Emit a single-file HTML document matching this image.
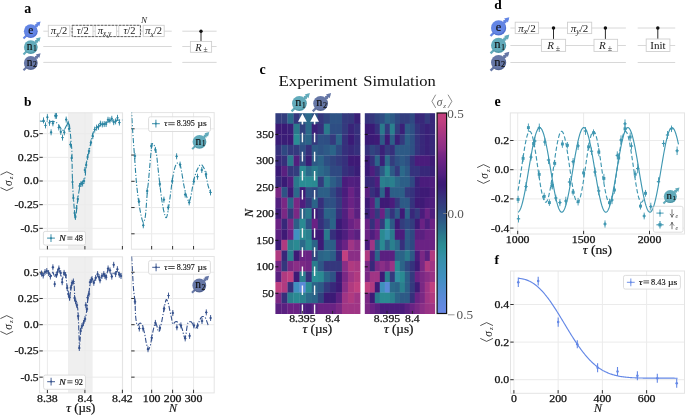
<!DOCTYPE html>
<html><head><meta charset="utf-8"><style>
html,body{margin:0;padding:0;background:#fff;}
svg{display:block;font-family:'Liberation Serif', serif;will-change:transform;}
</style></head><body>
<svg width="685" height="415" viewBox="0 0 685 415">
<defs><radialGradient id="ge" cx="0.45" cy="0.42" r="0.62"><stop offset="0" stop-color="#6385e4"/><stop offset="0.72" stop-color="#6385e4"/><stop offset="0.86" stop-color="#4c6ccc"/><stop offset="1" stop-color="#6385e4"/></radialGradient><radialGradient id="gn1" cx="0.45" cy="0.42" r="0.62"><stop offset="0" stop-color="#62abbb"/><stop offset="0.72" stop-color="#62abbb"/><stop offset="0.86" stop-color="#4a93a3"/><stop offset="1" stop-color="#62abbb"/></radialGradient><radialGradient id="gn2" cx="0.45" cy="0.42" r="0.62"><stop offset="0" stop-color="#6677a6"/><stop offset="0.72" stop-color="#6677a6"/><stop offset="0.86" stop-color="#52628e"/><stop offset="1" stop-color="#6677a6"/></radialGradient></defs>
<text x="24.30" y="12.80" font-size="14" text-anchor="start" font-weight="bold" font-style="normal" fill="#000" >a</text>
<text x="23.90" y="105.90" font-size="13.5" text-anchor="start" font-weight="bold" font-style="normal" fill="#000" >b</text>
<text x="259.40" y="73.50" font-size="14" text-anchor="start" font-weight="bold" font-style="normal" fill="#000" >c</text>
<text x="494.30" y="8.60" font-size="13.5" text-anchor="start" font-weight="bold" font-style="normal" fill="#000" >d</text>
<text x="494.50" y="105.90" font-size="14" text-anchor="start" font-weight="bold" font-style="normal" fill="#000" >e</text>
<text x="494.50" y="263.70" font-size="13.5" text-anchor="start" font-weight="bold" font-style="normal" fill="#000" >f</text>
<line x1="43.30" y1="31.20" x2="171.70" y2="31.20" stroke="#d4d4d4" stroke-width="0.9" />
<line x1="182.30" y1="31.20" x2="216.60" y2="31.20" stroke="#d4d4d4" stroke-width="0.9" />
<line x1="43.30" y1="46.50" x2="171.70" y2="46.50" stroke="#d4d4d4" stroke-width="0.9" />
<line x1="182.30" y1="46.50" x2="216.60" y2="46.50" stroke="#d4d4d4" stroke-width="0.9" />
<line x1="43.30" y1="62.40" x2="171.70" y2="62.40" stroke="#d4d4d4" stroke-width="0.9" />
<line x1="182.30" y1="62.40" x2="216.60" y2="62.40" stroke="#d4d4d4" stroke-width="0.9" />
<line x1="23.48" y1="38.52" x2="39.06" y2="22.94" stroke="#6385e4" stroke-width="2.07"/>
<polygon points="40.56,21.44 39.29,26.22 35.78,22.71" fill="#6385e4"/>
<polygon points="38.51,23.49 37.53,27.39 34.61,24.47" fill="#6385e4"/>
<circle cx="30.80" cy="31.20" r="6.90" fill="url(#ge)"/>
<text x="30.80" y="33.96" font-size="11.454" text-anchor="middle" font-weight="normal" font-style="normal" fill="#111" stroke="#111" stroke-width="0.2" >e</text>
<line x1="23.48" y1="54.42" x2="39.06" y2="38.84" stroke="#62abbb" stroke-width="2.07"/>
<polygon points="40.56,37.34 39.29,42.12 35.78,38.61" fill="#62abbb"/>
<polygon points="38.51,39.39 37.53,43.29 34.61,40.37" fill="#62abbb"/>
<circle cx="30.80" cy="47.10" r="6.90" fill="url(#gn1)"/>
<text x="29.70" y="49.86" font-size="11.454" text-anchor="middle" font-weight="normal" font-style="normal" fill="#111" stroke="#111" stroke-width="0.15" >n</text>
<text x="34.94" y="51.10" font-size="7.590000000000001" text-anchor="middle" font-weight="normal" font-style="normal" fill="#111" stroke="#111" stroke-width="0.12" >1</text>
<line x1="23.48" y1="70.32" x2="39.06" y2="54.74" stroke="#6677a6" stroke-width="2.07"/>
<polygon points="40.56,53.24 39.29,58.02 35.78,54.51" fill="#6677a6"/>
<polygon points="38.51,55.29 37.53,59.19 34.61,56.27" fill="#6677a6"/>
<circle cx="30.80" cy="63.00" r="6.90" fill="url(#gn2)"/>
<text x="29.70" y="65.76" font-size="11.454" text-anchor="middle" font-weight="normal" font-style="normal" fill="#111" stroke="#111" stroke-width="0.15" >n</text>
<text x="34.94" y="67.00" font-size="7.590000000000001" text-anchor="middle" font-weight="normal" font-style="normal" fill="#111" stroke="#111" stroke-width="0.12" >2</text>
<rect x="48.30" y="25.30" width="21.50" height="11.30" fill="#fff" stroke="#cfcfcf" stroke-width="0.9" />
<text x="59.00" y="34.40" font-size="10.5" text-anchor="middle" fill="#222" font-style="normal"><tspan font-style="italic">π</tspan><tspan font-size="7.3" dy="2.3" font-style="italic">x</tspan><tspan dy="-2.3">/2</tspan></text>
<rect x="72.60" y="25.30" width="20.40" height="11.30" fill="#fff" stroke="#cfcfcf" stroke-width="0.9" />
<text x="82.80" y="34.40" font-size="10.5" text-anchor="middle" fill="#222" font-style="normal"><tspan font-style="italic">τ</tspan>/2</text>
<rect x="95.20" y="25.30" width="21.40" height="11.30" fill="#fff" stroke="#cfcfcf" stroke-width="0.9" />
<text x="104.50" y="33.80" font-size="10.5" text-anchor="middle" fill="#222" font-style="normal"><tspan font-style="italic">π</tspan><tspan font-size="7.3" dy="2.3" font-style="italic">x,y</tspan><tspan dy="-2.3"></tspan></text>
<rect x="118.80" y="25.30" width="21.40" height="11.30" fill="#fff" stroke="#cfcfcf" stroke-width="0.9" />
<text x="129.50" y="34.40" font-size="10.5" text-anchor="middle" fill="#222" font-style="normal"><tspan font-style="italic">τ</tspan>/2</text>
<rect x="72.10" y="25.30" width="68.40" height="11.30" fill="none" stroke="#555" stroke-width="0.9" stroke-dasharray="2.4,1.2"/>
<text x="144.00" y="23.30" font-size="9" text-anchor="middle" font-weight="normal" font-style="italic" fill="#222" >N</text>
<rect x="143.20" y="25.30" width="21.00" height="11.30" fill="#fff" stroke="#cfcfcf" stroke-width="0.9" />
<text x="153.70" y="34.40" font-size="10.5" text-anchor="middle" fill="#222" font-style="normal"><tspan font-style="italic">π</tspan><tspan font-size="7.3" dy="2.3" font-style="italic">x</tspan><tspan dy="-2.3">/2</tspan></text>
<line x1="201.00" y1="31.20" x2="201.00" y2="41.40" stroke="#222" stroke-width="0.95" />
<circle cx="201" cy="31.2" r="1.7" fill="#111"/>
<rect x="190.40" y="41.40" width="21.20" height="10.90" fill="#fff" stroke="#cfcfcf" stroke-width="0.9" />
<text x="198.5" y="50.5" font-size="10.5" font-style="italic" text-anchor="middle" fill="#222">R</text><text x="205.5" y="52" font-size="7.5" text-anchor="middle" fill="#333">±</text>
<line x1="510.40" y1="28.00" x2="625.90" y2="28.00" stroke="#d4d4d4" stroke-width="0.9" />
<line x1="637.70" y1="28.00" x2="675.20" y2="28.00" stroke="#d4d4d4" stroke-width="0.9" />
<line x1="510.40" y1="45.50" x2="625.90" y2="45.50" stroke="#d4d4d4" stroke-width="0.9" />
<line x1="637.70" y1="45.50" x2="675.20" y2="45.50" stroke="#d4d4d4" stroke-width="0.9" />
<line x1="510.40" y1="62.50" x2="625.90" y2="62.50" stroke="#d4d4d4" stroke-width="0.9" />
<line x1="637.70" y1="62.50" x2="675.20" y2="62.50" stroke="#d4d4d4" stroke-width="0.9" />
<line x1="490.54" y1="35.96" x2="507.85" y2="18.65" stroke="#6385e4" stroke-width="2.28"/>
<polygon points="509.35,17.15 507.95,22.42 504.08,18.55" fill="#6385e4"/>
<polygon points="507.09,19.41 506.02,23.71 502.79,20.48" fill="#6385e4"/>
<circle cx="498.60" cy="27.90" r="7.60" fill="url(#ge)"/>
<text x="498.60" y="30.94" font-size="12.616" text-anchor="middle" font-weight="normal" font-style="normal" fill="#111" stroke="#111" stroke-width="0.2" >e</text>
<line x1="490.54" y1="53.36" x2="507.85" y2="36.05" stroke="#62abbb" stroke-width="2.28"/>
<polygon points="509.35,34.55 507.95,39.82 504.08,35.95" fill="#62abbb"/>
<polygon points="507.09,36.81 506.02,41.11 502.79,37.88" fill="#62abbb"/>
<circle cx="498.60" cy="45.30" r="7.60" fill="url(#gn1)"/>
<text x="497.38" y="48.34" font-size="12.616" text-anchor="middle" font-weight="normal" font-style="normal" fill="#111" stroke="#111" stroke-width="0.15" >n</text>
<text x="503.16" y="49.71" font-size="8.36" text-anchor="middle" font-weight="normal" font-style="normal" fill="#111" stroke="#111" stroke-width="0.12" >1</text>
<line x1="490.54" y1="70.66" x2="507.85" y2="53.35" stroke="#6677a6" stroke-width="2.28"/>
<polygon points="509.35,51.85 507.95,57.12 504.08,53.25" fill="#6677a6"/>
<polygon points="507.09,54.11 506.02,58.41 502.79,55.18" fill="#6677a6"/>
<circle cx="498.60" cy="62.60" r="7.60" fill="url(#gn2)"/>
<text x="497.38" y="65.64" font-size="12.616" text-anchor="middle" font-weight="normal" font-style="normal" fill="#111" stroke="#111" stroke-width="0.15" >n</text>
<text x="503.16" y="67.01" font-size="8.36" text-anchor="middle" font-weight="normal" font-style="normal" fill="#111" stroke="#111" stroke-width="0.12" >2</text>
<rect x="515.20" y="22.20" width="23.40" height="11.40" fill="#fff" stroke="#cfcfcf" stroke-width="0.9" />
<text x="526.90" y="31.60" font-size="11" text-anchor="middle" fill="#222" font-style="normal"><tspan font-style="italic">π</tspan><tspan font-size="7.7" dy="2.4" font-style="italic">x</tspan><tspan dy="-2.4">/2</tspan></text>
<rect x="567.50" y="22.20" width="24.20" height="11.40" fill="#fff" stroke="#cfcfcf" stroke-width="0.9" />
<text x="579.60" y="31.60" font-size="11" text-anchor="middle" fill="#222" font-style="normal"><tspan font-style="italic">π</tspan><tspan font-size="7.7" dy="2.4" font-style="italic">y</tspan><tspan dy="-2.4">/2</tspan></text>
<line x1="553.50" y1="28.00" x2="553.50" y2="39.30" stroke="#222" stroke-width="0.95" />
<circle cx="553.5" cy="28.0" r="1.75" fill="#111"/>
<rect x="541.40" y="39.30" width="24.20" height="12.10" fill="#fff" stroke="#cfcfcf" stroke-width="0.9" />
<text x="550.5" y="49.3" font-size="11" font-style="italic" text-anchor="middle" fill="#222">R</text><text x="558.0" y="51" font-size="8" text-anchor="middle" fill="#333">±</text>
<line x1="605.40" y1="28.00" x2="605.40" y2="39.30" stroke="#222" stroke-width="0.95" />
<circle cx="605.4" cy="28.0" r="1.75" fill="#111"/>
<rect x="594.00" y="39.30" width="23.60" height="12.10" fill="#fff" stroke="#cfcfcf" stroke-width="0.9" />
<text x="602.4" y="49.3" font-size="11" font-style="italic" text-anchor="middle" fill="#222">R</text><text x="609.9" y="51" font-size="8" text-anchor="middle" fill="#333">±</text>
<line x1="657.80" y1="28.00" x2="657.80" y2="39.00" stroke="#222" stroke-width="0.95" />
<circle cx="657.8" cy="28.0" r="1.75" fill="#111"/>
<rect x="646.20" y="39.00" width="23.70" height="12.50" fill="#fff" stroke="#cfcfcf" stroke-width="0.9" />
<text x="658" y="49.2" font-size="11" text-anchor="middle" fill="#111">Init</text>
<rect x="275.40" y="113.20" width="6.35" height="10.85" fill="#333d7e"/>
<rect x="281.45" y="113.20" width="6.35" height="10.85" fill="#333d7e"/>
<rect x="287.50" y="113.20" width="6.35" height="10.85" fill="#2b6a8a"/>
<rect x="293.55" y="113.20" width="6.35" height="10.85" fill="#35377d"/>
<rect x="299.60" y="113.20" width="6.35" height="10.85" fill="#2d5a86"/>
<rect x="305.65" y="113.20" width="6.35" height="10.85" fill="#2b6a8a"/>
<rect x="311.70" y="113.20" width="6.35" height="10.85" fill="#2e5385"/>
<rect x="317.75" y="113.20" width="6.35" height="10.85" fill="#35377d"/>
<rect x="323.80" y="113.20" width="6.35" height="10.85" fill="#30447f"/>
<rect x="329.85" y="113.20" width="6.35" height="10.85" fill="#2e5385"/>
<rect x="335.90" y="113.20" width="6.35" height="10.85" fill="#2e5385"/>
<rect x="341.95" y="113.20" width="6.35" height="10.85" fill="#343a7e"/>
<rect x="348.00" y="113.20" width="6.35" height="10.85" fill="#35377d"/>
<rect x="354.05" y="113.20" width="6.35" height="10.85" fill="#3a2078"/>
<rect x="275.40" y="123.75" width="6.35" height="10.85" fill="#3c1a76"/>
<rect x="281.45" y="123.75" width="6.35" height="10.85" fill="#3a1a76"/>
<rect x="287.50" y="123.75" width="6.35" height="10.85" fill="#3a2078"/>
<rect x="293.55" y="123.75" width="6.35" height="10.85" fill="#2a7a8c"/>
<rect x="299.60" y="123.75" width="6.35" height="10.85" fill="#31417f"/>
<rect x="305.65" y="123.75" width="6.35" height="10.85" fill="#2b6a8a"/>
<rect x="311.70" y="123.75" width="6.35" height="10.85" fill="#3a2078"/>
<rect x="317.75" y="123.75" width="6.35" height="10.85" fill="#36307c"/>
<rect x="323.80" y="123.75" width="6.35" height="10.85" fill="#2a7a8c"/>
<rect x="329.85" y="123.75" width="6.35" height="10.85" fill="#2e4e84"/>
<rect x="335.90" y="123.75" width="6.35" height="10.85" fill="#2e4e84"/>
<rect x="341.95" y="123.75" width="6.35" height="10.85" fill="#343a7e"/>
<rect x="348.00" y="123.75" width="6.35" height="10.85" fill="#392479"/>
<rect x="354.05" y="123.75" width="6.35" height="10.85" fill="#36307c"/>
<rect x="275.40" y="134.31" width="6.35" height="10.85" fill="#3a1d77"/>
<rect x="281.45" y="134.31" width="6.35" height="10.85" fill="#3a1d77"/>
<rect x="287.50" y="134.31" width="6.35" height="10.85" fill="#3c1a76"/>
<rect x="293.55" y="134.31" width="6.35" height="10.85" fill="#2a8c94"/>
<rect x="299.60" y="134.31" width="6.35" height="10.85" fill="#2d5a86"/>
<rect x="305.65" y="134.31" width="6.35" height="10.85" fill="#2b6488"/>
<rect x="311.70" y="134.31" width="6.35" height="10.85" fill="#343a7e"/>
<rect x="317.75" y="134.31" width="6.35" height="10.85" fill="#2e5084"/>
<rect x="323.80" y="134.31" width="6.35" height="10.85" fill="#2e4e84"/>
<rect x="329.85" y="134.31" width="6.35" height="10.85" fill="#343a7e"/>
<rect x="335.90" y="134.31" width="6.35" height="10.85" fill="#2b6488"/>
<rect x="341.95" y="134.31" width="6.35" height="10.85" fill="#36307c"/>
<rect x="348.00" y="134.31" width="6.35" height="10.85" fill="#3a1a76"/>
<rect x="354.05" y="134.31" width="6.35" height="10.85" fill="#372c7b"/>
<rect x="275.40" y="144.86" width="6.35" height="10.85" fill="#36307c"/>
<rect x="281.45" y="144.86" width="6.35" height="10.85" fill="#2f4982"/>
<rect x="287.50" y="144.86" width="6.35" height="10.85" fill="#343a7e"/>
<rect x="293.55" y="144.86" width="6.35" height="10.85" fill="#343a7e"/>
<rect x="299.60" y="144.86" width="6.35" height="10.85" fill="#2e4e84"/>
<rect x="305.65" y="144.86" width="6.35" height="10.85" fill="#36307c"/>
<rect x="311.70" y="144.86" width="6.35" height="10.85" fill="#2d5a86"/>
<rect x="317.75" y="144.86" width="6.35" height="10.85" fill="#2e5385"/>
<rect x="323.80" y="144.86" width="6.35" height="10.85" fill="#2d5a86"/>
<rect x="329.85" y="144.86" width="6.35" height="10.85" fill="#2b6488"/>
<rect x="335.90" y="144.86" width="6.35" height="10.85" fill="#2f4982"/>
<rect x="341.95" y="144.86" width="6.35" height="10.85" fill="#36307c"/>
<rect x="348.00" y="144.86" width="6.35" height="10.85" fill="#38287a"/>
<rect x="354.05" y="144.86" width="6.35" height="10.85" fill="#36307c"/>
<rect x="275.40" y="155.41" width="6.35" height="10.85" fill="#38287a"/>
<rect x="281.45" y="155.41" width="6.35" height="10.85" fill="#36307c"/>
<rect x="287.50" y="155.41" width="6.35" height="10.85" fill="#2a7a8c"/>
<rect x="293.55" y="155.41" width="6.35" height="10.85" fill="#521f7f"/>
<rect x="299.60" y="155.41" width="6.35" height="10.85" fill="#2f4982"/>
<rect x="305.65" y="155.41" width="6.35" height="10.85" fill="#3a2078"/>
<rect x="311.70" y="155.41" width="6.35" height="10.85" fill="#2d5a86"/>
<rect x="317.75" y="155.41" width="6.35" height="10.85" fill="#2b6488"/>
<rect x="323.80" y="155.41" width="6.35" height="10.85" fill="#2e4e84"/>
<rect x="329.85" y="155.41" width="6.35" height="10.85" fill="#30447f"/>
<rect x="335.90" y="155.41" width="6.35" height="10.85" fill="#343a7e"/>
<rect x="341.95" y="155.41" width="6.35" height="10.85" fill="#36307c"/>
<rect x="348.00" y="155.41" width="6.35" height="10.85" fill="#3e1a76"/>
<rect x="354.05" y="155.41" width="6.35" height="10.85" fill="#3e1a76"/>
<rect x="275.40" y="165.96" width="6.35" height="10.85" fill="#3a1a76"/>
<rect x="281.45" y="165.96" width="6.35" height="10.85" fill="#5a2080"/>
<rect x="287.50" y="165.96" width="6.35" height="10.85" fill="#35377d"/>
<rect x="293.55" y="165.96" width="6.35" height="10.85" fill="#333d7e"/>
<rect x="299.60" y="165.96" width="6.35" height="10.85" fill="#2a8a92"/>
<rect x="305.65" y="165.96" width="6.35" height="10.85" fill="#2b6a8a"/>
<rect x="311.70" y="165.96" width="6.35" height="10.85" fill="#2a7a8c"/>
<rect x="317.75" y="165.96" width="6.35" height="10.85" fill="#2b6a8a"/>
<rect x="323.80" y="165.96" width="6.35" height="10.85" fill="#2c5f87"/>
<rect x="329.85" y="165.96" width="6.35" height="10.85" fill="#2f4982"/>
<rect x="335.90" y="165.96" width="6.35" height="10.85" fill="#2f4982"/>
<rect x="341.95" y="165.96" width="6.35" height="10.85" fill="#36307c"/>
<rect x="348.00" y="165.96" width="6.35" height="10.85" fill="#38287a"/>
<rect x="354.05" y="165.96" width="6.35" height="10.85" fill="#3a1d77"/>
<rect x="275.40" y="176.52" width="6.35" height="10.85" fill="#38287a"/>
<rect x="281.45" y="176.52" width="6.35" height="10.85" fill="#3a1a76"/>
<rect x="287.50" y="176.52" width="6.35" height="10.85" fill="#521f7f"/>
<rect x="293.55" y="176.52" width="6.35" height="10.85" fill="#2a7a8c"/>
<rect x="299.60" y="176.52" width="6.35" height="10.85" fill="#2a8c94"/>
<rect x="305.65" y="176.52" width="6.35" height="10.85" fill="#2a8c94"/>
<rect x="311.70" y="176.52" width="6.35" height="10.85" fill="#2a8a92"/>
<rect x="317.75" y="176.52" width="6.35" height="10.85" fill="#333d7e"/>
<rect x="323.80" y="176.52" width="6.35" height="10.85" fill="#2a7a8c"/>
<rect x="329.85" y="176.52" width="6.35" height="10.85" fill="#2c5f87"/>
<rect x="335.90" y="176.52" width="6.35" height="10.85" fill="#2e4e84"/>
<rect x="341.95" y="176.52" width="6.35" height="10.85" fill="#4a1c7c"/>
<rect x="348.00" y="176.52" width="6.35" height="10.85" fill="#521f7f"/>
<rect x="354.05" y="176.52" width="6.35" height="10.85" fill="#4e1e7e"/>
<rect x="275.40" y="187.07" width="6.35" height="10.85" fill="#7a2884"/>
<rect x="281.45" y="187.07" width="6.35" height="10.85" fill="#2e5385"/>
<rect x="287.50" y="187.07" width="6.35" height="10.85" fill="#3e1a76"/>
<rect x="293.55" y="187.07" width="6.35" height="10.85" fill="#2b6a8a"/>
<rect x="299.60" y="187.07" width="6.35" height="10.85" fill="#3c1a76"/>
<rect x="305.65" y="187.07" width="6.35" height="10.85" fill="#2e5084"/>
<rect x="311.70" y="187.07" width="6.35" height="10.85" fill="#2f4982"/>
<rect x="317.75" y="187.07" width="6.35" height="10.85" fill="#2c5f87"/>
<rect x="323.80" y="187.07" width="6.35" height="10.85" fill="#2c5f87"/>
<rect x="329.85" y="187.07" width="6.35" height="10.85" fill="#2f4982"/>
<rect x="335.90" y="187.07" width="6.35" height="10.85" fill="#36307c"/>
<rect x="341.95" y="187.07" width="6.35" height="10.85" fill="#4a1c7c"/>
<rect x="348.00" y="187.07" width="6.35" height="10.85" fill="#6a2284"/>
<rect x="354.05" y="187.07" width="6.35" height="10.85" fill="#521f7f"/>
<rect x="275.40" y="197.62" width="6.35" height="10.85" fill="#521f7f"/>
<rect x="281.45" y="197.62" width="6.35" height="10.85" fill="#7a2884"/>
<rect x="287.50" y="197.62" width="6.35" height="10.85" fill="#2b6488"/>
<rect x="293.55" y="197.62" width="6.35" height="10.85" fill="#7a2884"/>
<rect x="299.60" y="197.62" width="6.35" height="10.85" fill="#4e1e7e"/>
<rect x="305.65" y="197.62" width="6.35" height="10.85" fill="#343a7e"/>
<rect x="311.70" y="197.62" width="6.35" height="10.85" fill="#2b6488"/>
<rect x="317.75" y="197.62" width="6.35" height="10.85" fill="#36307c"/>
<rect x="323.80" y="197.62" width="6.35" height="10.85" fill="#2e5084"/>
<rect x="329.85" y="197.62" width="6.35" height="10.85" fill="#2e5084"/>
<rect x="335.90" y="197.62" width="6.35" height="10.85" fill="#343a7e"/>
<rect x="341.95" y="197.62" width="6.35" height="10.85" fill="#521f7f"/>
<rect x="348.00" y="197.62" width="6.35" height="10.85" fill="#6a2284"/>
<rect x="354.05" y="197.62" width="6.35" height="10.85" fill="#5a2080"/>
<rect x="275.40" y="208.17" width="6.35" height="10.85" fill="#3e1a76"/>
<rect x="281.45" y="208.17" width="6.35" height="10.85" fill="#7a2884"/>
<rect x="287.50" y="208.17" width="6.35" height="10.85" fill="#343a7e"/>
<rect x="293.55" y="208.17" width="6.35" height="10.85" fill="#7a2884"/>
<rect x="299.60" y="208.17" width="6.35" height="10.85" fill="#2b6488"/>
<rect x="305.65" y="208.17" width="6.35" height="10.85" fill="#2a7a8c"/>
<rect x="311.70" y="208.17" width="6.35" height="10.85" fill="#3a1a76"/>
<rect x="317.75" y="208.17" width="6.35" height="10.85" fill="#36307c"/>
<rect x="323.80" y="208.17" width="6.35" height="10.85" fill="#2b6488"/>
<rect x="329.85" y="208.17" width="6.35" height="10.85" fill="#2c5f87"/>
<rect x="335.90" y="208.17" width="6.35" height="10.85" fill="#36307c"/>
<rect x="341.95" y="208.17" width="6.35" height="10.85" fill="#521f7f"/>
<rect x="348.00" y="208.17" width="6.35" height="10.85" fill="#7a2884"/>
<rect x="354.05" y="208.17" width="6.35" height="10.85" fill="#5a2080"/>
<rect x="275.40" y="218.73" width="6.35" height="10.85" fill="#6a2284"/>
<rect x="281.45" y="218.73" width="6.35" height="10.85" fill="#38287a"/>
<rect x="287.50" y="218.73" width="6.35" height="10.85" fill="#7a2884"/>
<rect x="293.55" y="218.73" width="6.35" height="10.85" fill="#2c5f87"/>
<rect x="299.60" y="218.73" width="6.35" height="10.85" fill="#2a8a92"/>
<rect x="305.65" y="218.73" width="6.35" height="10.85" fill="#2e5385"/>
<rect x="311.70" y="218.73" width="6.35" height="10.85" fill="#6a2284"/>
<rect x="317.75" y="218.73" width="6.35" height="10.85" fill="#36307c"/>
<rect x="323.80" y="218.73" width="6.35" height="10.85" fill="#2f4982"/>
<rect x="329.85" y="218.73" width="6.35" height="10.85" fill="#2b6488"/>
<rect x="335.90" y="218.73" width="6.35" height="10.85" fill="#3a1a76"/>
<rect x="341.95" y="218.73" width="6.35" height="10.85" fill="#4e1e7e"/>
<rect x="348.00" y="218.73" width="6.35" height="10.85" fill="#6a2284"/>
<rect x="354.05" y="218.73" width="6.35" height="10.85" fill="#7a2884"/>
<rect x="275.40" y="229.28" width="6.35" height="10.85" fill="#5a2080"/>
<rect x="281.45" y="229.28" width="6.35" height="10.85" fill="#3e1a76"/>
<rect x="287.50" y="229.28" width="6.35" height="10.85" fill="#6a2284"/>
<rect x="293.55" y="229.28" width="6.35" height="10.85" fill="#4090c0"/>
<rect x="299.60" y="229.28" width="6.35" height="10.85" fill="#2a8a92"/>
<rect x="305.65" y="229.28" width="6.35" height="10.85" fill="#2a808e"/>
<rect x="311.70" y="229.28" width="6.35" height="10.85" fill="#3c1a76"/>
<rect x="317.75" y="229.28" width="6.35" height="10.85" fill="#3e1a76"/>
<rect x="323.80" y="229.28" width="6.35" height="10.85" fill="#2a7a8c"/>
<rect x="329.85" y="229.28" width="6.35" height="10.85" fill="#36307c"/>
<rect x="335.90" y="229.28" width="6.35" height="10.85" fill="#3a1a76"/>
<rect x="341.95" y="229.28" width="6.35" height="10.85" fill="#4e1e7e"/>
<rect x="348.00" y="229.28" width="6.35" height="10.85" fill="#6a2284"/>
<rect x="354.05" y="229.28" width="6.35" height="10.85" fill="#5a2080"/>
<rect x="275.40" y="239.83" width="6.35" height="10.85" fill="#3c1a76"/>
<rect x="281.45" y="239.83" width="6.35" height="10.85" fill="#b03a80"/>
<rect x="287.50" y="239.83" width="6.35" height="10.85" fill="#2a808e"/>
<rect x="293.55" y="239.83" width="6.35" height="10.85" fill="#2a8a92"/>
<rect x="299.60" y="239.83" width="6.35" height="10.85" fill="#2b6a8a"/>
<rect x="305.65" y="239.83" width="6.35" height="10.85" fill="#2a8a92"/>
<rect x="311.70" y="239.83" width="6.35" height="10.85" fill="#2b6488"/>
<rect x="317.75" y="239.83" width="6.35" height="10.85" fill="#3c1a76"/>
<rect x="323.80" y="239.83" width="6.35" height="10.85" fill="#2c5f87"/>
<rect x="329.85" y="239.83" width="6.35" height="10.85" fill="#2c5f87"/>
<rect x="335.90" y="239.83" width="6.35" height="10.85" fill="#4e1e7e"/>
<rect x="341.95" y="239.83" width="6.35" height="10.85" fill="#6a2284"/>
<rect x="348.00" y="239.83" width="6.35" height="10.85" fill="#a03585"/>
<rect x="354.05" y="239.83" width="6.35" height="10.85" fill="#8a2e86"/>
<rect x="275.40" y="250.38" width="6.35" height="10.85" fill="#b03a80"/>
<rect x="281.45" y="250.38" width="6.35" height="10.85" fill="#38287a"/>
<rect x="287.50" y="250.38" width="6.35" height="10.85" fill="#2a808e"/>
<rect x="293.55" y="250.38" width="6.35" height="10.85" fill="#3e1a76"/>
<rect x="299.60" y="250.38" width="6.35" height="10.85" fill="#6a2284"/>
<rect x="305.65" y="250.38" width="6.35" height="10.85" fill="#6a2284"/>
<rect x="311.70" y="250.38" width="6.35" height="10.85" fill="#30447f"/>
<rect x="317.75" y="250.38" width="6.35" height="10.85" fill="#2b6488"/>
<rect x="323.80" y="250.38" width="6.35" height="10.85" fill="#2b6a8a"/>
<rect x="329.85" y="250.38" width="6.35" height="10.85" fill="#2c5f87"/>
<rect x="335.90" y="250.38" width="6.35" height="10.85" fill="#38287a"/>
<rect x="341.95" y="250.38" width="6.35" height="10.85" fill="#c14080"/>
<rect x="348.00" y="250.38" width="6.35" height="10.85" fill="#8a2e86"/>
<rect x="354.05" y="250.38" width="6.35" height="10.85" fill="#8a2e86"/>
<rect x="275.40" y="260.94" width="6.35" height="10.85" fill="#722584"/>
<rect x="281.45" y="260.94" width="6.35" height="10.85" fill="#35377d"/>
<rect x="287.50" y="260.94" width="6.35" height="10.85" fill="#7a2884"/>
<rect x="293.55" y="260.94" width="6.35" height="10.85" fill="#8a2e86"/>
<rect x="299.60" y="260.94" width="6.35" height="10.85" fill="#7a2884"/>
<rect x="305.65" y="260.94" width="6.35" height="10.85" fill="#722584"/>
<rect x="311.70" y="260.94" width="6.35" height="10.85" fill="#2a7d8d"/>
<rect x="317.75" y="260.94" width="6.35" height="10.85" fill="#2e5686"/>
<rect x="323.80" y="260.94" width="6.35" height="10.85" fill="#35377d"/>
<rect x="329.85" y="260.94" width="6.35" height="10.85" fill="#35377d"/>
<rect x="335.90" y="260.94" width="6.35" height="10.85" fill="#35377d"/>
<rect x="341.95" y="260.94" width="6.35" height="10.85" fill="#8a2e86"/>
<rect x="348.00" y="260.94" width="6.35" height="10.85" fill="#b03a80"/>
<rect x="354.05" y="260.94" width="6.35" height="10.85" fill="#a83882"/>
<rect x="275.40" y="271.49" width="6.35" height="10.85" fill="#5a2080"/>
<rect x="281.45" y="271.49" width="6.35" height="10.85" fill="#b03a80"/>
<rect x="287.50" y="271.49" width="6.35" height="10.85" fill="#c04080"/>
<rect x="293.55" y="271.49" width="6.35" height="10.85" fill="#3e1a76"/>
<rect x="299.60" y="271.49" width="6.35" height="10.85" fill="#2a808e"/>
<rect x="305.65" y="271.49" width="6.35" height="10.85" fill="#36307c"/>
<rect x="311.70" y="271.49" width="6.35" height="10.85" fill="#2a8e96"/>
<rect x="317.75" y="271.49" width="6.35" height="10.85" fill="#2a8a92"/>
<rect x="323.80" y="271.49" width="6.35" height="10.85" fill="#2b6488"/>
<rect x="329.85" y="271.49" width="6.35" height="10.85" fill="#2e5385"/>
<rect x="335.90" y="271.49" width="6.35" height="10.85" fill="#3c1a76"/>
<rect x="341.95" y="271.49" width="6.35" height="10.85" fill="#7a2884"/>
<rect x="348.00" y="271.49" width="6.35" height="10.85" fill="#a03585"/>
<rect x="354.05" y="271.49" width="6.35" height="10.85" fill="#b03a80"/>
<rect x="275.40" y="282.04" width="6.35" height="10.85" fill="#c04080"/>
<rect x="281.45" y="282.04" width="6.35" height="10.85" fill="#b03a80"/>
<rect x="287.50" y="282.04" width="6.35" height="10.85" fill="#36307c"/>
<rect x="293.55" y="282.04" width="6.35" height="10.85" fill="#4090c0"/>
<rect x="299.60" y="282.04" width="6.35" height="10.85" fill="#5a8ad8"/>
<rect x="305.65" y="282.04" width="6.35" height="10.85" fill="#2a8c94"/>
<rect x="311.70" y="282.04" width="6.35" height="10.85" fill="#2b6488"/>
<rect x="317.75" y="282.04" width="6.35" height="10.85" fill="#2d5a86"/>
<rect x="323.80" y="282.04" width="6.35" height="10.85" fill="#343a7e"/>
<rect x="329.85" y="282.04" width="6.35" height="10.85" fill="#38287a"/>
<rect x="335.90" y="282.04" width="6.35" height="10.85" fill="#3c1a76"/>
<rect x="341.95" y="282.04" width="6.35" height="10.85" fill="#8a2e86"/>
<rect x="348.00" y="282.04" width="6.35" height="10.85" fill="#b03a80"/>
<rect x="354.05" y="282.04" width="6.35" height="10.85" fill="#c04080"/>
<rect x="275.40" y="292.59" width="6.35" height="10.85" fill="#7a2884"/>
<rect x="281.45" y="292.59" width="6.35" height="10.85" fill="#36307c"/>
<rect x="287.50" y="292.59" width="6.35" height="10.85" fill="#2a808e"/>
<rect x="293.55" y="292.59" width="6.35" height="10.85" fill="#2a8a92"/>
<rect x="299.60" y="292.59" width="6.35" height="10.85" fill="#2a808e"/>
<rect x="305.65" y="292.59" width="6.35" height="10.85" fill="#2b6a8a"/>
<rect x="311.70" y="292.59" width="6.35" height="10.85" fill="#2b6488"/>
<rect x="317.75" y="292.59" width="6.35" height="10.85" fill="#30447f"/>
<rect x="323.80" y="292.59" width="6.35" height="10.85" fill="#3c1a76"/>
<rect x="329.85" y="292.59" width="6.35" height="10.85" fill="#3c1a76"/>
<rect x="335.90" y="292.59" width="6.35" height="10.85" fill="#5a2080"/>
<rect x="341.95" y="292.59" width="6.35" height="10.85" fill="#a03585"/>
<rect x="348.00" y="292.59" width="6.35" height="10.85" fill="#b03a80"/>
<rect x="354.05" y="292.59" width="6.35" height="10.85" fill="#a03585"/>
<rect x="275.40" y="303.15" width="6.35" height="10.85" fill="#5a2080"/>
<rect x="281.45" y="303.15" width="6.35" height="10.85" fill="#5a2080"/>
<rect x="287.50" y="303.15" width="6.35" height="10.85" fill="#6a2284"/>
<rect x="293.55" y="303.15" width="6.35" height="10.85" fill="#6a2284"/>
<rect x="299.60" y="303.15" width="6.35" height="10.85" fill="#4a1c7c"/>
<rect x="305.65" y="303.15" width="6.35" height="10.85" fill="#4a1c7c"/>
<rect x="311.70" y="303.15" width="6.35" height="10.85" fill="#5a2080"/>
<rect x="317.75" y="303.15" width="6.35" height="10.85" fill="#6a2284"/>
<rect x="323.80" y="303.15" width="6.35" height="10.85" fill="#6a2284"/>
<rect x="329.85" y="303.15" width="6.35" height="10.85" fill="#6a2284"/>
<rect x="335.90" y="303.15" width="6.35" height="10.85" fill="#7a2884"/>
<rect x="341.95" y="303.15" width="6.35" height="10.85" fill="#a03585"/>
<rect x="348.00" y="303.15" width="6.35" height="10.85" fill="#a03585"/>
<rect x="354.05" y="303.15" width="6.35" height="10.85" fill="#a03585"/>
<line x1="281.45" y1="113.20" x2="281.45" y2="313.70" stroke="rgba(255,255,255,0.045)" stroke-width="0.6" />
<line x1="287.50" y1="113.20" x2="287.50" y2="313.70" stroke="rgba(255,255,255,0.045)" stroke-width="0.6" />
<line x1="293.55" y1="113.20" x2="293.55" y2="313.70" stroke="rgba(255,255,255,0.045)" stroke-width="0.6" />
<line x1="299.60" y1="113.20" x2="299.60" y2="313.70" stroke="rgba(255,255,255,0.045)" stroke-width="0.6" />
<line x1="305.65" y1="113.20" x2="305.65" y2="313.70" stroke="rgba(255,255,255,0.045)" stroke-width="0.6" />
<line x1="311.70" y1="113.20" x2="311.70" y2="313.70" stroke="rgba(255,255,255,0.045)" stroke-width="0.6" />
<line x1="317.75" y1="113.20" x2="317.75" y2="313.70" stroke="rgba(255,255,255,0.045)" stroke-width="0.6" />
<line x1="323.80" y1="113.20" x2="323.80" y2="313.70" stroke="rgba(255,255,255,0.045)" stroke-width="0.6" />
<line x1="329.85" y1="113.20" x2="329.85" y2="313.70" stroke="rgba(255,255,255,0.045)" stroke-width="0.6" />
<line x1="335.90" y1="113.20" x2="335.90" y2="313.70" stroke="rgba(255,255,255,0.045)" stroke-width="0.6" />
<line x1="341.95" y1="113.20" x2="341.95" y2="313.70" stroke="rgba(255,255,255,0.045)" stroke-width="0.6" />
<line x1="348.00" y1="113.20" x2="348.00" y2="313.70" stroke="rgba(255,255,255,0.045)" stroke-width="0.6" />
<line x1="354.05" y1="113.20" x2="354.05" y2="313.70" stroke="rgba(255,255,255,0.045)" stroke-width="0.6" />
<line x1="275.40" y1="123.75" x2="360.10" y2="123.75" stroke="rgba(255,255,255,0.045)" stroke-width="0.6" />
<line x1="275.40" y1="134.31" x2="360.10" y2="134.31" stroke="rgba(255,255,255,0.045)" stroke-width="0.6" />
<line x1="275.40" y1="144.86" x2="360.10" y2="144.86" stroke="rgba(255,255,255,0.045)" stroke-width="0.6" />
<line x1="275.40" y1="155.41" x2="360.10" y2="155.41" stroke="rgba(255,255,255,0.045)" stroke-width="0.6" />
<line x1="275.40" y1="165.96" x2="360.10" y2="165.96" stroke="rgba(255,255,255,0.045)" stroke-width="0.6" />
<line x1="275.40" y1="176.52" x2="360.10" y2="176.52" stroke="rgba(255,255,255,0.045)" stroke-width="0.6" />
<line x1="275.40" y1="187.07" x2="360.10" y2="187.07" stroke="rgba(255,255,255,0.045)" stroke-width="0.6" />
<line x1="275.40" y1="197.62" x2="360.10" y2="197.62" stroke="rgba(255,255,255,0.045)" stroke-width="0.6" />
<line x1="275.40" y1="208.17" x2="360.10" y2="208.17" stroke="rgba(255,255,255,0.045)" stroke-width="0.6" />
<line x1="275.40" y1="218.73" x2="360.10" y2="218.73" stroke="rgba(255,255,255,0.045)" stroke-width="0.6" />
<line x1="275.40" y1="229.28" x2="360.10" y2="229.28" stroke="rgba(255,255,255,0.045)" stroke-width="0.6" />
<line x1="275.40" y1="239.83" x2="360.10" y2="239.83" stroke="rgba(255,255,255,0.045)" stroke-width="0.6" />
<line x1="275.40" y1="250.38" x2="360.10" y2="250.38" stroke="rgba(255,255,255,0.045)" stroke-width="0.6" />
<line x1="275.40" y1="260.94" x2="360.10" y2="260.94" stroke="rgba(255,255,255,0.045)" stroke-width="0.6" />
<line x1="275.40" y1="271.49" x2="360.10" y2="271.49" stroke="rgba(255,255,255,0.045)" stroke-width="0.6" />
<line x1="275.40" y1="282.04" x2="360.10" y2="282.04" stroke="rgba(255,255,255,0.045)" stroke-width="0.6" />
<line x1="275.40" y1="292.59" x2="360.10" y2="292.59" stroke="rgba(255,255,255,0.045)" stroke-width="0.6" />
<line x1="275.40" y1="303.15" x2="360.10" y2="303.15" stroke="rgba(255,255,255,0.045)" stroke-width="0.6" />
<rect x="364.80" y="113.20" width="5.30" height="10.85" fill="#35337d"/>
<rect x="369.80" y="113.20" width="5.30" height="10.85" fill="#35377d"/>
<rect x="374.80" y="113.20" width="5.30" height="10.85" fill="#30447f"/>
<rect x="379.80" y="113.20" width="5.30" height="10.85" fill="#2e4e84"/>
<rect x="384.80" y="113.20" width="5.30" height="10.85" fill="#2b6488"/>
<rect x="389.80" y="113.20" width="5.30" height="10.85" fill="#2d5a86"/>
<rect x="394.80" y="113.20" width="5.30" height="10.85" fill="#2f4982"/>
<rect x="399.80" y="113.20" width="5.30" height="10.85" fill="#333d7e"/>
<rect x="404.80" y="113.20" width="5.30" height="10.85" fill="#333d7e"/>
<rect x="409.80" y="113.20" width="5.30" height="10.85" fill="#2f4982"/>
<rect x="414.80" y="113.20" width="5.30" height="10.85" fill="#38287a"/>
<rect x="419.80" y="113.20" width="5.30" height="10.85" fill="#38287a"/>
<rect x="424.80" y="113.20" width="5.30" height="10.85" fill="#343a7e"/>
<rect x="429.80" y="113.20" width="5.30" height="10.85" fill="#38287a"/>
<rect x="364.80" y="123.75" width="5.30" height="10.85" fill="#3a1a76"/>
<rect x="369.80" y="123.75" width="5.30" height="10.85" fill="#3a1a76"/>
<rect x="374.80" y="123.75" width="5.30" height="10.85" fill="#36307c"/>
<rect x="379.80" y="123.75" width="5.30" height="10.85" fill="#2a7a8c"/>
<rect x="384.80" y="123.75" width="5.30" height="10.85" fill="#343a7e"/>
<rect x="389.80" y="123.75" width="5.30" height="10.85" fill="#2a808e"/>
<rect x="394.80" y="123.75" width="5.30" height="10.85" fill="#333d7e"/>
<rect x="399.80" y="123.75" width="5.30" height="10.85" fill="#3a2078"/>
<rect x="404.80" y="123.75" width="5.30" height="10.85" fill="#2d5a86"/>
<rect x="409.80" y="123.75" width="5.30" height="10.85" fill="#2e5084"/>
<rect x="414.80" y="123.75" width="5.30" height="10.85" fill="#35337d"/>
<rect x="419.80" y="123.75" width="5.30" height="10.85" fill="#38287a"/>
<rect x="424.80" y="123.75" width="5.30" height="10.85" fill="#3a2078"/>
<rect x="429.80" y="123.75" width="5.30" height="10.85" fill="#38287a"/>
<rect x="364.80" y="134.31" width="5.30" height="10.85" fill="#3a1a76"/>
<rect x="369.80" y="134.31" width="5.30" height="10.85" fill="#3a1a76"/>
<rect x="374.80" y="134.31" width="5.30" height="10.85" fill="#3e1a76"/>
<rect x="379.80" y="134.31" width="5.30" height="10.85" fill="#2d5a86"/>
<rect x="384.80" y="134.31" width="5.30" height="10.85" fill="#3e1a76"/>
<rect x="389.80" y="134.31" width="5.30" height="10.85" fill="#2c5f87"/>
<rect x="394.80" y="134.31" width="5.30" height="10.85" fill="#3a2078"/>
<rect x="399.80" y="134.31" width="5.30" height="10.85" fill="#343a7e"/>
<rect x="404.80" y="134.31" width="5.30" height="10.85" fill="#2c5f87"/>
<rect x="409.80" y="134.31" width="5.30" height="10.85" fill="#2e5084"/>
<rect x="414.80" y="134.31" width="5.30" height="10.85" fill="#35337d"/>
<rect x="419.80" y="134.31" width="5.30" height="10.85" fill="#38287a"/>
<rect x="424.80" y="134.31" width="5.30" height="10.85" fill="#3a2078"/>
<rect x="429.80" y="134.31" width="5.30" height="10.85" fill="#38287a"/>
<rect x="364.80" y="144.86" width="5.30" height="10.85" fill="#36307c"/>
<rect x="369.80" y="144.86" width="5.30" height="10.85" fill="#30447f"/>
<rect x="374.80" y="144.86" width="5.30" height="10.85" fill="#343a7e"/>
<rect x="379.80" y="144.86" width="5.30" height="10.85" fill="#3a2078"/>
<rect x="384.80" y="144.86" width="5.30" height="10.85" fill="#343a7e"/>
<rect x="389.80" y="144.86" width="5.30" height="10.85" fill="#36307c"/>
<rect x="394.80" y="144.86" width="5.30" height="10.85" fill="#2d5a86"/>
<rect x="399.80" y="144.86" width="5.30" height="10.85" fill="#2d5a86"/>
<rect x="404.80" y="144.86" width="5.30" height="10.85" fill="#2d5a86"/>
<rect x="409.80" y="144.86" width="5.30" height="10.85" fill="#2e5084"/>
<rect x="414.80" y="144.86" width="5.30" height="10.85" fill="#35337d"/>
<rect x="419.80" y="144.86" width="5.30" height="10.85" fill="#38287a"/>
<rect x="424.80" y="144.86" width="5.30" height="10.85" fill="#3a2078"/>
<rect x="429.80" y="144.86" width="5.30" height="10.85" fill="#38287a"/>
<rect x="364.80" y="155.41" width="5.30" height="10.85" fill="#3a1a76"/>
<rect x="369.80" y="155.41" width="5.30" height="10.85" fill="#36307c"/>
<rect x="374.80" y="155.41" width="5.30" height="10.85" fill="#2b6488"/>
<rect x="379.80" y="155.41" width="5.30" height="10.85" fill="#3a2078"/>
<rect x="384.80" y="155.41" width="5.30" height="10.85" fill="#2b6a8a"/>
<rect x="389.80" y="155.41" width="5.30" height="10.85" fill="#333d7e"/>
<rect x="394.80" y="155.41" width="5.30" height="10.85" fill="#2e5084"/>
<rect x="399.80" y="155.41" width="5.30" height="10.85" fill="#2d5a86"/>
<rect x="404.80" y="155.41" width="5.30" height="10.85" fill="#2e5084"/>
<rect x="409.80" y="155.41" width="5.30" height="10.85" fill="#36307c"/>
<rect x="414.80" y="155.41" width="5.30" height="10.85" fill="#4a1c7c"/>
<rect x="419.80" y="155.41" width="5.30" height="10.85" fill="#4a1c7c"/>
<rect x="424.80" y="155.41" width="5.30" height="10.85" fill="#4a1c7c"/>
<rect x="429.80" y="155.41" width="5.30" height="10.85" fill="#3e1a76"/>
<rect x="364.80" y="165.96" width="5.30" height="10.85" fill="#3a1a76"/>
<rect x="369.80" y="165.96" width="5.30" height="10.85" fill="#4e1e7e"/>
<rect x="374.80" y="165.96" width="5.30" height="10.85" fill="#36307c"/>
<rect x="379.80" y="165.96" width="5.30" height="10.85" fill="#2d5a86"/>
<rect x="384.80" y="165.96" width="5.30" height="10.85" fill="#2a8a92"/>
<rect x="389.80" y="165.96" width="5.30" height="10.85" fill="#2d5a86"/>
<rect x="394.80" y="165.96" width="5.30" height="10.85" fill="#343a7e"/>
<rect x="399.80" y="165.96" width="5.30" height="10.85" fill="#2b6a8a"/>
<rect x="404.80" y="165.96" width="5.30" height="10.85" fill="#2d5a86"/>
<rect x="409.80" y="165.96" width="5.30" height="10.85" fill="#35337d"/>
<rect x="414.80" y="165.96" width="5.30" height="10.85" fill="#35337d"/>
<rect x="419.80" y="165.96" width="5.30" height="10.85" fill="#38287a"/>
<rect x="424.80" y="165.96" width="5.30" height="10.85" fill="#38287a"/>
<rect x="429.80" y="165.96" width="5.30" height="10.85" fill="#3a2078"/>
<rect x="364.80" y="176.52" width="5.30" height="10.85" fill="#38287a"/>
<rect x="369.80" y="176.52" width="5.30" height="10.85" fill="#38287a"/>
<rect x="374.80" y="176.52" width="5.30" height="10.85" fill="#4e1e7e"/>
<rect x="379.80" y="176.52" width="5.30" height="10.85" fill="#2a808e"/>
<rect x="384.80" y="176.52" width="5.30" height="10.85" fill="#2a7a8c"/>
<rect x="389.80" y="176.52" width="5.30" height="10.85" fill="#2a808e"/>
<rect x="394.80" y="176.52" width="5.30" height="10.85" fill="#2b6a8a"/>
<rect x="399.80" y="176.52" width="5.30" height="10.85" fill="#2c5f87"/>
<rect x="404.80" y="176.52" width="5.30" height="10.85" fill="#2c5f87"/>
<rect x="409.80" y="176.52" width="5.30" height="10.85" fill="#2f4982"/>
<rect x="414.80" y="176.52" width="5.30" height="10.85" fill="#3a2078"/>
<rect x="419.80" y="176.52" width="5.30" height="10.85" fill="#4a1c7c"/>
<rect x="424.80" y="176.52" width="5.30" height="10.85" fill="#4a1c7c"/>
<rect x="429.80" y="176.52" width="5.30" height="10.85" fill="#4e1e7e"/>
<rect x="364.80" y="187.07" width="5.30" height="10.85" fill="#5a2080"/>
<rect x="369.80" y="187.07" width="5.30" height="10.85" fill="#36307c"/>
<rect x="374.80" y="187.07" width="5.30" height="10.85" fill="#3a2078"/>
<rect x="379.80" y="187.07" width="5.30" height="10.85" fill="#2b6488"/>
<rect x="384.80" y="187.07" width="5.30" height="10.85" fill="#3e1a76"/>
<rect x="389.80" y="187.07" width="5.30" height="10.85" fill="#2c5f87"/>
<rect x="394.80" y="187.07" width="5.30" height="10.85" fill="#2c5f87"/>
<rect x="399.80" y="187.07" width="5.30" height="10.85" fill="#2c5f87"/>
<rect x="404.80" y="187.07" width="5.30" height="10.85" fill="#343a7e"/>
<rect x="409.80" y="187.07" width="5.30" height="10.85" fill="#35337d"/>
<rect x="414.80" y="187.07" width="5.30" height="10.85" fill="#3a2078"/>
<rect x="419.80" y="187.07" width="5.30" height="10.85" fill="#3e1a76"/>
<rect x="424.80" y="187.07" width="5.30" height="10.85" fill="#3e1a76"/>
<rect x="429.80" y="187.07" width="5.30" height="10.85" fill="#4a1c7c"/>
<rect x="364.80" y="197.62" width="5.30" height="10.85" fill="#3e1a76"/>
<rect x="369.80" y="197.62" width="5.30" height="10.85" fill="#5a2080"/>
<rect x="374.80" y="197.62" width="5.30" height="10.85" fill="#2b6488"/>
<rect x="379.80" y="197.62" width="5.30" height="10.85" fill="#3e1a76"/>
<rect x="384.80" y="197.62" width="5.30" height="10.85" fill="#3e1a76"/>
<rect x="389.80" y="197.62" width="5.30" height="10.85" fill="#4a1c7c"/>
<rect x="394.80" y="197.62" width="5.30" height="10.85" fill="#343a7e"/>
<rect x="399.80" y="197.62" width="5.30" height="10.85" fill="#2d5a86"/>
<rect x="404.80" y="197.62" width="5.30" height="10.85" fill="#2d5a86"/>
<rect x="409.80" y="197.62" width="5.30" height="10.85" fill="#35337d"/>
<rect x="414.80" y="197.62" width="5.30" height="10.85" fill="#3e1a76"/>
<rect x="419.80" y="197.62" width="5.30" height="10.85" fill="#3e1a76"/>
<rect x="424.80" y="197.62" width="5.30" height="10.85" fill="#4a1c7c"/>
<rect x="429.80" y="197.62" width="5.30" height="10.85" fill="#4e1e7e"/>
<rect x="364.80" y="208.17" width="5.30" height="10.85" fill="#3a2078"/>
<rect x="369.80" y="208.17" width="5.30" height="10.85" fill="#5a2080"/>
<rect x="374.80" y="208.17" width="5.30" height="10.85" fill="#343a7e"/>
<rect x="379.80" y="208.17" width="5.30" height="10.85" fill="#6a2284"/>
<rect x="384.80" y="208.17" width="5.30" height="10.85" fill="#2d5a86"/>
<rect x="389.80" y="208.17" width="5.30" height="10.85" fill="#35337d"/>
<rect x="394.80" y="208.17" width="5.30" height="10.85" fill="#2d5a86"/>
<rect x="399.80" y="208.17" width="5.30" height="10.85" fill="#3e1a76"/>
<rect x="404.80" y="208.17" width="5.30" height="10.85" fill="#2b6488"/>
<rect x="409.80" y="208.17" width="5.30" height="10.85" fill="#38287a"/>
<rect x="414.80" y="208.17" width="5.30" height="10.85" fill="#343a7e"/>
<rect x="419.80" y="208.17" width="5.30" height="10.85" fill="#4a1c7c"/>
<rect x="424.80" y="208.17" width="5.30" height="10.85" fill="#6a2284"/>
<rect x="429.80" y="208.17" width="5.30" height="10.85" fill="#4e1e7e"/>
<rect x="364.80" y="218.73" width="5.30" height="10.85" fill="#6a2284"/>
<rect x="369.80" y="218.73" width="5.30" height="10.85" fill="#36307c"/>
<rect x="374.80" y="218.73" width="5.30" height="10.85" fill="#6a2284"/>
<rect x="379.80" y="218.73" width="5.30" height="10.85" fill="#343a7e"/>
<rect x="384.80" y="218.73" width="5.30" height="10.85" fill="#2a8e96"/>
<rect x="389.80" y="218.73" width="5.30" height="10.85" fill="#2d5a86"/>
<rect x="394.80" y="218.73" width="5.30" height="10.85" fill="#3e1a76"/>
<rect x="399.80" y="218.73" width="5.30" height="10.85" fill="#333d7e"/>
<rect x="404.80" y="218.73" width="5.30" height="10.85" fill="#2f4982"/>
<rect x="409.80" y="218.73" width="5.30" height="10.85" fill="#333d7e"/>
<rect x="414.80" y="218.73" width="5.30" height="10.85" fill="#3e1a76"/>
<rect x="419.80" y="218.73" width="5.30" height="10.85" fill="#6a2284"/>
<rect x="424.80" y="218.73" width="5.30" height="10.85" fill="#4e1e7e"/>
<rect x="429.80" y="218.73" width="5.30" height="10.85" fill="#6a2284"/>
<rect x="364.80" y="229.28" width="5.30" height="10.85" fill="#6a2284"/>
<rect x="369.80" y="229.28" width="5.30" height="10.85" fill="#4e1e7e"/>
<rect x="374.80" y="229.28" width="5.30" height="10.85" fill="#6a2284"/>
<rect x="379.80" y="229.28" width="5.30" height="10.85" fill="#2a8a92"/>
<rect x="384.80" y="229.28" width="5.30" height="10.85" fill="#3590a8"/>
<rect x="389.80" y="229.28" width="5.30" height="10.85" fill="#2a7a8c"/>
<rect x="394.80" y="229.28" width="5.30" height="10.85" fill="#4a1c7c"/>
<rect x="399.80" y="229.28" width="5.30" height="10.85" fill="#4a1c7c"/>
<rect x="404.80" y="229.28" width="5.30" height="10.85" fill="#2d5a86"/>
<rect x="409.80" y="229.28" width="5.30" height="10.85" fill="#2f4982"/>
<rect x="414.80" y="229.28" width="5.30" height="10.85" fill="#5a2080"/>
<rect x="419.80" y="229.28" width="5.30" height="10.85" fill="#5a2080"/>
<rect x="424.80" y="229.28" width="5.30" height="10.85" fill="#6a2284"/>
<rect x="429.80" y="229.28" width="5.30" height="10.85" fill="#6a2284"/>
<rect x="364.80" y="239.83" width="5.30" height="10.85" fill="#4a1c7c"/>
<rect x="369.80" y="239.83" width="5.30" height="10.85" fill="#a03585"/>
<rect x="374.80" y="239.83" width="5.30" height="10.85" fill="#2d5a86"/>
<rect x="379.80" y="239.83" width="5.30" height="10.85" fill="#2a8a92"/>
<rect x="384.80" y="239.83" width="5.30" height="10.85" fill="#2c5f87"/>
<rect x="389.80" y="239.83" width="5.30" height="10.85" fill="#2a808e"/>
<rect x="394.80" y="239.83" width="5.30" height="10.85" fill="#2b6a8a"/>
<rect x="399.80" y="239.83" width="5.30" height="10.85" fill="#36307c"/>
<rect x="404.80" y="239.83" width="5.30" height="10.85" fill="#2d5a86"/>
<rect x="409.80" y="239.83" width="5.30" height="10.85" fill="#2f4982"/>
<rect x="414.80" y="239.83" width="5.30" height="10.85" fill="#6a2284"/>
<rect x="419.80" y="239.83" width="5.30" height="10.85" fill="#6a2284"/>
<rect x="424.80" y="239.83" width="5.30" height="10.85" fill="#6a2284"/>
<rect x="429.80" y="239.83" width="5.30" height="10.85" fill="#6a2284"/>
<rect x="364.80" y="250.38" width="5.30" height="10.85" fill="#b03a80"/>
<rect x="369.80" y="250.38" width="5.30" height="10.85" fill="#4e1e7e"/>
<rect x="374.80" y="250.38" width="5.30" height="10.85" fill="#2b6488"/>
<rect x="379.80" y="250.38" width="5.30" height="10.85" fill="#5a2080"/>
<rect x="384.80" y="250.38" width="5.30" height="10.85" fill="#5a2080"/>
<rect x="389.80" y="250.38" width="5.30" height="10.85" fill="#5a2080"/>
<rect x="394.80" y="250.38" width="5.30" height="10.85" fill="#2b6488"/>
<rect x="399.80" y="250.38" width="5.30" height="10.85" fill="#2b6488"/>
<rect x="404.80" y="250.38" width="5.30" height="10.85" fill="#2a7a8c"/>
<rect x="409.80" y="250.38" width="5.30" height="10.85" fill="#2d5a86"/>
<rect x="414.80" y="250.38" width="5.30" height="10.85" fill="#4a1c7c"/>
<rect x="419.80" y="250.38" width="5.30" height="10.85" fill="#7a2884"/>
<rect x="424.80" y="250.38" width="5.30" height="10.85" fill="#5a2080"/>
<rect x="429.80" y="250.38" width="5.30" height="10.85" fill="#b03a80"/>
<rect x="364.80" y="260.94" width="5.30" height="10.85" fill="#7a2884"/>
<rect x="369.80" y="260.94" width="5.30" height="10.85" fill="#38287a"/>
<rect x="374.80" y="260.94" width="5.30" height="10.85" fill="#7a2884"/>
<rect x="379.80" y="260.94" width="5.30" height="10.85" fill="#8a2e86"/>
<rect x="384.80" y="260.94" width="5.30" height="10.85" fill="#7a2884"/>
<rect x="389.80" y="260.94" width="5.30" height="10.85" fill="#993385"/>
<rect x="394.80" y="260.94" width="5.30" height="10.85" fill="#2a8a92"/>
<rect x="399.80" y="260.94" width="5.30" height="10.85" fill="#2b6488"/>
<rect x="404.80" y="260.94" width="5.30" height="10.85" fill="#2f4982"/>
<rect x="409.80" y="260.94" width="5.30" height="10.85" fill="#35337d"/>
<rect x="414.80" y="260.94" width="5.30" height="10.85" fill="#3e1a76"/>
<rect x="419.80" y="260.94" width="5.30" height="10.85" fill="#7a2884"/>
<rect x="424.80" y="260.94" width="5.30" height="10.85" fill="#b03a80"/>
<rect x="429.80" y="260.94" width="5.30" height="10.85" fill="#a03585"/>
<rect x="364.80" y="271.49" width="5.30" height="10.85" fill="#7a2884"/>
<rect x="369.80" y="271.49" width="5.30" height="10.85" fill="#a03585"/>
<rect x="374.80" y="271.49" width="5.30" height="10.85" fill="#a03585"/>
<rect x="379.80" y="271.49" width="5.30" height="10.85" fill="#3e1a76"/>
<rect x="384.80" y="271.49" width="5.30" height="10.85" fill="#2a808e"/>
<rect x="389.80" y="271.49" width="5.30" height="10.85" fill="#343a7e"/>
<rect x="394.80" y="271.49" width="5.30" height="10.85" fill="#318fa1"/>
<rect x="399.80" y="271.49" width="5.30" height="10.85" fill="#2a8a92"/>
<rect x="404.80" y="271.49" width="5.30" height="10.85" fill="#2c5f87"/>
<rect x="409.80" y="271.49" width="5.30" height="10.85" fill="#343a7e"/>
<rect x="414.80" y="271.49" width="5.30" height="10.85" fill="#6a2284"/>
<rect x="419.80" y="271.49" width="5.30" height="10.85" fill="#7a2884"/>
<rect x="424.80" y="271.49" width="5.30" height="10.85" fill="#8a2e86"/>
<rect x="429.80" y="271.49" width="5.30" height="10.85" fill="#993385"/>
<rect x="364.80" y="282.04" width="5.30" height="10.85" fill="#c04080"/>
<rect x="369.80" y="282.04" width="5.30" height="10.85" fill="#b03a80"/>
<rect x="374.80" y="282.04" width="5.30" height="10.85" fill="#3e1a76"/>
<rect x="379.80" y="282.04" width="5.30" height="10.85" fill="#3e90bb"/>
<rect x="384.80" y="282.04" width="5.30" height="10.85" fill="#5a8ad8"/>
<rect x="389.80" y="282.04" width="5.30" height="10.85" fill="#2b6a8a"/>
<rect x="394.80" y="282.04" width="5.30" height="10.85" fill="#2b6488"/>
<rect x="399.80" y="282.04" width="5.30" height="10.85" fill="#2a808e"/>
<rect x="404.80" y="282.04" width="5.30" height="10.85" fill="#2c5f87"/>
<rect x="409.80" y="282.04" width="5.30" height="10.85" fill="#343a7e"/>
<rect x="414.80" y="282.04" width="5.30" height="10.85" fill="#3e1a76"/>
<rect x="419.80" y="282.04" width="5.30" height="10.85" fill="#7a2884"/>
<rect x="424.80" y="282.04" width="5.30" height="10.85" fill="#a03585"/>
<rect x="429.80" y="282.04" width="5.30" height="10.85" fill="#c04080"/>
<rect x="364.80" y="292.59" width="5.30" height="10.85" fill="#7a2884"/>
<rect x="369.80" y="292.59" width="5.30" height="10.85" fill="#3e1a76"/>
<rect x="374.80" y="292.59" width="5.30" height="10.85" fill="#2a7a8c"/>
<rect x="379.80" y="292.59" width="5.30" height="10.85" fill="#2a8a92"/>
<rect x="384.80" y="292.59" width="5.30" height="10.85" fill="#2a8a92"/>
<rect x="389.80" y="292.59" width="5.30" height="10.85" fill="#2a808e"/>
<rect x="394.80" y="292.59" width="5.30" height="10.85" fill="#2b6488"/>
<rect x="399.80" y="292.59" width="5.30" height="10.85" fill="#2d5a86"/>
<rect x="404.80" y="292.59" width="5.30" height="10.85" fill="#2d5a86"/>
<rect x="409.80" y="292.59" width="5.30" height="10.85" fill="#36307c"/>
<rect x="414.80" y="292.59" width="5.30" height="10.85" fill="#6a2284"/>
<rect x="419.80" y="292.59" width="5.30" height="10.85" fill="#7a2884"/>
<rect x="424.80" y="292.59" width="5.30" height="10.85" fill="#a03585"/>
<rect x="429.80" y="292.59" width="5.30" height="10.85" fill="#b03a80"/>
<rect x="364.80" y="303.15" width="5.30" height="10.85" fill="#7a2884"/>
<rect x="369.80" y="303.15" width="5.30" height="10.85" fill="#6a2284"/>
<rect x="374.80" y="303.15" width="5.30" height="10.85" fill="#5a2080"/>
<rect x="379.80" y="303.15" width="5.30" height="10.85" fill="#4a1c7c"/>
<rect x="384.80" y="303.15" width="5.30" height="10.85" fill="#4a1c7c"/>
<rect x="389.80" y="303.15" width="5.30" height="10.85" fill="#4a1c7c"/>
<rect x="394.80" y="303.15" width="5.30" height="10.85" fill="#4a1c7c"/>
<rect x="399.80" y="303.15" width="5.30" height="10.85" fill="#4a1c7c"/>
<rect x="404.80" y="303.15" width="5.30" height="10.85" fill="#5a2080"/>
<rect x="409.80" y="303.15" width="5.30" height="10.85" fill="#6a2284"/>
<rect x="414.80" y="303.15" width="5.30" height="10.85" fill="#7a2884"/>
<rect x="419.80" y="303.15" width="5.30" height="10.85" fill="#8a2e86"/>
<rect x="424.80" y="303.15" width="5.30" height="10.85" fill="#993385"/>
<rect x="429.80" y="303.15" width="5.30" height="10.85" fill="#a03585"/>
<line x1="369.80" y1="113.20" x2="369.80" y2="313.70" stroke="rgba(255,255,255,0.045)" stroke-width="0.6" />
<line x1="374.80" y1="113.20" x2="374.80" y2="313.70" stroke="rgba(255,255,255,0.045)" stroke-width="0.6" />
<line x1="379.80" y1="113.20" x2="379.80" y2="313.70" stroke="rgba(255,255,255,0.045)" stroke-width="0.6" />
<line x1="384.80" y1="113.20" x2="384.80" y2="313.70" stroke="rgba(255,255,255,0.045)" stroke-width="0.6" />
<line x1="389.80" y1="113.20" x2="389.80" y2="313.70" stroke="rgba(255,255,255,0.045)" stroke-width="0.6" />
<line x1="394.80" y1="113.20" x2="394.80" y2="313.70" stroke="rgba(255,255,255,0.045)" stroke-width="0.6" />
<line x1="399.80" y1="113.20" x2="399.80" y2="313.70" stroke="rgba(255,255,255,0.045)" stroke-width="0.6" />
<line x1="404.80" y1="113.20" x2="404.80" y2="313.70" stroke="rgba(255,255,255,0.045)" stroke-width="0.6" />
<line x1="409.80" y1="113.20" x2="409.80" y2="313.70" stroke="rgba(255,255,255,0.045)" stroke-width="0.6" />
<line x1="414.80" y1="113.20" x2="414.80" y2="313.70" stroke="rgba(255,255,255,0.045)" stroke-width="0.6" />
<line x1="419.80" y1="113.20" x2="419.80" y2="313.70" stroke="rgba(255,255,255,0.045)" stroke-width="0.6" />
<line x1="424.80" y1="113.20" x2="424.80" y2="313.70" stroke="rgba(255,255,255,0.045)" stroke-width="0.6" />
<line x1="429.80" y1="113.20" x2="429.80" y2="313.70" stroke="rgba(255,255,255,0.045)" stroke-width="0.6" />
<line x1="364.80" y1="123.75" x2="434.80" y2="123.75" stroke="rgba(255,255,255,0.045)" stroke-width="0.6" />
<line x1="364.80" y1="134.31" x2="434.80" y2="134.31" stroke="rgba(255,255,255,0.045)" stroke-width="0.6" />
<line x1="364.80" y1="144.86" x2="434.80" y2="144.86" stroke="rgba(255,255,255,0.045)" stroke-width="0.6" />
<line x1="364.80" y1="155.41" x2="434.80" y2="155.41" stroke="rgba(255,255,255,0.045)" stroke-width="0.6" />
<line x1="364.80" y1="165.96" x2="434.80" y2="165.96" stroke="rgba(255,255,255,0.045)" stroke-width="0.6" />
<line x1="364.80" y1="176.52" x2="434.80" y2="176.52" stroke="rgba(255,255,255,0.045)" stroke-width="0.6" />
<line x1="364.80" y1="187.07" x2="434.80" y2="187.07" stroke="rgba(255,255,255,0.045)" stroke-width="0.6" />
<line x1="364.80" y1="197.62" x2="434.80" y2="197.62" stroke="rgba(255,255,255,0.045)" stroke-width="0.6" />
<line x1="364.80" y1="208.17" x2="434.80" y2="208.17" stroke="rgba(255,255,255,0.045)" stroke-width="0.6" />
<line x1="364.80" y1="218.73" x2="434.80" y2="218.73" stroke="rgba(255,255,255,0.045)" stroke-width="0.6" />
<line x1="364.80" y1="229.28" x2="434.80" y2="229.28" stroke="rgba(255,255,255,0.045)" stroke-width="0.6" />
<line x1="364.80" y1="239.83" x2="434.80" y2="239.83" stroke="rgba(255,255,255,0.045)" stroke-width="0.6" />
<line x1="364.80" y1="250.38" x2="434.80" y2="250.38" stroke="rgba(255,255,255,0.045)" stroke-width="0.6" />
<line x1="364.80" y1="260.94" x2="434.80" y2="260.94" stroke="rgba(255,255,255,0.045)" stroke-width="0.6" />
<line x1="364.80" y1="271.49" x2="434.80" y2="271.49" stroke="rgba(255,255,255,0.045)" stroke-width="0.6" />
<line x1="364.80" y1="282.04" x2="434.80" y2="282.04" stroke="rgba(255,255,255,0.045)" stroke-width="0.6" />
<line x1="364.80" y1="292.59" x2="434.80" y2="292.59" stroke="rgba(255,255,255,0.045)" stroke-width="0.6" />
<line x1="364.80" y1="303.15" x2="434.80" y2="303.15" stroke="rgba(255,255,255,0.045)" stroke-width="0.6" />
<line x1="302.40" y1="124.00" x2="302.40" y2="313.70" stroke="#f4f4f4" stroke-width="1.4" stroke-dasharray="9.6,9.5" stroke-dashoffset="-8.7"/>
<polygon points="302.4,113.6 298.0,121.8 306.79999999999995,121.8" fill="#fff"/>
<line x1="302.40" y1="121.00" x2="302.40" y2="124.50" stroke="#fff" stroke-width="1.6" />
<line x1="314.60" y1="124.00" x2="314.60" y2="313.70" stroke="#f4f4f4" stroke-width="1.4" stroke-dasharray="9.6,9.5" stroke-dashoffset="-8.7"/>
<polygon points="314.6,113.6 310.20000000000005,121.8 319.0,121.8" fill="#fff"/>
<line x1="314.60" y1="121.00" x2="314.60" y2="124.50" stroke="#fff" stroke-width="1.6" />
<line x1="291.55" y1="111.35" x2="308.37" y2="94.53" stroke="#62abbb" stroke-width="2.22"/>
<polygon points="309.87,93.03 308.50,98.16 304.74,94.40" fill="#62abbb"/>
<polygon points="307.67,95.23 306.62,99.42 303.48,96.28" fill="#62abbb"/>
<circle cx="299.40" cy="103.50" r="7.40" fill="url(#gn1)"/>
<text x="298.22" y="106.46" font-size="12.284" text-anchor="middle" font-weight="normal" font-style="normal" fill="#111" stroke="#111" stroke-width="0.15" >n</text>
<text x="303.84" y="107.79" font-size="8.14" text-anchor="middle" font-weight="normal" font-style="normal" fill="#111" stroke="#111" stroke-width="0.12" >1</text>
<line x1="312.75" y1="111.35" x2="329.57" y2="94.53" stroke="#6677a6" stroke-width="2.22"/>
<polygon points="331.07,93.03 329.70,98.16 325.94,94.40" fill="#6677a6"/>
<polygon points="328.87,95.23 327.82,99.42 324.68,96.28" fill="#6677a6"/>
<circle cx="320.60" cy="103.50" r="7.40" fill="url(#gn2)"/>
<text x="319.42" y="106.46" font-size="12.284" text-anchor="middle" font-weight="normal" font-style="normal" fill="#111" stroke="#111" stroke-width="0.15" >n</text>
<text x="325.04" y="107.79" font-size="8.14" text-anchor="middle" font-weight="normal" font-style="normal" fill="#111" stroke="#111" stroke-width="0.12" >2</text>
<text x="278.40" y="86.10" font-size="14.5" text-anchor="start" font-weight="normal" font-style="normal" fill="#111" textLength="79.0" lengthAdjust="spacingAndGlyphs" >Experiment</text>
<text x="363.30" y="86.10" font-size="14.5" text-anchor="start" font-weight="normal" font-style="normal" fill="#111" textLength="72.5" lengthAdjust="spacingAndGlyphs" >Simulation</text>
<line x1="275.40" y1="134.41" x2="278.40" y2="134.41" stroke="#111" stroke-width="1.0" />
<text x="273.90" y="138.01" font-size="10.2" text-anchor="end" font-weight="normal" font-style="normal" fill="#111" textLength="17.549999999999997" lengthAdjust="spacingAndGlyphs" stroke="#111" stroke-width="0.25" >350</text>
<line x1="364.80" y1="134.41" x2="367.80" y2="134.41" stroke="#111" stroke-width="1.0" />
<line x1="275.40" y1="160.89" x2="278.40" y2="160.89" stroke="#111" stroke-width="1.0" />
<text x="273.90" y="164.49" font-size="10.2" text-anchor="end" font-weight="normal" font-style="normal" fill="#111" textLength="17.549999999999997" lengthAdjust="spacingAndGlyphs" stroke="#111" stroke-width="0.25" >300</text>
<line x1="364.80" y1="160.89" x2="367.80" y2="160.89" stroke="#111" stroke-width="1.0" />
<line x1="275.40" y1="187.38" x2="278.40" y2="187.38" stroke="#111" stroke-width="1.0" />
<text x="273.90" y="190.98" font-size="10.2" text-anchor="end" font-weight="normal" font-style="normal" fill="#111" textLength="17.549999999999997" lengthAdjust="spacingAndGlyphs" stroke="#111" stroke-width="0.25" >250</text>
<line x1="364.80" y1="187.38" x2="367.80" y2="187.38" stroke="#111" stroke-width="1.0" />
<line x1="275.40" y1="213.86" x2="278.40" y2="213.86" stroke="#111" stroke-width="1.0" />
<text x="273.90" y="217.46" font-size="10.2" text-anchor="end" font-weight="normal" font-style="normal" fill="#111" textLength="17.549999999999997" lengthAdjust="spacingAndGlyphs" stroke="#111" stroke-width="0.25" >200</text>
<line x1="364.80" y1="213.86" x2="367.80" y2="213.86" stroke="#111" stroke-width="1.0" />
<line x1="275.40" y1="240.35" x2="278.40" y2="240.35" stroke="#111" stroke-width="1.0" />
<text x="273.90" y="243.95" font-size="10.2" text-anchor="end" font-weight="normal" font-style="normal" fill="#111" textLength="17.549999999999997" lengthAdjust="spacingAndGlyphs" stroke="#111" stroke-width="0.25" >150</text>
<line x1="364.80" y1="240.35" x2="367.80" y2="240.35" stroke="#111" stroke-width="1.0" />
<line x1="275.40" y1="266.83" x2="278.40" y2="266.83" stroke="#111" stroke-width="1.0" />
<text x="273.90" y="270.43" font-size="10.2" text-anchor="end" font-weight="normal" font-style="normal" fill="#111" textLength="17.549999999999997" lengthAdjust="spacingAndGlyphs" stroke="#111" stroke-width="0.25" >100</text>
<line x1="364.80" y1="266.83" x2="367.80" y2="266.83" stroke="#111" stroke-width="1.0" />
<line x1="275.40" y1="293.31" x2="278.40" y2="293.31" stroke="#111" stroke-width="1.0" />
<text x="273.90" y="296.92" font-size="10.2" text-anchor="end" font-weight="normal" font-style="normal" fill="#111" textLength="11.7" lengthAdjust="spacingAndGlyphs" stroke="#111" stroke-width="0.25" >50</text>
<line x1="364.80" y1="293.31" x2="367.80" y2="293.31" stroke="#111" stroke-width="1.0" />
<text x="253.10" y="213.00" font-size="12.5" text-anchor="middle" font-weight="normal" font-style="italic" fill="#111" stroke="#111" stroke-width="0.15" transform="rotate(-90 253.1 213.0)">N</text>
<line x1="302.40" y1="313.70" x2="302.40" y2="310.90" stroke="#222" stroke-width="0.9" />
<text x="302.40" y="322.40" font-size="10.2" text-anchor="middle" font-weight="normal" font-style="normal" fill="#111" textLength="26.35" lengthAdjust="spacingAndGlyphs" stroke="#111" stroke-width="0.25" >8.395</text>
<line x1="332.60" y1="313.70" x2="332.60" y2="310.90" stroke="#222" stroke-width="0.9" />
<text x="332.60" y="322.40" font-size="10.2" text-anchor="middle" font-weight="normal" font-style="normal" fill="#111" textLength="14.649999999999997" lengthAdjust="spacingAndGlyphs" stroke="#111" stroke-width="0.25" >8.4</text>
<text x="302.50" y="333.40" font-size="11.5" text-anchor="start" font-weight="normal" font-style="normal" fill="#111" textLength="29.6" lengthAdjust="spacingAndGlyphs" stroke="#111" stroke-width="0.2" ><tspan font-style="italic">τ</tspan> (µs)</text>
<line x1="387.00" y1="313.70" x2="387.00" y2="310.90" stroke="#222" stroke-width="0.9" />
<text x="387.00" y="322.40" font-size="10.2" text-anchor="middle" font-weight="normal" font-style="normal" fill="#111" textLength="26.35" lengthAdjust="spacingAndGlyphs" stroke="#111" stroke-width="0.25" >8.395</text>
<line x1="412.40" y1="313.70" x2="412.40" y2="310.90" stroke="#222" stroke-width="0.9" />
<text x="412.40" y="322.40" font-size="10.2" text-anchor="middle" font-weight="normal" font-style="normal" fill="#111" textLength="14.649999999999997" lengthAdjust="spacingAndGlyphs" stroke="#111" stroke-width="0.25" >8.4</text>
<text x="383.90" y="333.40" font-size="11.5" text-anchor="start" font-weight="normal" font-style="normal" fill="#111" textLength="29.6" lengthAdjust="spacingAndGlyphs" stroke="#111" stroke-width="0.2" ><tspan font-style="italic">τ</tspan> (µs)</text>
<defs><linearGradient id="cb" x1="0" y1="1" x2="0" y2="0"><stop offset="0.000" stop-color="#6a88e6"/><stop offset="0.080" stop-color="#5a8ad8"/><stop offset="0.180" stop-color="#4090c0"/><stop offset="0.280" stop-color="#3590a8"/><stop offset="0.330" stop-color="#2a8e96"/><stop offset="0.350" stop-color="#2a8a92"/><stop offset="0.370" stop-color="#2a808e"/><stop offset="0.390" stop-color="#2a7a8c"/><stop offset="0.420" stop-color="#2b6a8a"/><stop offset="0.440" stop-color="#2b6488"/><stop offset="0.460" stop-color="#2d5a86"/><stop offset="0.480" stop-color="#2e5385"/><stop offset="0.500" stop-color="#2e4e84"/><stop offset="0.520" stop-color="#30447f"/><stop offset="0.550" stop-color="#343a7e"/><stop offset="0.580" stop-color="#36307c"/><stop offset="0.600" stop-color="#38287a"/><stop offset="0.620" stop-color="#3a2078"/><stop offset="0.640" stop-color="#3a1a76"/><stop offset="0.660" stop-color="#3e1a76"/><stop offset="0.680" stop-color="#4a1c7c"/><stop offset="0.690" stop-color="#4e1e7e"/><stop offset="0.720" stop-color="#5a2080"/><stop offset="0.760" stop-color="#6a2284"/><stop offset="0.800" stop-color="#7a2884"/><stop offset="0.820" stop-color="#8a2e86"/><stop offset="0.880" stop-color="#a03585"/><stop offset="0.920" stop-color="#b03a80"/><stop offset="0.960" stop-color="#c04080"/><stop offset="1.000" stop-color="#c4407e"/></linearGradient></defs>
<rect x="437.10" y="113.00" width="9.50" height="200.50" fill="url(#cb)" stroke="#111" stroke-width="1.2" />
<text x="447.30" y="117.50" font-size="12" text-anchor="start" font-weight="normal" font-style="normal" fill="#555" textLength="16.4" lengthAdjust="spacingAndGlyphs" >0.5</text>
<line x1="443.20" y1="213.50" x2="447.00" y2="213.50" stroke="#888" stroke-width="0.8" />
<text x="447.50" y="217.90" font-size="12" text-anchor="start" font-weight="normal" font-style="normal" fill="#555" textLength="16.4" lengthAdjust="spacingAndGlyphs" >0.0</text>
<line x1="447.80" y1="314.80" x2="454.50" y2="314.80" stroke="#999" stroke-width="1.0" />
<text x="456.60" y="318.60" font-size="12" text-anchor="start" font-weight="normal" font-style="normal" fill="#555" textLength="16.5" lengthAdjust="spacingAndGlyphs" >0.5</text>
<path d="M435.7,94.7 L431.9,101.3 L435.7,107.9 M448.0,94.7 L451.9,101.3 L448.0,107.9" fill="none" stroke="#666" stroke-width="0.75"/>
<text x="439.60" y="106.00" font-size="11.5" text-anchor="middle" font-weight="normal" font-style="italic" fill="#555" >σ</text>
<text x="444.60" y="107.90" font-size="7" text-anchor="middle" font-weight="normal" font-style="italic" fill="#555" >z</text>
<rect x="39.60" y="112.80" width="83.00" height="136.40" fill="#fff" stroke="none" stroke-width="1" />
<rect x="39.60" y="112.80" width="83.00" height="136.40" fill="#fff" stroke="none" stroke-width="1" />
<rect x="68.00" y="112.80" width="24.60" height="136.40" fill="#efefef" stroke="none" stroke-width="1" />
<line x1="47.40" y1="112.80" x2="47.40" y2="249.20" stroke="#ebebeb" stroke-width="1" />
<line x1="84.90" y1="112.80" x2="84.90" y2="249.20" stroke="#ebebeb" stroke-width="1" />
<line x1="122.40" y1="112.80" x2="122.40" y2="249.20" stroke="#ebebeb" stroke-width="1" />
<line x1="39.60" y1="133.65" x2="122.60" y2="133.65" stroke="#ebebeb" stroke-width="1" />
<line x1="39.60" y1="157.32" x2="122.60" y2="157.32" stroke="#ebebeb" stroke-width="1" />
<line x1="39.60" y1="181.00" x2="122.60" y2="181.00" stroke="#ebebeb" stroke-width="1" />
<line x1="39.60" y1="204.68" x2="122.60" y2="204.68" stroke="#ebebeb" stroke-width="1" />
<line x1="39.60" y1="228.35" x2="122.60" y2="228.35" stroke="#ebebeb" stroke-width="1" />
<rect x="39.60" y="112.80" width="83.00" height="136.40" fill="none" stroke="#e4e4e4" stroke-width="1" />
<line x1="39.40" y1="133.65" x2="42.80" y2="133.65" stroke="#333" stroke-width="1" />
<line x1="39.40" y1="157.32" x2="42.80" y2="157.32" stroke="#333" stroke-width="1" />
<line x1="39.40" y1="181.00" x2="42.80" y2="181.00" stroke="#333" stroke-width="1" />
<line x1="39.40" y1="204.68" x2="42.80" y2="204.68" stroke="#333" stroke-width="1" />
<line x1="39.40" y1="228.35" x2="42.80" y2="228.35" stroke="#333" stroke-width="1" />
<line x1="47.40" y1="249.40" x2="47.40" y2="246.00" stroke="#333" stroke-width="1" />
<line x1="84.90" y1="249.40" x2="84.90" y2="246.00" stroke="#333" stroke-width="1" />
<line x1="122.40" y1="249.40" x2="122.40" y2="246.00" stroke="#333" stroke-width="1" />
<text x="38.60" y="137.05" font-size="10.2" text-anchor="end" font-weight="normal" font-style="normal" fill="#111" textLength="14.8" lengthAdjust="spacingAndGlyphs" stroke="#111" stroke-width="0.25" >0.5</text>
<text x="38.60" y="160.72" font-size="10.2" text-anchor="end" font-weight="normal" font-style="normal" fill="#111" textLength="20.72" lengthAdjust="spacingAndGlyphs" stroke="#111" stroke-width="0.25" >0.25</text>
<text x="38.60" y="184.40" font-size="10.2" text-anchor="end" font-weight="normal" font-style="normal" fill="#111" textLength="14.8" lengthAdjust="spacingAndGlyphs" stroke="#111" stroke-width="0.25" >0.0</text>
<text x="38.60" y="208.08" font-size="10.2" text-anchor="end" font-weight="normal" font-style="normal" fill="#111" textLength="24.12" lengthAdjust="spacingAndGlyphs" stroke="#111" stroke-width="0.25" >-0.25</text>
<text x="38.60" y="231.75" font-size="10.2" text-anchor="end" font-weight="normal" font-style="normal" fill="#111" textLength="18.2" lengthAdjust="spacingAndGlyphs" stroke="#111" stroke-width="0.25" >-0.5</text>
<rect x="39.60" y="256.80" width="83.00" height="136.10" fill="#fff" stroke="none" stroke-width="1" />
<rect x="68.00" y="256.80" width="24.60" height="136.10" fill="#efefef" stroke="none" stroke-width="1" />
<line x1="47.40" y1="256.80" x2="47.40" y2="392.90" stroke="#ebebeb" stroke-width="1" />
<line x1="84.90" y1="256.80" x2="84.90" y2="392.90" stroke="#ebebeb" stroke-width="1" />
<line x1="122.40" y1="256.80" x2="122.40" y2="392.90" stroke="#ebebeb" stroke-width="1" />
<line x1="39.60" y1="272.25" x2="122.60" y2="272.25" stroke="#ebebeb" stroke-width="1" />
<line x1="39.60" y1="298.47" x2="122.60" y2="298.47" stroke="#ebebeb" stroke-width="1" />
<line x1="39.60" y1="324.70" x2="122.60" y2="324.70" stroke="#ebebeb" stroke-width="1" />
<line x1="39.60" y1="350.93" x2="122.60" y2="350.93" stroke="#ebebeb" stroke-width="1" />
<line x1="39.60" y1="377.15" x2="122.60" y2="377.15" stroke="#ebebeb" stroke-width="1" />
<rect x="39.60" y="256.80" width="83.00" height="136.10" fill="none" stroke="#e4e4e4" stroke-width="1" />
<line x1="39.40" y1="272.25" x2="42.80" y2="272.25" stroke="#333" stroke-width="1" />
<line x1="39.40" y1="298.47" x2="42.80" y2="298.47" stroke="#333" stroke-width="1" />
<line x1="39.40" y1="324.70" x2="42.80" y2="324.70" stroke="#333" stroke-width="1" />
<line x1="39.40" y1="350.93" x2="42.80" y2="350.93" stroke="#333" stroke-width="1" />
<line x1="39.40" y1="377.15" x2="42.80" y2="377.15" stroke="#333" stroke-width="1" />
<line x1="47.40" y1="393.10" x2="47.40" y2="389.70" stroke="#333" stroke-width="1" />
<line x1="84.90" y1="393.10" x2="84.90" y2="389.70" stroke="#333" stroke-width="1" />
<line x1="122.40" y1="393.10" x2="122.40" y2="389.70" stroke="#333" stroke-width="1" />
<text x="38.60" y="275.65" font-size="10.2" text-anchor="end" font-weight="normal" font-style="normal" fill="#111" textLength="14.8" lengthAdjust="spacingAndGlyphs" stroke="#111" stroke-width="0.25" >0.5</text>
<text x="38.60" y="301.87" font-size="10.2" text-anchor="end" font-weight="normal" font-style="normal" fill="#111" textLength="20.72" lengthAdjust="spacingAndGlyphs" stroke="#111" stroke-width="0.25" >0.25</text>
<text x="38.60" y="328.10" font-size="10.2" text-anchor="end" font-weight="normal" font-style="normal" fill="#111" textLength="14.8" lengthAdjust="spacingAndGlyphs" stroke="#111" stroke-width="0.25" >0.0</text>
<text x="38.60" y="354.32" font-size="10.2" text-anchor="end" font-weight="normal" font-style="normal" fill="#111" textLength="24.12" lengthAdjust="spacingAndGlyphs" stroke="#111" stroke-width="0.25" >-0.25</text>
<text x="38.60" y="380.55" font-size="10.2" text-anchor="end" font-weight="normal" font-style="normal" fill="#111" textLength="18.2" lengthAdjust="spacingAndGlyphs" stroke="#111" stroke-width="0.25" >-0.5</text>
<rect x="131.40" y="112.60" width="82.80" height="136.60" fill="#fff" stroke="none" stroke-width="1" />
<line x1="151.65" y1="112.60" x2="151.65" y2="249.20" stroke="#ebebeb" stroke-width="1" />
<line x1="172.60" y1="112.60" x2="172.60" y2="249.20" stroke="#ebebeb" stroke-width="1" />
<line x1="193.55" y1="112.60" x2="193.55" y2="249.20" stroke="#ebebeb" stroke-width="1" />
<line x1="131.40" y1="128.80" x2="214.20" y2="128.80" stroke="#ebebeb" stroke-width="1" />
<line x1="131.40" y1="155.05" x2="214.20" y2="155.05" stroke="#ebebeb" stroke-width="1" />
<line x1="131.40" y1="181.30" x2="214.20" y2="181.30" stroke="#ebebeb" stroke-width="1" />
<line x1="131.40" y1="207.55" x2="214.20" y2="207.55" stroke="#ebebeb" stroke-width="1" />
<line x1="131.40" y1="233.80" x2="214.20" y2="233.80" stroke="#ebebeb" stroke-width="1" />
<rect x="131.40" y="112.60" width="82.80" height="136.60" fill="none" stroke="#e4e4e4" stroke-width="1" />
<line x1="131.20" y1="128.80" x2="134.60" y2="128.80" stroke="#333" stroke-width="1" />
<line x1="131.20" y1="155.05" x2="134.60" y2="155.05" stroke="#333" stroke-width="1" />
<line x1="131.20" y1="181.30" x2="134.60" y2="181.30" stroke="#333" stroke-width="1" />
<line x1="131.20" y1="207.55" x2="134.60" y2="207.55" stroke="#333" stroke-width="1" />
<line x1="131.20" y1="233.80" x2="134.60" y2="233.80" stroke="#333" stroke-width="1" />
<line x1="151.65" y1="249.40" x2="151.65" y2="246.00" stroke="#333" stroke-width="1" />
<line x1="172.60" y1="249.40" x2="172.60" y2="246.00" stroke="#333" stroke-width="1" />
<line x1="193.55" y1="249.40" x2="193.55" y2="246.00" stroke="#333" stroke-width="1" />
<rect x="131.40" y="256.50" width="82.80" height="136.40" fill="#fff" stroke="none" stroke-width="1" />
<line x1="151.65" y1="256.50" x2="151.65" y2="392.90" stroke="#ebebeb" stroke-width="1" />
<line x1="172.60" y1="256.50" x2="172.60" y2="392.90" stroke="#ebebeb" stroke-width="1" />
<line x1="193.55" y1="256.50" x2="193.55" y2="392.90" stroke="#ebebeb" stroke-width="1" />
<line x1="131.40" y1="272.25" x2="214.20" y2="272.25" stroke="#ebebeb" stroke-width="1" />
<line x1="131.40" y1="298.47" x2="214.20" y2="298.47" stroke="#ebebeb" stroke-width="1" />
<line x1="131.40" y1="324.70" x2="214.20" y2="324.70" stroke="#ebebeb" stroke-width="1" />
<line x1="131.40" y1="350.93" x2="214.20" y2="350.93" stroke="#ebebeb" stroke-width="1" />
<line x1="131.40" y1="377.15" x2="214.20" y2="377.15" stroke="#ebebeb" stroke-width="1" />
<rect x="131.40" y="256.50" width="82.80" height="136.40" fill="none" stroke="#e4e4e4" stroke-width="1" />
<line x1="131.20" y1="272.25" x2="134.60" y2="272.25" stroke="#333" stroke-width="1" />
<line x1="131.20" y1="298.47" x2="134.60" y2="298.47" stroke="#333" stroke-width="1" />
<line x1="131.20" y1="324.70" x2="134.60" y2="324.70" stroke="#333" stroke-width="1" />
<line x1="131.20" y1="350.93" x2="134.60" y2="350.93" stroke="#333" stroke-width="1" />
<line x1="131.20" y1="377.15" x2="134.60" y2="377.15" stroke="#333" stroke-width="1" />
<line x1="151.65" y1="393.10" x2="151.65" y2="389.70" stroke="#333" stroke-width="1" />
<line x1="172.60" y1="393.10" x2="172.60" y2="389.70" stroke="#333" stroke-width="1" />
<line x1="193.55" y1="393.10" x2="193.55" y2="389.70" stroke="#333" stroke-width="1" />
<text x="47.40" y="401.70" font-size="10.2" text-anchor="middle" font-weight="normal" font-style="normal" fill="#111" textLength="20.72" lengthAdjust="spacingAndGlyphs" stroke="#111" stroke-width="0.25" >8.38</text>
<text x="84.90" y="401.70" font-size="10.2" text-anchor="middle" font-weight="normal" font-style="normal" fill="#111" textLength="14.8" lengthAdjust="spacingAndGlyphs" stroke="#111" stroke-width="0.25" >8.4</text>
<text x="122.40" y="401.70" font-size="10.2" text-anchor="middle" font-weight="normal" font-style="normal" fill="#111" textLength="20.72" lengthAdjust="spacingAndGlyphs" stroke="#111" stroke-width="0.25" >8.42</text>
<text x="151.65" y="401.70" font-size="10.2" text-anchor="middle" font-weight="normal" font-style="normal" fill="#111" textLength="17.76" lengthAdjust="spacingAndGlyphs" stroke="#111" stroke-width="0.25" >100</text>
<text x="172.60" y="401.70" font-size="10.2" text-anchor="middle" font-weight="normal" font-style="normal" fill="#111" textLength="17.76" lengthAdjust="spacingAndGlyphs" stroke="#111" stroke-width="0.25" >200</text>
<text x="193.55" y="401.70" font-size="10.2" text-anchor="middle" font-weight="normal" font-style="normal" fill="#111" textLength="17.76" lengthAdjust="spacingAndGlyphs" stroke="#111" stroke-width="0.25" >300</text>
<text x="66.30" y="411.50" font-size="11.5" text-anchor="start" font-weight="normal" font-style="normal" fill="#111" textLength="29.0" lengthAdjust="spacingAndGlyphs" stroke="#111" stroke-width="0.2" ><tspan font-style="italic">τ</tspan> (µs)</text>
<text x="173.00" y="412.40" font-size="12" text-anchor="middle" font-weight="normal" font-style="italic" fill="#111" stroke="#111" stroke-width="0.15" >N</text>
<path d="M0.50,174.80 L6.80,171.80 L13.20,174.80 M0.50,187.60 L6.80,190.60 L13.20,187.60" fill="none" stroke="#222" stroke-width="0.75"/>
<text x="11.70" y="183.20" font-size="11.5" font-style="italic" text-anchor="middle" fill="#222" transform="rotate(-90 11.70 183.20)">σ</text>
<text x="13.20" y="177.90" font-size="7" font-style="italic" text-anchor="middle" fill="#222" transform="rotate(-90 13.20 177.90)">z</text>
<path d="M0.40,318.60 L6.70,315.60 L13.10,318.60 M0.40,331.40 L6.70,334.40 L13.10,331.40" fill="none" stroke="#222" stroke-width="0.75"/>
<text x="11.60" y="327.00" font-size="11.5" font-style="italic" text-anchor="middle" fill="#222" transform="rotate(-90 11.60 327.00)">σ</text>
<text x="13.10" y="321.70" font-size="7" font-style="italic" text-anchor="middle" fill="#222" transform="rotate(-90 13.10 321.70)">z</text>
<rect x="510.30" y="112.90" width="174.20" height="121.10" fill="#fff" stroke="none" stroke-width="1" />
<line x1="517.70" y1="112.90" x2="517.70" y2="234.00" stroke="#ebebeb" stroke-width="1" />
<line x1="583.60" y1="112.90" x2="583.60" y2="234.00" stroke="#ebebeb" stroke-width="1" />
<line x1="649.50" y1="112.90" x2="649.50" y2="234.00" stroke="#ebebeb" stroke-width="1" />
<line x1="510.30" y1="140.50" x2="684.50" y2="140.50" stroke="#ebebeb" stroke-width="1" />
<line x1="510.30" y1="169.70" x2="684.50" y2="169.70" stroke="#ebebeb" stroke-width="1" />
<line x1="510.30" y1="198.90" x2="684.50" y2="198.90" stroke="#ebebeb" stroke-width="1" />
<line x1="510.30" y1="228.10" x2="684.50" y2="228.10" stroke="#ebebeb" stroke-width="1" />
<rect x="510.30" y="112.90" width="174.20" height="121.10" fill="none" stroke="#e4e4e4" stroke-width="1" />
<line x1="510.10" y1="140.50" x2="513.50" y2="140.50" stroke="#333" stroke-width="1" />
<line x1="510.10" y1="169.70" x2="513.50" y2="169.70" stroke="#333" stroke-width="1" />
<line x1="510.10" y1="198.90" x2="513.50" y2="198.90" stroke="#333" stroke-width="1" />
<line x1="510.10" y1="228.10" x2="513.50" y2="228.10" stroke="#333" stroke-width="1" />
<line x1="517.70" y1="234.20" x2="517.70" y2="230.80" stroke="#333" stroke-width="1" />
<line x1="583.60" y1="234.20" x2="583.60" y2="230.80" stroke="#333" stroke-width="1" />
<line x1="649.50" y1="234.20" x2="649.50" y2="230.80" stroke="#333" stroke-width="1" />
<text x="509.20" y="143.90" font-size="10.2" text-anchor="end" font-weight="normal" font-style="normal" fill="#111" textLength="14.8" lengthAdjust="spacingAndGlyphs" stroke="#111" stroke-width="0.25" >0.2</text>
<text x="509.20" y="173.10" font-size="10.2" text-anchor="end" font-weight="normal" font-style="normal" fill="#111" textLength="14.8" lengthAdjust="spacingAndGlyphs" stroke="#111" stroke-width="0.25" >0.0</text>
<text x="509.20" y="202.30" font-size="10.2" text-anchor="end" font-weight="normal" font-style="normal" fill="#111" textLength="18.2" lengthAdjust="spacingAndGlyphs" stroke="#111" stroke-width="0.25" >-0.2</text>
<text x="509.20" y="231.50" font-size="10.2" text-anchor="end" font-weight="normal" font-style="normal" fill="#111" textLength="18.2" lengthAdjust="spacingAndGlyphs" stroke="#111" stroke-width="0.25" >-0.4</text>
<text x="517.70" y="242.80" font-size="10.2" text-anchor="middle" font-weight="normal" font-style="normal" fill="#111" textLength="23.68" lengthAdjust="spacingAndGlyphs" stroke="#111" stroke-width="0.25" >1000</text>
<text x="583.60" y="242.80" font-size="10.2" text-anchor="middle" font-weight="normal" font-style="normal" fill="#111" textLength="23.68" lengthAdjust="spacingAndGlyphs" stroke="#111" stroke-width="0.25" >1500</text>
<text x="649.50" y="242.80" font-size="10.2" text-anchor="middle" font-weight="normal" font-style="normal" fill="#111" textLength="23.68" lengthAdjust="spacingAndGlyphs" stroke="#111" stroke-width="0.25" >2000</text>
<text x="582.70" y="253.80" font-size="11.5" text-anchor="start" font-weight="normal" font-style="normal" fill="#111" textLength="29.3" lengthAdjust="spacingAndGlyphs" stroke="#111" stroke-width="0.2" ><tspan font-style="italic">τ</tspan> (ns)</text>
<path d="M477.20,167.60 L483.50,164.60 L489.90,167.60 M477.20,180.40 L483.50,183.40 L489.90,180.40" fill="none" stroke="#222" stroke-width="0.75"/>
<text x="488.40" y="176.00" font-size="11.5" font-style="italic" text-anchor="middle" fill="#222" transform="rotate(-90 488.40 176.00)">σ</text>
<text x="489.90" y="170.70" font-size="7" font-style="italic" text-anchor="middle" fill="#222" transform="rotate(-90 489.90 170.70)">z</text>
<rect x="510.50" y="271.00" width="174.00" height="122.30" fill="#fff" stroke="none" stroke-width="1" />
<line x1="513.90" y1="271.00" x2="513.90" y2="393.30" stroke="#ebebeb" stroke-width="1" />
<line x1="558.14" y1="271.00" x2="558.14" y2="393.30" stroke="#ebebeb" stroke-width="1" />
<line x1="602.38" y1="271.00" x2="602.38" y2="393.30" stroke="#ebebeb" stroke-width="1" />
<line x1="646.62" y1="271.00" x2="646.62" y2="393.30" stroke="#ebebeb" stroke-width="1" />
<line x1="510.50" y1="304.50" x2="684.50" y2="304.50" stroke="#ebebeb" stroke-width="1" />
<line x1="510.50" y1="342.10" x2="684.50" y2="342.10" stroke="#ebebeb" stroke-width="1" />
<line x1="510.50" y1="379.70" x2="684.50" y2="379.70" stroke="#ebebeb" stroke-width="1" />
<rect x="510.50" y="271.00" width="174.00" height="122.30" fill="none" stroke="#e4e4e4" stroke-width="1" />
<line x1="510.30" y1="304.50" x2="513.70" y2="304.50" stroke="#333" stroke-width="1" />
<line x1="510.30" y1="342.10" x2="513.70" y2="342.10" stroke="#333" stroke-width="1" />
<line x1="510.30" y1="379.70" x2="513.70" y2="379.70" stroke="#333" stroke-width="1" />
<line x1="513.90" y1="393.50" x2="513.90" y2="390.10" stroke="#333" stroke-width="1" />
<line x1="558.14" y1="393.50" x2="558.14" y2="390.10" stroke="#333" stroke-width="1" />
<line x1="602.38" y1="393.50" x2="602.38" y2="390.10" stroke="#333" stroke-width="1" />
<line x1="646.62" y1="393.50" x2="646.62" y2="390.10" stroke="#333" stroke-width="1" />
<text x="509.20" y="307.90" font-size="10.2" text-anchor="end" font-weight="normal" font-style="normal" fill="#111" textLength="14.8" lengthAdjust="spacingAndGlyphs" stroke="#111" stroke-width="0.25" >0.4</text>
<text x="509.20" y="345.50" font-size="10.2" text-anchor="end" font-weight="normal" font-style="normal" fill="#111" textLength="14.8" lengthAdjust="spacingAndGlyphs" stroke="#111" stroke-width="0.25" >0.2</text>
<text x="509.20" y="383.10" font-size="10.2" text-anchor="end" font-weight="normal" font-style="normal" fill="#111" textLength="14.8" lengthAdjust="spacingAndGlyphs" stroke="#111" stroke-width="0.25" >0.0</text>
<text x="513.90" y="401.60" font-size="10.2" text-anchor="middle" font-weight="normal" font-style="normal" fill="#111" textLength="5.92" lengthAdjust="spacingAndGlyphs" stroke="#111" stroke-width="0.25" >0</text>
<text x="558.14" y="401.60" font-size="10.2" text-anchor="middle" font-weight="normal" font-style="normal" fill="#111" textLength="17.76" lengthAdjust="spacingAndGlyphs" stroke="#111" stroke-width="0.25" >200</text>
<text x="602.38" y="401.60" font-size="10.2" text-anchor="middle" font-weight="normal" font-style="normal" fill="#111" textLength="17.76" lengthAdjust="spacingAndGlyphs" stroke="#111" stroke-width="0.25" >400</text>
<text x="646.62" y="401.60" font-size="10.2" text-anchor="middle" font-weight="normal" font-style="normal" fill="#111" textLength="17.76" lengthAdjust="spacingAndGlyphs" stroke="#111" stroke-width="0.25" >600</text>
<text x="598.00" y="412.40" font-size="12" text-anchor="middle" font-weight="normal" font-style="italic" fill="#111" stroke="#111" stroke-width="0.15" >N</text>
<path d="M480.30,325.60 L486.60,322.60 L493.00,325.60 M480.30,338.40 L486.60,341.40 L493.00,338.40" fill="none" stroke="#222" stroke-width="0.75"/>
<text x="491.50" y="334.00" font-size="11.5" font-style="italic" text-anchor="middle" fill="#222" transform="rotate(-90 491.50 334.00)">σ</text>
<text x="493.00" y="328.70" font-size="7" font-style="italic" text-anchor="middle" fill="#222" transform="rotate(-90 493.00 328.70)">z</text>
<clipPath id="cTL"><rect x="39.6" y="112.8" width="83.0" height="136.39999999999998"/></clipPath>
<clipPath id="cTR"><rect x="131.4" y="112.6" width="82.79999999999998" height="136.6"/></clipPath>
<clipPath id="cBL"><rect x="39.6" y="256.8" width="83.0" height="136.09999999999997"/></clipPath>
<clipPath id="cBR"><rect x="131.4" y="256.5" width="82.79999999999998" height="136.39999999999998"/></clipPath>
<clipPath id="cE"><rect x="510.3" y="112.9" width="174.2" height="121.1"/></clipPath>
<clipPath id="cF"><rect x="510.5" y="271.0" width="174.0" height="122.30000000000001"/></clipPath>
<g clip-path="url(#cTL)">
<path d="M39.60,121.00 L44.00,121.50 L48.00,121.00 L52.00,121.50 L55.50,121.70 L58.00,124.00 L60.00,127.00 L62.00,130.00 L63.50,130.50 L65.00,128.50 L67.00,124.50 L68.50,122.00 L69.50,125.50 L70.50,135.00 L71.50,146.00 L71.90,150.00 L72.30,175.00 L72.90,190.00 L73.80,203.00 L74.50,212.00 L75.30,218.50 L76.20,214.00 L77.10,205.00 L78.20,196.00 L79.20,190.00 L80.60,183.50 L82.50,182.00 L84.50,180.00 L85.40,175.00 L85.60,170.00 L86.90,160.00 L89.30,150.00 L90.80,142.80 L92.20,136.00 L93.50,131.50 L96.00,128.00 L99.00,126.00 L102.00,124.50 L106.00,122.50 L110.00,121.30 L114.00,120.50 L120.00,120.00 L122.60,120.00" fill="none" stroke="#2a84a2" stroke-width="1.1" stroke-linejoin="round" stroke-dasharray="5.2,1.8,1.2,1.8"/>
<line x1="43.50" y1="117.40" x2="43.50" y2="123.40" stroke="#2a84a2" stroke-width="0.9"/>
<path d="M42.30,120.40H44.70M43.50,119.20V121.60" stroke="#2a84a2" stroke-width="1.0"/>
<polygon points="43.50,119.32 44.34,120.40 43.50,121.48 42.66,120.40" fill="#2a84a2"/>
<line x1="45.50" y1="122.40" x2="45.50" y2="128.40" stroke="#2a84a2" stroke-width="0.9"/>
<path d="M44.30,125.40H46.70M45.50,124.20V126.60" stroke="#2a84a2" stroke-width="1.0"/>
<polygon points="45.50,124.32 46.34,125.40 45.50,126.48 44.66,125.40" fill="#2a84a2"/>
<line x1="47.40" y1="114.20" x2="47.40" y2="120.20" stroke="#2a84a2" stroke-width="0.9"/>
<path d="M46.20,117.20H48.60M47.40,116.00V118.40" stroke="#2a84a2" stroke-width="1.0"/>
<polygon points="47.40,116.12 48.24,117.20 47.40,118.28 46.56,117.20" fill="#2a84a2"/>
<line x1="49.50" y1="119.80" x2="49.50" y2="125.80" stroke="#2a84a2" stroke-width="0.9"/>
<path d="M48.30,122.80H50.70M49.50,121.60V124.00" stroke="#2a84a2" stroke-width="1.0"/>
<polygon points="49.50,121.72 50.34,122.80 49.50,123.88 48.66,122.80" fill="#2a84a2"/>
<line x1="51.10" y1="129.30" x2="51.10" y2="135.30" stroke="#2a84a2" stroke-width="0.9"/>
<path d="M49.90,132.30H52.30M51.10,131.10V133.50" stroke="#2a84a2" stroke-width="1.0"/>
<polygon points="51.10,131.22 51.94,132.30 51.10,133.38 50.26,132.30" fill="#2a84a2"/>
<line x1="52.90" y1="120.30" x2="52.90" y2="126.30" stroke="#2a84a2" stroke-width="0.9"/>
<path d="M51.70,123.30H54.10M52.90,122.10V124.50" stroke="#2a84a2" stroke-width="1.0"/>
<polygon points="52.90,122.22 53.74,123.30 52.90,124.38 52.06,123.30" fill="#2a84a2"/>
<line x1="55.30" y1="112.80" x2="55.30" y2="118.80" stroke="#2a84a2" stroke-width="0.9"/>
<path d="M54.10,115.80H56.50M55.30,114.60V117.00" stroke="#2a84a2" stroke-width="1.0"/>
<polygon points="55.30,114.72 56.14,115.80 55.30,116.88 54.46,115.80" fill="#2a84a2"/>
<line x1="56.50" y1="112.80" x2="56.50" y2="118.80" stroke="#2a84a2" stroke-width="0.9"/>
<path d="M55.30,115.80H57.70M56.50,114.60V117.00" stroke="#2a84a2" stroke-width="1.0"/>
<polygon points="56.50,114.72 57.34,115.80 56.50,116.88 55.66,115.80" fill="#2a84a2"/>
<line x1="58.80" y1="124.50" x2="58.80" y2="130.50" stroke="#2a84a2" stroke-width="0.9"/>
<path d="M57.60,127.50H60.00M58.80,126.30V128.70" stroke="#2a84a2" stroke-width="1.0"/>
<polygon points="58.80,126.42 59.64,127.50 58.80,128.58 57.96,127.50" fill="#2a84a2"/>
<line x1="60.80" y1="128.90" x2="60.80" y2="134.90" stroke="#2a84a2" stroke-width="0.9"/>
<path d="M59.60,131.90H62.00M60.80,130.70V133.10" stroke="#2a84a2" stroke-width="1.0"/>
<polygon points="60.80,130.82 61.64,131.90 60.80,132.98 59.96,131.90" fill="#2a84a2"/>
<line x1="62.50" y1="134.60" x2="62.50" y2="140.60" stroke="#2a84a2" stroke-width="0.9"/>
<path d="M61.30,137.60H63.70M62.50,136.40V138.80" stroke="#2a84a2" stroke-width="1.0"/>
<polygon points="62.50,136.52 63.34,137.60 62.50,138.68 61.66,137.60" fill="#2a84a2"/>
<line x1="64.30" y1="129.30" x2="64.30" y2="135.30" stroke="#2a84a2" stroke-width="0.9"/>
<path d="M63.10,132.30H65.50M64.30,131.10V133.50" stroke="#2a84a2" stroke-width="1.0"/>
<polygon points="64.30,131.22 65.14,132.30 64.30,133.38 63.46,132.30" fill="#2a84a2"/>
<line x1="66.20" y1="116.60" x2="66.20" y2="122.60" stroke="#2a84a2" stroke-width="0.9"/>
<path d="M65.00,119.60H67.40M66.20,118.40V120.80" stroke="#2a84a2" stroke-width="1.0"/>
<polygon points="66.20,118.52 67.04,119.60 66.20,120.68 65.36,119.60" fill="#2a84a2"/>
<line x1="68.00" y1="120.60" x2="68.00" y2="126.60" stroke="#2a84a2" stroke-width="0.9"/>
<path d="M66.80,123.60H69.20M68.00,122.40V124.80" stroke="#2a84a2" stroke-width="1.0"/>
<polygon points="68.00,122.52 68.84,123.60 68.00,124.68 67.16,123.60" fill="#2a84a2"/>
<line x1="69.10" y1="125.80" x2="69.10" y2="131.80" stroke="#2a84a2" stroke-width="0.9"/>
<path d="M67.90,128.80H70.30M69.10,127.60V130.00" stroke="#2a84a2" stroke-width="1.0"/>
<polygon points="69.10,127.72 69.94,128.80 69.10,129.88 68.26,128.80" fill="#2a84a2"/>
<line x1="70.40" y1="141.60" x2="70.40" y2="147.60" stroke="#2a84a2" stroke-width="0.9"/>
<path d="M69.20,144.60H71.60M70.40,143.40V145.80" stroke="#2a84a2" stroke-width="1.0"/>
<polygon points="70.40,143.52 71.24,144.60 70.40,145.68 69.56,144.60" fill="#2a84a2"/>
<line x1="71.60" y1="155.00" x2="71.60" y2="161.00" stroke="#2a84a2" stroke-width="0.9"/>
<path d="M70.40,158.00H72.80M71.60,156.80V159.20" stroke="#2a84a2" stroke-width="1.0"/>
<polygon points="71.60,156.92 72.44,158.00 71.60,159.08 70.76,158.00" fill="#2a84a2"/>
<line x1="72.50" y1="179.00" x2="72.50" y2="185.00" stroke="#2a84a2" stroke-width="0.9"/>
<path d="M71.30,182.00H73.70M72.50,180.80V183.20" stroke="#2a84a2" stroke-width="1.0"/>
<polygon points="72.50,180.92 73.34,182.00 72.50,183.08 71.66,182.00" fill="#2a84a2"/>
<line x1="73.40" y1="195.00" x2="73.40" y2="201.00" stroke="#2a84a2" stroke-width="0.9"/>
<path d="M72.20,198.00H74.60M73.40,196.80V199.20" stroke="#2a84a2" stroke-width="1.0"/>
<polygon points="73.40,196.92 74.24,198.00 73.40,199.08 72.56,198.00" fill="#2a84a2"/>
<line x1="74.60" y1="210.00" x2="74.60" y2="216.00" stroke="#2a84a2" stroke-width="0.9"/>
<path d="M73.40,213.00H75.80M74.60,211.80V214.20" stroke="#2a84a2" stroke-width="1.0"/>
<polygon points="74.60,211.92 75.44,213.00 74.60,214.08 73.76,213.00" fill="#2a84a2"/>
<line x1="75.40" y1="214.00" x2="75.40" y2="220.00" stroke="#2a84a2" stroke-width="0.9"/>
<path d="M74.20,217.00H76.60M75.40,215.80V218.20" stroke="#2a84a2" stroke-width="1.0"/>
<polygon points="75.40,215.92 76.24,217.00 75.40,218.08 74.56,217.00" fill="#2a84a2"/>
<line x1="76.50" y1="205.00" x2="76.50" y2="211.00" stroke="#2a84a2" stroke-width="0.9"/>
<path d="M75.30,208.00H77.70M76.50,206.80V209.20" stroke="#2a84a2" stroke-width="1.0"/>
<polygon points="76.50,206.92 77.34,208.00 76.50,209.08 75.66,208.00" fill="#2a84a2"/>
<line x1="77.80" y1="196.00" x2="77.80" y2="202.00" stroke="#2a84a2" stroke-width="0.9"/>
<path d="M76.60,199.00H79.00M77.80,197.80V200.20" stroke="#2a84a2" stroke-width="1.0"/>
<polygon points="77.80,197.92 78.64,199.00 77.80,200.08 76.96,199.00" fill="#2a84a2"/>
<line x1="79.50" y1="183.00" x2="79.50" y2="189.00" stroke="#2a84a2" stroke-width="0.9"/>
<path d="M78.30,186.00H80.70M79.50,184.80V187.20" stroke="#2a84a2" stroke-width="1.0"/>
<polygon points="79.50,184.92 80.34,186.00 79.50,187.08 78.66,186.00" fill="#2a84a2"/>
<line x1="81.00" y1="181.00" x2="81.00" y2="187.00" stroke="#2a84a2" stroke-width="0.9"/>
<path d="M79.80,184.00H82.20M81.00,182.80V185.20" stroke="#2a84a2" stroke-width="1.0"/>
<polygon points="81.00,182.92 81.84,184.00 81.00,185.08 80.16,184.00" fill="#2a84a2"/>
<line x1="82.60" y1="180.50" x2="82.60" y2="186.50" stroke="#2a84a2" stroke-width="0.9"/>
<path d="M81.40,183.50H83.80M82.60,182.30V184.70" stroke="#2a84a2" stroke-width="1.0"/>
<polygon points="82.60,182.42 83.44,183.50 82.60,184.58 81.76,183.50" fill="#2a84a2"/>
<line x1="84.00" y1="178.00" x2="84.00" y2="184.00" stroke="#2a84a2" stroke-width="0.9"/>
<path d="M82.80,181.00H85.20M84.00,179.80V182.20" stroke="#2a84a2" stroke-width="1.0"/>
<polygon points="84.00,179.92 84.84,181.00 84.00,182.08 83.16,181.00" fill="#2a84a2"/>
<line x1="84.90" y1="167.00" x2="84.90" y2="173.00" stroke="#2a84a2" stroke-width="0.9"/>
<path d="M83.70,170.00H86.10M84.90,168.80V171.20" stroke="#2a84a2" stroke-width="1.0"/>
<polygon points="84.90,168.92 85.74,170.00 84.90,171.08 84.06,170.00" fill="#2a84a2"/>
<line x1="86.20" y1="162.00" x2="86.20" y2="168.00" stroke="#2a84a2" stroke-width="0.9"/>
<path d="M85.00,165.00H87.40M86.20,163.80V166.20" stroke="#2a84a2" stroke-width="1.0"/>
<polygon points="86.20,163.92 87.04,165.00 86.20,166.08 85.36,165.00" fill="#2a84a2"/>
<line x1="87.60" y1="154.00" x2="87.60" y2="160.00" stroke="#2a84a2" stroke-width="0.9"/>
<path d="M86.40,157.00H88.80M87.60,155.80V158.20" stroke="#2a84a2" stroke-width="1.0"/>
<polygon points="87.60,155.92 88.44,157.00 87.60,158.08 86.76,157.00" fill="#2a84a2"/>
<line x1="89.00" y1="148.00" x2="89.00" y2="154.00" stroke="#2a84a2" stroke-width="0.9"/>
<path d="M87.80,151.00H90.20M89.00,149.80V152.20" stroke="#2a84a2" stroke-width="1.0"/>
<polygon points="89.00,149.92 89.84,151.00 89.00,152.08 88.16,151.00" fill="#2a84a2"/>
<line x1="90.90" y1="139.63" x2="90.90" y2="145.63" stroke="#2a84a2" stroke-width="0.9"/>
<path d="M89.70,142.63H92.10M90.90,141.43V143.83" stroke="#2a84a2" stroke-width="1.0"/>
<polygon points="90.90,141.55 91.74,142.63 90.90,143.71 90.06,142.63" fill="#2a84a2"/>
<line x1="92.80" y1="133.13" x2="92.80" y2="139.13" stroke="#2a84a2" stroke-width="0.9"/>
<path d="M91.60,136.13H94.00M92.80,134.93V137.33" stroke="#2a84a2" stroke-width="1.0"/>
<polygon points="92.80,135.05 93.64,136.13 92.80,137.21 91.96,136.13" fill="#2a84a2"/>
<line x1="94.70" y1="126.64" x2="94.70" y2="132.64" stroke="#2a84a2" stroke-width="0.9"/>
<path d="M93.50,129.64H95.90M94.70,128.44V130.84" stroke="#2a84a2" stroke-width="1.0"/>
<polygon points="94.70,128.56 95.54,129.64 94.70,130.72 93.86,129.64" fill="#2a84a2"/>
<line x1="96.60" y1="124.64" x2="96.60" y2="130.64" stroke="#2a84a2" stroke-width="0.9"/>
<path d="M95.40,127.64H97.80M96.60,126.44V128.84" stroke="#2a84a2" stroke-width="1.0"/>
<polygon points="96.60,126.56 97.44,127.64 96.60,128.72 95.76,127.64" fill="#2a84a2"/>
<line x1="98.50" y1="123.79" x2="98.50" y2="129.79" stroke="#2a84a2" stroke-width="0.9"/>
<path d="M97.30,126.79H99.70M98.50,125.59V127.99" stroke="#2a84a2" stroke-width="1.0"/>
<polygon points="98.50,125.71 99.34,126.79 98.50,127.87 97.66,126.79" fill="#2a84a2"/>
<line x1="100.40" y1="120.66" x2="100.40" y2="126.66" stroke="#2a84a2" stroke-width="0.9"/>
<path d="M99.20,123.66H101.60M100.40,122.46V124.86" stroke="#2a84a2" stroke-width="1.0"/>
<polygon points="100.40,122.58 101.24,123.66 100.40,124.74 99.56,123.66" fill="#2a84a2"/>
<line x1="102.30" y1="121.41" x2="102.30" y2="127.41" stroke="#2a84a2" stroke-width="0.9"/>
<path d="M101.10,124.41H103.50M102.30,123.21V125.61" stroke="#2a84a2" stroke-width="1.0"/>
<polygon points="102.30,123.33 103.14,124.41 102.30,125.49 101.46,124.41" fill="#2a84a2"/>
<line x1="104.20" y1="121.08" x2="104.20" y2="127.08" stroke="#2a84a2" stroke-width="0.9"/>
<path d="M103.00,124.08H105.40M104.20,122.88V125.28" stroke="#2a84a2" stroke-width="1.0"/>
<polygon points="104.20,123.00 105.04,124.08 104.20,125.16 103.36,124.08" fill="#2a84a2"/>
<line x1="106.10" y1="120.99" x2="106.10" y2="126.99" stroke="#2a84a2" stroke-width="0.9"/>
<path d="M104.90,123.99H107.30M106.10,122.79V125.19" stroke="#2a84a2" stroke-width="1.0"/>
<polygon points="106.10,122.91 106.94,123.99 106.10,125.07 105.26,123.99" fill="#2a84a2"/>
<line x1="108.00" y1="116.79" x2="108.00" y2="122.79" stroke="#2a84a2" stroke-width="0.9"/>
<path d="M106.80,119.79H109.20M108.00,118.59V120.99" stroke="#2a84a2" stroke-width="1.0"/>
<polygon points="108.00,118.71 108.84,119.79 108.00,120.87 107.16,119.79" fill="#2a84a2"/>
<line x1="109.90" y1="117.31" x2="109.90" y2="123.31" stroke="#2a84a2" stroke-width="0.9"/>
<path d="M108.70,120.31H111.10M109.90,119.11V121.51" stroke="#2a84a2" stroke-width="1.0"/>
<polygon points="109.90,119.23 110.74,120.31 109.90,121.39 109.06,120.31" fill="#2a84a2"/>
<line x1="111.80" y1="115.81" x2="111.80" y2="121.81" stroke="#2a84a2" stroke-width="0.9"/>
<path d="M110.60,118.81H113.00M111.80,117.61V120.01" stroke="#2a84a2" stroke-width="1.0"/>
<polygon points="111.80,117.73 112.64,118.81 111.80,119.89 110.96,118.81" fill="#2a84a2"/>
<line x1="113.70" y1="119.17" x2="113.70" y2="125.17" stroke="#2a84a2" stroke-width="0.9"/>
<path d="M112.50,122.17H114.90M113.70,120.97V123.37" stroke="#2a84a2" stroke-width="1.0"/>
<polygon points="113.70,121.09 114.54,122.17 113.70,123.25 112.86,122.17" fill="#2a84a2"/>
<line x1="115.60" y1="118.37" x2="115.60" y2="124.37" stroke="#2a84a2" stroke-width="0.9"/>
<path d="M114.40,121.37H116.80M115.60,120.17V122.57" stroke="#2a84a2" stroke-width="1.0"/>
<polygon points="115.60,120.29 116.44,121.37 115.60,122.45 114.76,121.37" fill="#2a84a2"/>
<line x1="117.50" y1="114.83" x2="117.50" y2="120.83" stroke="#2a84a2" stroke-width="0.9"/>
<path d="M116.30,117.83H118.70M117.50,116.63V119.03" stroke="#2a84a2" stroke-width="1.0"/>
<polygon points="117.50,116.75 118.34,117.83 117.50,118.91 116.66,117.83" fill="#2a84a2"/>
<line x1="119.40" y1="119.56" x2="119.40" y2="125.56" stroke="#2a84a2" stroke-width="0.9"/>
<path d="M118.20,122.56H120.60M119.40,121.36V123.76" stroke="#2a84a2" stroke-width="1.0"/>
<polygon points="119.40,121.48 120.24,122.56 119.40,123.64 118.56,122.56" fill="#2a84a2"/>
</g>
<g clip-path="url(#cTR)">
<path d="M131.40,108.00 L131.56,111.10 L131.79,115.56 L132.05,120.49 L132.30,125.00 L132.54,128.87 L132.78,132.56 L133.03,136.23 L133.30,140.00 L133.57,143.74 L133.86,147.44 L134.16,151.41 L134.50,156.00 L134.89,161.65 L135.32,168.06 L135.77,174.45 L136.20,180.00 L136.61,184.50 L137.02,188.38 L137.42,191.81 L137.80,195.00 L138.15,197.85 L138.49,200.31 L138.83,202.62 L139.20,205.00 L139.62,207.57 L140.06,210.19 L140.53,212.71 L141.00,215.00 L141.50,217.17 L142.02,219.25 L142.53,220.95 L143.00,222.00 L143.42,222.20 L143.81,221.75 L144.17,220.92 L144.50,220.00 L144.79,219.12 L145.03,218.12 L145.26,216.81 L145.50,215.00 L145.75,212.49 L146.01,209.44 L146.26,206.16 L146.50,203.00 L146.73,199.98 L146.94,196.94 L147.16,193.93 L147.40,191.00 L147.67,188.39 L147.95,186.00 L148.26,183.36 L148.60,180.00 L149.00,175.42 L149.46,170.00 L149.91,164.58 L150.30,160.00 L150.62,156.48 L150.90,153.56 L151.15,151.12 L151.40,149.00 L151.63,147.21 L151.84,145.81 L152.06,144.76 L152.30,144.00 L152.57,143.57 L152.86,143.47 L153.17,143.64 L153.50,144.00 L153.85,144.56 L154.23,145.34 L154.62,146.33 L155.00,147.50 L155.38,148.74 L155.75,150.09 L156.12,151.78 L156.50,154.00 L156.87,156.93 L157.23,160.41 L157.60,164.18 L158.00,168.00 L158.42,171.86 L158.87,175.88 L159.33,179.95 L159.80,184.00 L160.28,188.09 L160.78,192.25 L161.28,196.28 L161.80,200.00 L162.34,203.43 L162.90,206.64 L163.46,209.53 L164.00,212.00 L164.53,214.11 L165.04,215.89 L165.54,217.17 L166.00,217.80 L166.42,217.60 L166.80,216.70 L167.16,215.40 L167.50,214.00 L167.81,212.62 L168.08,211.07 L168.36,209.25 L168.70,207.00 L169.11,204.17 L169.57,200.88 L170.04,197.39 L170.50,194.00 L170.93,190.68 L171.35,187.31 L171.77,184.04 L172.20,181.00 L172.64,178.20 L173.09,175.58 L173.54,173.16 L174.00,171.00 L174.47,169.08 L174.96,167.39 L175.44,165.95 L175.90,164.80 L176.32,163.99 L176.73,163.48 L177.11,163.19 L177.50,163.00 L177.88,162.92 L178.26,162.98 L178.63,163.18 L179.00,163.50 L179.38,163.86 L179.75,164.28 L180.12,164.94 L180.50,166.00 L180.86,167.52 L181.22,169.41 L181.59,171.59 L182.00,174.00 L182.45,176.77 L182.94,179.88 L183.45,183.05 L184.00,186.00 L184.59,188.74 L185.22,191.39 L185.87,193.85 L186.50,196.00 L187.13,197.95 L187.76,199.71 L188.36,201.04 L188.90,201.70 L189.36,201.54 L189.76,200.71 L190.13,199.45 L190.50,198.00 L190.88,196.31 L191.26,194.30 L191.63,192.14 L192.00,190.00 L192.36,187.89 L192.72,185.72 L193.09,183.57 L193.50,181.50 L193.96,179.50 L194.46,177.53 L194.98,175.68 L195.50,174.00 L196.02,172.54 L196.56,171.25 L197.09,170.09 L197.60,169.00 L198.09,167.96 L198.57,167.00 L199.04,166.16 L199.50,165.50 L199.96,165.00 L200.41,164.66 L200.86,164.48 L201.30,164.50 L201.73,164.75 L202.16,165.22 L202.58,165.82 L203.00,166.50 L203.42,167.16 L203.84,167.88 L204.27,168.77 L204.70,170.00 L205.15,171.68 L205.60,173.72 L206.05,175.89 L206.50,178.00 L206.92,180.04 L207.32,182.10 L207.74,184.11 L208.20,186.00 L208.77,187.86 L209.41,189.70 L209.99,191.29 L210.40,192.40" fill="none" stroke="#2a84a2" stroke-width="1.1" stroke-linejoin="round" stroke-dasharray="5.2,1.8,1.2,1.8"/>
<line x1="134.90" y1="153.00" x2="134.90" y2="159.00" stroke="#2a84a2" stroke-width="0.9"/>
<path d="M133.65,156.00H136.15M134.90,154.75V157.25" stroke="#2a84a2" stroke-width="1.0"/>
<polygon points="134.90,154.88 135.78,156.00 134.90,157.12 134.03,156.00" fill="#2a84a2"/>
<line x1="139.00" y1="198.50" x2="139.00" y2="204.50" stroke="#2a84a2" stroke-width="0.9"/>
<path d="M137.75,201.50H140.25M139.00,200.25V202.75" stroke="#2a84a2" stroke-width="1.0"/>
<polygon points="139.00,200.38 139.88,201.50 139.00,202.62 138.12,201.50" fill="#2a84a2"/>
<line x1="143.30" y1="222.30" x2="143.30" y2="228.30" stroke="#2a84a2" stroke-width="0.9"/>
<path d="M142.05,225.30H144.55M143.30,224.05V226.55" stroke="#2a84a2" stroke-width="1.0"/>
<polygon points="143.30,224.18 144.18,225.30 143.30,226.43 142.43,225.30" fill="#2a84a2"/>
<line x1="147.20" y1="188.00" x2="147.20" y2="194.00" stroke="#2a84a2" stroke-width="0.9"/>
<path d="M145.95,191.00H148.45M147.20,189.75V192.25" stroke="#2a84a2" stroke-width="1.0"/>
<polygon points="147.20,189.88 148.07,191.00 147.20,192.12 146.32,191.00" fill="#2a84a2"/>
<line x1="151.30" y1="143.00" x2="151.30" y2="149.00" stroke="#2a84a2" stroke-width="0.9"/>
<path d="M150.05,146.00H152.55M151.30,144.75V147.25" stroke="#2a84a2" stroke-width="1.0"/>
<polygon points="151.30,144.88 152.18,146.00 151.30,147.12 150.43,146.00" fill="#2a84a2"/>
<line x1="155.40" y1="146.90" x2="155.40" y2="152.90" stroke="#2a84a2" stroke-width="0.9"/>
<path d="M154.15,149.90H156.65M155.40,148.65V151.15" stroke="#2a84a2" stroke-width="1.0"/>
<polygon points="155.40,148.78 156.28,149.90 155.40,151.03 154.53,149.90" fill="#2a84a2"/>
<line x1="159.80" y1="181.00" x2="159.80" y2="187.00" stroke="#2a84a2" stroke-width="0.9"/>
<path d="M158.55,184.00H161.05M159.80,182.75V185.25" stroke="#2a84a2" stroke-width="1.0"/>
<polygon points="159.80,182.88 160.68,184.00 159.80,185.12 158.93,184.00" fill="#2a84a2"/>
<line x1="163.90" y1="196.70" x2="163.90" y2="202.70" stroke="#2a84a2" stroke-width="0.9"/>
<path d="M162.65,199.70H165.15M163.90,198.45V200.95" stroke="#2a84a2" stroke-width="1.0"/>
<polygon points="163.90,198.57 164.78,199.70 163.90,200.82 163.03,199.70" fill="#2a84a2"/>
<line x1="168.20" y1="204.50" x2="168.20" y2="210.50" stroke="#2a84a2" stroke-width="0.9"/>
<path d="M166.95,207.50H169.45M168.20,206.25V208.75" stroke="#2a84a2" stroke-width="1.0"/>
<polygon points="168.20,206.38 169.07,207.50 168.20,208.62 167.32,207.50" fill="#2a84a2"/>
<line x1="172.30" y1="178.00" x2="172.30" y2="184.00" stroke="#2a84a2" stroke-width="0.9"/>
<path d="M171.05,181.00H173.55M172.30,179.75V182.25" stroke="#2a84a2" stroke-width="1.0"/>
<polygon points="172.30,179.88 173.18,181.00 172.30,182.12 171.43,181.00" fill="#2a84a2"/>
<line x1="176.60" y1="153.30" x2="176.60" y2="159.30" stroke="#2a84a2" stroke-width="0.9"/>
<path d="M175.35,156.30H177.85M176.60,155.05V157.55" stroke="#2a84a2" stroke-width="1.0"/>
<polygon points="176.60,155.18 177.47,156.30 176.60,157.43 175.72,156.30" fill="#2a84a2"/>
<line x1="180.10" y1="161.60" x2="180.10" y2="167.60" stroke="#2a84a2" stroke-width="0.9"/>
<path d="M178.85,164.60H181.35M180.10,163.35V165.85" stroke="#2a84a2" stroke-width="1.0"/>
<polygon points="180.10,163.47 180.97,164.60 180.10,165.72 179.22,164.60" fill="#2a84a2"/>
<line x1="185.20" y1="191.60" x2="185.20" y2="197.60" stroke="#2a84a2" stroke-width="0.9"/>
<path d="M183.95,194.60H186.45M185.20,193.35V195.85" stroke="#2a84a2" stroke-width="1.0"/>
<polygon points="185.20,193.47 186.07,194.60 185.20,195.72 184.32,194.60" fill="#2a84a2"/>
<line x1="189.20" y1="199.40" x2="189.20" y2="205.40" stroke="#2a84a2" stroke-width="0.9"/>
<path d="M187.95,202.40H190.45M189.20,201.15V203.65" stroke="#2a84a2" stroke-width="1.0"/>
<polygon points="189.20,201.28 190.07,202.40 189.20,203.53 188.32,202.40" fill="#2a84a2"/>
<line x1="193.80" y1="178.60" x2="193.80" y2="184.60" stroke="#2a84a2" stroke-width="0.9"/>
<path d="M192.55,181.60H195.05M193.80,180.35V182.85" stroke="#2a84a2" stroke-width="1.0"/>
<polygon points="193.80,180.47 194.68,181.60 193.80,182.72 192.93,181.60" fill="#2a84a2"/>
<line x1="197.50" y1="173.70" x2="197.50" y2="179.70" stroke="#2a84a2" stroke-width="0.9"/>
<path d="M196.25,176.70H198.75M197.50,175.45V177.95" stroke="#2a84a2" stroke-width="1.0"/>
<polygon points="197.50,175.57 198.38,176.70 197.50,177.82 196.62,176.70" fill="#2a84a2"/>
<line x1="201.80" y1="167.00" x2="201.80" y2="173.00" stroke="#2a84a2" stroke-width="0.9"/>
<path d="M200.55,170.00H203.05M201.80,168.75V171.25" stroke="#2a84a2" stroke-width="1.0"/>
<polygon points="201.80,168.88 202.68,170.00 201.80,171.12 200.93,170.00" fill="#2a84a2"/>
<line x1="206.00" y1="171.20" x2="206.00" y2="177.20" stroke="#2a84a2" stroke-width="0.9"/>
<path d="M204.75,174.20H207.25M206.00,172.95V175.45" stroke="#2a84a2" stroke-width="1.0"/>
<polygon points="206.00,173.07 206.88,174.20 206.00,175.32 205.12,174.20" fill="#2a84a2"/>
<line x1="210.50" y1="189.40" x2="210.50" y2="195.40" stroke="#2a84a2" stroke-width="0.9"/>
<path d="M209.25,192.40H211.75M210.50,191.15V193.65" stroke="#2a84a2" stroke-width="1.0"/>
<polygon points="210.50,191.28 211.38,192.40 210.50,193.53 209.62,192.40" fill="#2a84a2"/>
</g>
<g clip-path="url(#cBL)">
<path d="M39.60,274.00 L43.00,274.10 L44.80,273.50 L47.30,270.40 L49.20,273.50 L51.00,276.60 L52.90,272.00 L54.70,277.00 L55.40,274.10 L56.60,276.60 L57.20,272.30 L58.50,269.20 L60.30,272.90 L62.20,280.00 L64.10,272.90 L65.90,275.40 L67.20,287.80 L68.40,294.00 L69.50,300.00 L70.90,287.80 L72.10,282.80 L74.00,282.20 L74.90,299.60 L76.10,304.50 L76.70,306.00 L77.70,308.00 L78.50,321.30 L79.00,335.00 L79.40,348.50 L80.10,340.00 L80.90,328.60 L83.90,322.50 L85.70,317.10 L86.90,309.30 L87.60,301.40 L88.70,294.80 L89.90,285.00 L90.80,281.00 L92.00,279.10 L93.80,282.80 L95.70,277.90 L97.60,274.10 L100.00,280.30 L101.90,276.00 L103.80,274.10 L106.20,277.20 L108.10,268.50 L110.00,270.40 L111.80,276.60 L113.70,272.00 L115.60,274.10 L117.40,269.20 L119.30,274.70 L122.60,273.00" fill="none" stroke="#34508c" stroke-width="1.1" stroke-linejoin="round" stroke-dasharray="5.2,1.8,1.2,1.8"/>
<line x1="41.50" y1="270.50" x2="41.50" y2="276.50" stroke="#34508c" stroke-width="0.9"/>
<path d="M40.25,273.50H42.75M41.50,272.25V274.75" stroke="#34508c" stroke-width="1.0"/>
<polygon points="41.50,272.38 42.38,273.50 41.50,274.62 40.62,273.50" fill="#34508c"/>
<line x1="43.20" y1="272.50" x2="43.20" y2="278.50" stroke="#34508c" stroke-width="0.9"/>
<path d="M41.95,275.50H44.45M43.20,274.25V276.75" stroke="#34508c" stroke-width="1.0"/>
<polygon points="43.20,274.38 44.08,275.50 43.20,276.62 42.33,275.50" fill="#34508c"/>
<line x1="45.00" y1="269.00" x2="45.00" y2="275.00" stroke="#34508c" stroke-width="0.9"/>
<path d="M43.75,272.00H46.25M45.00,270.75V273.25" stroke="#34508c" stroke-width="1.0"/>
<polygon points="45.00,270.88 45.88,272.00 45.00,273.12 44.12,272.00" fill="#34508c"/>
<line x1="46.80" y1="268.00" x2="46.80" y2="274.00" stroke="#34508c" stroke-width="0.9"/>
<path d="M45.55,271.00H48.05M46.80,269.75V272.25" stroke="#34508c" stroke-width="1.0"/>
<polygon points="46.80,269.88 47.67,271.00 46.80,272.12 45.92,271.00" fill="#34508c"/>
<line x1="48.60" y1="270.00" x2="48.60" y2="276.00" stroke="#34508c" stroke-width="0.9"/>
<path d="M47.35,273.00H49.85M48.60,271.75V274.25" stroke="#34508c" stroke-width="1.0"/>
<polygon points="48.60,271.88 49.48,273.00 48.60,274.12 47.73,273.00" fill="#34508c"/>
<line x1="50.40" y1="273.50" x2="50.40" y2="279.50" stroke="#34508c" stroke-width="0.9"/>
<path d="M49.15,276.50H51.65M50.40,275.25V277.75" stroke="#34508c" stroke-width="1.0"/>
<polygon points="50.40,275.38 51.27,276.50 50.40,277.62 49.52,276.50" fill="#34508c"/>
<line x1="52.90" y1="264.30" x2="52.90" y2="270.30" stroke="#34508c" stroke-width="0.9"/>
<path d="M51.65,267.30H54.15M52.90,266.05V268.55" stroke="#34508c" stroke-width="1.0"/>
<polygon points="52.90,266.18 53.77,267.30 52.90,268.43 52.02,267.30" fill="#34508c"/>
<line x1="54.70" y1="281.10" x2="54.70" y2="287.10" stroke="#34508c" stroke-width="0.9"/>
<path d="M53.45,284.10H55.95M54.70,282.85V285.35" stroke="#34508c" stroke-width="1.0"/>
<polygon points="54.70,282.98 55.58,284.10 54.70,285.23 53.83,284.10" fill="#34508c"/>
<line x1="56.30" y1="272.00" x2="56.30" y2="278.00" stroke="#34508c" stroke-width="0.9"/>
<path d="M55.05,275.00H57.55M56.30,273.75V276.25" stroke="#34508c" stroke-width="1.0"/>
<polygon points="56.30,273.88 57.17,275.00 56.30,276.12 55.42,275.00" fill="#34508c"/>
<line x1="57.50" y1="269.00" x2="57.50" y2="275.00" stroke="#34508c" stroke-width="0.9"/>
<path d="M56.25,272.00H58.75M57.50,270.75V273.25" stroke="#34508c" stroke-width="1.0"/>
<polygon points="57.50,270.88 58.38,272.00 57.50,273.12 56.62,272.00" fill="#34508c"/>
<line x1="58.90" y1="265.50" x2="58.90" y2="271.50" stroke="#34508c" stroke-width="0.9"/>
<path d="M57.65,268.50H60.15M58.90,267.25V269.75" stroke="#34508c" stroke-width="1.0"/>
<polygon points="58.90,267.38 59.77,268.50 58.90,269.62 58.02,268.50" fill="#34508c"/>
<line x1="60.70" y1="270.00" x2="60.70" y2="276.00" stroke="#34508c" stroke-width="0.9"/>
<path d="M59.45,273.00H61.95M60.70,271.75V274.25" stroke="#34508c" stroke-width="1.0"/>
<polygon points="60.70,271.88 61.58,273.00 60.70,274.12 59.83,273.00" fill="#34508c"/>
<line x1="62.20" y1="279.20" x2="62.20" y2="285.20" stroke="#34508c" stroke-width="0.9"/>
<path d="M60.95,282.20H63.45M62.20,280.95V283.45" stroke="#34508c" stroke-width="1.0"/>
<polygon points="62.20,281.07 63.08,282.20 62.20,283.32 61.33,282.20" fill="#34508c"/>
<line x1="64.10" y1="269.90" x2="64.10" y2="275.90" stroke="#34508c" stroke-width="0.9"/>
<path d="M62.85,272.90H65.35M64.10,271.65V274.15" stroke="#34508c" stroke-width="1.0"/>
<polygon points="64.10,271.77 64.97,272.90 64.10,274.02 63.22,272.90" fill="#34508c"/>
<line x1="65.60" y1="272.00" x2="65.60" y2="278.00" stroke="#34508c" stroke-width="0.9"/>
<path d="M64.35,275.00H66.85M65.60,273.75V276.25" stroke="#34508c" stroke-width="1.0"/>
<polygon points="65.60,273.88 66.47,275.00 65.60,276.12 64.72,275.00" fill="#34508c"/>
<line x1="67.20" y1="285.00" x2="67.20" y2="291.00" stroke="#34508c" stroke-width="0.9"/>
<path d="M65.95,288.00H68.45M67.20,286.75V289.25" stroke="#34508c" stroke-width="1.0"/>
<polygon points="67.20,286.88 68.08,288.00 67.20,289.12 66.33,288.00" fill="#34508c"/>
<line x1="68.40" y1="291.00" x2="68.40" y2="297.00" stroke="#34508c" stroke-width="0.9"/>
<path d="M67.15,294.00H69.65M68.40,292.75V295.25" stroke="#34508c" stroke-width="1.0"/>
<polygon points="68.40,292.88 69.28,294.00 68.40,295.12 67.53,294.00" fill="#34508c"/>
<line x1="69.60" y1="294.70" x2="69.60" y2="300.70" stroke="#34508c" stroke-width="0.9"/>
<path d="M68.35,297.70H70.85M69.60,296.45V298.95" stroke="#34508c" stroke-width="1.0"/>
<polygon points="69.60,296.57 70.47,297.70 69.60,298.82 68.72,297.70" fill="#34508c"/>
<line x1="70.90" y1="284.80" x2="70.90" y2="290.80" stroke="#34508c" stroke-width="0.9"/>
<path d="M69.65,287.80H72.15M70.90,286.55V289.05" stroke="#34508c" stroke-width="1.0"/>
<polygon points="70.90,286.68 71.78,287.80 70.90,288.93 70.03,287.80" fill="#34508c"/>
<line x1="72.10" y1="279.80" x2="72.10" y2="285.80" stroke="#34508c" stroke-width="0.9"/>
<path d="M70.85,282.80H73.35M72.10,281.55V284.05" stroke="#34508c" stroke-width="1.0"/>
<polygon points="72.10,281.68 72.97,282.80 72.10,283.93 71.22,282.80" fill="#34508c"/>
<line x1="73.40" y1="278.50" x2="73.40" y2="284.50" stroke="#34508c" stroke-width="0.9"/>
<path d="M72.15,281.50H74.65M73.40,280.25V282.75" stroke="#34508c" stroke-width="1.0"/>
<polygon points="73.40,280.38 74.28,281.50 73.40,282.62 72.53,281.50" fill="#34508c"/>
<line x1="74.50" y1="295.00" x2="74.50" y2="301.00" stroke="#34508c" stroke-width="0.9"/>
<path d="M73.25,298.00H75.75M74.50,296.75V299.25" stroke="#34508c" stroke-width="1.0"/>
<polygon points="74.50,296.88 75.38,298.00 74.50,299.12 73.62,298.00" fill="#34508c"/>
<line x1="75.70" y1="298.40" x2="75.70" y2="304.40" stroke="#34508c" stroke-width="0.9"/>
<path d="M74.45,301.40H76.95M75.70,300.15V302.65" stroke="#34508c" stroke-width="1.0"/>
<polygon points="75.70,300.27 76.58,301.40 75.70,302.52 74.83,301.40" fill="#34508c"/>
<line x1="76.90" y1="302.10" x2="76.90" y2="308.10" stroke="#34508c" stroke-width="0.9"/>
<path d="M75.65,305.10H78.15M76.90,303.85V306.35" stroke="#34508c" stroke-width="1.0"/>
<polygon points="76.90,303.98 77.78,305.10 76.90,306.23 76.03,305.10" fill="#34508c"/>
<line x1="78.20" y1="313.00" x2="78.20" y2="319.00" stroke="#34508c" stroke-width="0.9"/>
<path d="M76.95,316.00H79.45M78.20,314.75V317.25" stroke="#34508c" stroke-width="1.0"/>
<polygon points="78.20,314.88 79.08,316.00 78.20,317.12 77.33,316.00" fill="#34508c"/>
<line x1="79.30" y1="345.00" x2="79.30" y2="351.00" stroke="#34508c" stroke-width="0.9"/>
<path d="M78.05,348.00H80.55M79.30,346.75V349.25" stroke="#34508c" stroke-width="1.0"/>
<polygon points="79.30,346.88 80.17,348.00 79.30,349.12 78.42,348.00" fill="#34508c"/>
<line x1="80.60" y1="328.00" x2="80.60" y2="334.00" stroke="#34508c" stroke-width="0.9"/>
<path d="M79.35,331.00H81.85M80.60,329.75V332.25" stroke="#34508c" stroke-width="1.0"/>
<polygon points="80.60,329.88 81.47,331.00 80.60,332.12 79.72,331.00" fill="#34508c"/>
<line x1="82.00" y1="323.00" x2="82.00" y2="329.00" stroke="#34508c" stroke-width="0.9"/>
<path d="M80.75,326.00H83.25M82.00,324.75V327.25" stroke="#34508c" stroke-width="1.0"/>
<polygon points="82.00,324.88 82.88,326.00 82.00,327.12 81.12,326.00" fill="#34508c"/>
<line x1="83.50" y1="320.00" x2="83.50" y2="326.00" stroke="#34508c" stroke-width="0.9"/>
<path d="M82.25,323.00H84.75M83.50,321.75V324.25" stroke="#34508c" stroke-width="1.0"/>
<polygon points="83.50,321.88 84.38,323.00 83.50,324.12 82.62,323.00" fill="#34508c"/>
<line x1="85.00" y1="316.00" x2="85.00" y2="322.00" stroke="#34508c" stroke-width="0.9"/>
<path d="M83.75,319.00H86.25M85.00,317.75V320.25" stroke="#34508c" stroke-width="1.0"/>
<polygon points="85.00,317.88 85.88,319.00 85.00,320.12 84.12,319.00" fill="#34508c"/>
<line x1="85.80" y1="302.10" x2="85.80" y2="308.10" stroke="#34508c" stroke-width="0.9"/>
<path d="M84.55,305.10H87.05M85.80,303.85V306.35" stroke="#34508c" stroke-width="1.0"/>
<polygon points="85.80,303.98 86.67,305.10 85.80,306.23 84.92,305.10" fill="#34508c"/>
<line x1="86.90" y1="306.00" x2="86.90" y2="312.00" stroke="#34508c" stroke-width="0.9"/>
<path d="M85.65,309.00H88.15M86.90,307.75V310.25" stroke="#34508c" stroke-width="1.0"/>
<polygon points="86.90,307.88 87.78,309.00 86.90,310.12 86.03,309.00" fill="#34508c"/>
<line x1="87.60" y1="294.70" x2="87.60" y2="300.70" stroke="#34508c" stroke-width="0.9"/>
<path d="M86.35,297.70H88.85M87.60,296.45V298.95" stroke="#34508c" stroke-width="1.0"/>
<polygon points="87.60,296.57 88.47,297.70 87.60,298.82 86.72,297.70" fill="#34508c"/>
<line x1="88.90" y1="291.00" x2="88.90" y2="297.00" stroke="#34508c" stroke-width="0.9"/>
<path d="M87.65,294.00H90.15M88.90,292.75V295.25" stroke="#34508c" stroke-width="1.0"/>
<polygon points="88.90,292.88 89.78,294.00 88.90,295.12 88.03,294.00" fill="#34508c"/>
<line x1="90.10" y1="279.20" x2="90.10" y2="285.20" stroke="#34508c" stroke-width="0.9"/>
<path d="M88.85,282.20H91.35M90.10,280.95V283.45" stroke="#34508c" stroke-width="1.0"/>
<polygon points="90.10,281.07 90.97,282.20 90.10,283.32 89.22,282.20" fill="#34508c"/>
<line x1="91.30" y1="277.00" x2="91.30" y2="283.00" stroke="#34508c" stroke-width="0.9"/>
<path d="M90.05,280.00H92.55M91.30,278.75V281.25" stroke="#34508c" stroke-width="1.0"/>
<polygon points="91.30,278.88 92.17,280.00 91.30,281.12 90.42,280.00" fill="#34508c"/>
<line x1="92.00" y1="276.10" x2="92.00" y2="282.10" stroke="#34508c" stroke-width="0.9"/>
<path d="M90.75,279.10H93.25M92.00,277.85V280.35" stroke="#34508c" stroke-width="1.0"/>
<polygon points="92.00,277.98 92.88,279.10 92.00,280.23 91.12,279.10" fill="#34508c"/>
<line x1="93.80" y1="279.80" x2="93.80" y2="285.80" stroke="#34508c" stroke-width="0.9"/>
<path d="M92.55,282.80H95.05M93.80,281.55V284.05" stroke="#34508c" stroke-width="1.0"/>
<polygon points="93.80,281.68 94.67,282.80 93.80,283.93 92.92,282.80" fill="#34508c"/>
<line x1="95.70" y1="274.90" x2="95.70" y2="280.90" stroke="#34508c" stroke-width="0.9"/>
<path d="M94.45,277.90H96.95M95.70,276.65V279.15" stroke="#34508c" stroke-width="1.0"/>
<polygon points="95.70,276.77 96.58,277.90 95.70,279.02 94.83,277.90" fill="#34508c"/>
<line x1="97.60" y1="271.10" x2="97.60" y2="277.10" stroke="#34508c" stroke-width="0.9"/>
<path d="M96.35,274.10H98.85M97.60,272.85V275.35" stroke="#34508c" stroke-width="1.0"/>
<polygon points="97.60,272.98 98.47,274.10 97.60,275.23 96.72,274.10" fill="#34508c"/>
<line x1="99.00" y1="274.00" x2="99.00" y2="280.00" stroke="#34508c" stroke-width="0.9"/>
<path d="M97.75,277.00H100.25M99.00,275.75V278.25" stroke="#34508c" stroke-width="1.0"/>
<polygon points="99.00,275.88 99.88,277.00 99.00,278.12 98.12,277.00" fill="#34508c"/>
<line x1="100.00" y1="277.30" x2="100.00" y2="283.30" stroke="#34508c" stroke-width="0.9"/>
<path d="M98.75,280.30H101.25M100.00,279.05V281.55" stroke="#34508c" stroke-width="1.0"/>
<polygon points="100.00,279.18 100.88,280.30 100.00,281.43 99.12,280.30" fill="#34508c"/>
<line x1="101.90" y1="273.00" x2="101.90" y2="279.00" stroke="#34508c" stroke-width="0.9"/>
<path d="M100.65,276.00H103.15M101.90,274.75V277.25" stroke="#34508c" stroke-width="1.0"/>
<polygon points="101.90,274.88 102.78,276.00 101.90,277.12 101.03,276.00" fill="#34508c"/>
<line x1="103.80" y1="271.10" x2="103.80" y2="277.10" stroke="#34508c" stroke-width="0.9"/>
<path d="M102.55,274.10H105.05M103.80,272.85V275.35" stroke="#34508c" stroke-width="1.0"/>
<polygon points="103.80,272.98 104.67,274.10 103.80,275.23 102.92,274.10" fill="#34508c"/>
<line x1="105.00" y1="273.00" x2="105.00" y2="279.00" stroke="#34508c" stroke-width="0.9"/>
<path d="M103.75,276.00H106.25M105.00,274.75V277.25" stroke="#34508c" stroke-width="1.0"/>
<polygon points="105.00,274.88 105.88,276.00 105.00,277.12 104.12,276.00" fill="#34508c"/>
<line x1="106.20" y1="274.20" x2="106.20" y2="280.20" stroke="#34508c" stroke-width="0.9"/>
<path d="M104.95,277.20H107.45M106.20,275.95V278.45" stroke="#34508c" stroke-width="1.0"/>
<polygon points="106.20,276.07 107.08,277.20 106.20,278.32 105.33,277.20" fill="#34508c"/>
<line x1="108.10" y1="265.50" x2="108.10" y2="271.50" stroke="#34508c" stroke-width="0.9"/>
<path d="M106.85,268.50H109.35M108.10,267.25V269.75" stroke="#34508c" stroke-width="1.0"/>
<polygon points="108.10,267.38 108.97,268.50 108.10,269.62 107.22,268.50" fill="#34508c"/>
<line x1="110.00" y1="267.40" x2="110.00" y2="273.40" stroke="#34508c" stroke-width="0.9"/>
<path d="M108.75,270.40H111.25M110.00,269.15V271.65" stroke="#34508c" stroke-width="1.0"/>
<polygon points="110.00,269.27 110.88,270.40 110.00,271.52 109.12,270.40" fill="#34508c"/>
<line x1="111.80" y1="273.60" x2="111.80" y2="279.60" stroke="#34508c" stroke-width="0.9"/>
<path d="M110.55,276.60H113.05M111.80,275.35V277.85" stroke="#34508c" stroke-width="1.0"/>
<polygon points="111.80,275.48 112.67,276.60 111.80,277.73 110.92,276.60" fill="#34508c"/>
<line x1="113.70" y1="261.80" x2="113.70" y2="267.80" stroke="#34508c" stroke-width="0.9"/>
<path d="M112.45,264.80H114.95M113.70,263.55V266.05" stroke="#34508c" stroke-width="1.0"/>
<polygon points="113.70,263.68 114.58,264.80 113.70,265.93 112.83,264.80" fill="#34508c"/>
<line x1="115.60" y1="271.10" x2="115.60" y2="277.10" stroke="#34508c" stroke-width="0.9"/>
<path d="M114.35,274.10H116.85M115.60,272.85V275.35" stroke="#34508c" stroke-width="1.0"/>
<polygon points="115.60,272.98 116.47,274.10 115.60,275.23 114.72,274.10" fill="#34508c"/>
<line x1="117.40" y1="266.20" x2="117.40" y2="272.20" stroke="#34508c" stroke-width="0.9"/>
<path d="M116.15,269.20H118.65M117.40,267.95V270.45" stroke="#34508c" stroke-width="1.0"/>
<polygon points="117.40,268.07 118.28,269.20 117.40,270.32 116.53,269.20" fill="#34508c"/>
<line x1="119.30" y1="271.70" x2="119.30" y2="277.70" stroke="#34508c" stroke-width="0.9"/>
<path d="M118.05,274.70H120.55M119.30,273.45V275.95" stroke="#34508c" stroke-width="1.0"/>
<polygon points="119.30,273.57 120.17,274.70 119.30,275.82 118.42,274.70" fill="#34508c"/>
<line x1="121.00" y1="273.00" x2="121.00" y2="279.00" stroke="#34508c" stroke-width="0.9"/>
<path d="M119.75,276.00H122.25M121.00,274.75V277.25" stroke="#34508c" stroke-width="1.0"/>
<polygon points="121.00,274.88 121.88,276.00 121.00,277.12 120.12,276.00" fill="#34508c"/>
</g>
<g clip-path="url(#cBR)">
<path d="M131.60,256.00 L131.83,260.07 L132.15,265.93 L132.50,272.00 L132.84,278.08 L133.20,284.39 L133.60,290.00 L134.07,294.30 L134.58,297.91 L135.00,301.80 L135.22,306.57 L135.36,311.61 L135.60,316.10 L136.04,319.99 L136.59,323.31 L137.20,325.40 L137.87,325.53 L138.60,324.41 L139.30,323.50 L139.95,323.22 L140.58,323.15 L141.20,323.50 L141.80,324.34 L142.40,325.60 L143.00,327.30 L143.65,329.60 L144.31,332.33 L144.90,335.00 L145.34,337.46 L145.70,339.84 L146.10,342.10 L146.60,344.32 L147.13,346.40 L147.60,348.00 L147.94,349.05 L148.22,349.61 L148.60,349.50 L149.19,348.51 L149.89,346.84 L150.50,344.90 L150.93,342.80 L151.27,340.42 L151.70,337.80 L152.29,334.73 L152.95,331.41 L153.60,328.50 L154.21,326.00 L154.80,323.91 L155.40,322.90 L156.02,323.53 L156.64,325.24 L157.20,327.00 L157.64,328.73 L158.01,330.51 L158.40,331.60 L158.80,331.75 L159.22,331.21 L159.70,330.00 L160.30,327.91 L160.97,325.14 L161.60,322.30 L162.15,319.47 L162.65,316.57 L163.10,314.00 L163.44,312.10 L163.72,310.53 L164.10,308.60 L164.68,305.61 L165.36,302.27 L166.00,300.00 L166.55,299.55 L167.05,300.16 L167.50,301.00 L167.86,301.74 L168.17,302.71 L168.50,304.00 L168.86,305.67 L169.25,307.66 L169.70,309.90 L170.27,312.51 L170.91,315.36 L171.50,318.00 L171.94,320.52 L172.32,322.83 L172.80,324.20 L173.47,324.02 L174.24,322.90 L175.00,322.00 L175.71,321.66 L176.42,321.54 L177.10,321.70 L177.75,322.29 L178.37,323.16 L179.00,324.00 L179.64,324.61 L180.29,325.20 L180.90,326.00 L181.46,327.11 L181.99,328.44 L182.50,330.00 L183.01,332.04 L183.50,334.30 L184.00,336.00 L184.47,337.24 L184.95,337.93 L185.50,337.00 L186.15,333.14 L186.87,327.67 L187.70,323.50 L188.71,321.88 L189.83,321.56 L190.80,321.70 L191.49,322.10 L192.04,322.96 L192.60,324.00 L193.22,325.34 L193.86,326.86 L194.50,327.90 L195.16,328.24 L195.83,328.10 L196.50,327.50 L197.14,326.35 L197.77,324.74 L198.50,323.00 L199.36,321.00 L200.31,318.87 L201.30,317.30 L202.36,316.58 L203.44,316.42 L204.40,316.70 L205.12,317.43 L205.71,318.60 L206.30,320.00 L207.00,321.84 L207.71,323.92 L208.20,325.40" fill="none" stroke="#34508c" stroke-width="1.1" stroke-linejoin="round" stroke-dasharray="5.2,1.8,1.2,1.8"/>
<line x1="135.00" y1="298.80" x2="135.00" y2="304.80" stroke="#34508c" stroke-width="0.9"/>
<path d="M133.75,301.80H136.25M135.00,300.55V303.05" stroke="#34508c" stroke-width="1.0"/>
<polygon points="135.00,300.68 135.88,301.80 135.00,302.93 134.12,301.80" fill="#34508c"/>
<line x1="139.30" y1="325.50" x2="139.30" y2="331.50" stroke="#34508c" stroke-width="0.9"/>
<path d="M138.05,328.50H140.55M139.30,327.25V329.75" stroke="#34508c" stroke-width="1.0"/>
<polygon points="139.30,327.38 140.18,328.50 139.30,329.62 138.43,328.50" fill="#34508c"/>
<line x1="143.00" y1="325.50" x2="143.00" y2="331.50" stroke="#34508c" stroke-width="0.9"/>
<path d="M141.75,328.50H144.25M143.00,327.25V329.75" stroke="#34508c" stroke-width="1.0"/>
<polygon points="143.00,327.38 143.88,328.50 143.00,329.62 142.12,328.50" fill="#34508c"/>
<line x1="148.00" y1="346.20" x2="148.00" y2="352.20" stroke="#34508c" stroke-width="0.9"/>
<path d="M146.75,349.20H149.25M148.00,347.95V350.45" stroke="#34508c" stroke-width="1.0"/>
<polygon points="148.00,348.07 148.88,349.20 148.00,350.32 147.12,349.20" fill="#34508c"/>
<line x1="151.70" y1="334.80" x2="151.70" y2="340.80" stroke="#34508c" stroke-width="0.9"/>
<path d="M150.45,337.80H152.95M151.70,336.55V339.05" stroke="#34508c" stroke-width="1.0"/>
<polygon points="151.70,336.68 152.57,337.80 151.70,338.93 150.82,337.80" fill="#34508c"/>
<line x1="155.40" y1="319.90" x2="155.40" y2="325.90" stroke="#34508c" stroke-width="0.9"/>
<path d="M154.15,322.90H156.65M155.40,321.65V324.15" stroke="#34508c" stroke-width="1.0"/>
<polygon points="155.40,321.77 156.28,322.90 155.40,324.02 154.53,322.90" fill="#34508c"/>
<line x1="159.80" y1="324.90" x2="159.80" y2="330.90" stroke="#34508c" stroke-width="0.9"/>
<path d="M158.55,327.90H161.05M159.80,326.65V329.15" stroke="#34508c" stroke-width="1.0"/>
<polygon points="159.80,326.77 160.68,327.90 159.80,329.02 158.93,327.90" fill="#34508c"/>
<line x1="164.10" y1="305.60" x2="164.10" y2="311.60" stroke="#34508c" stroke-width="0.9"/>
<path d="M162.85,308.60H165.35M164.10,307.35V309.85" stroke="#34508c" stroke-width="1.0"/>
<polygon points="164.10,307.48 164.97,308.60 164.10,309.73 163.22,308.60" fill="#34508c"/>
<line x1="168.50" y1="292.60" x2="168.50" y2="298.60" stroke="#34508c" stroke-width="0.9"/>
<path d="M167.25,295.60H169.75M168.50,294.35V296.85" stroke="#34508c" stroke-width="1.0"/>
<polygon points="168.50,294.48 169.38,295.60 168.50,296.73 167.62,295.60" fill="#34508c"/>
<line x1="172.80" y1="310.00" x2="172.80" y2="316.00" stroke="#34508c" stroke-width="0.9"/>
<path d="M171.55,313.00H174.05M172.80,311.75V314.25" stroke="#34508c" stroke-width="1.0"/>
<polygon points="172.80,311.88 173.68,313.00 172.80,314.12 171.93,313.00" fill="#34508c"/>
<line x1="176.90" y1="324.30" x2="176.90" y2="330.30" stroke="#34508c" stroke-width="0.9"/>
<path d="M175.65,327.30H178.15M176.90,326.05V328.55" stroke="#34508c" stroke-width="1.0"/>
<polygon points="176.90,326.18 177.78,327.30 176.90,328.43 176.03,327.30" fill="#34508c"/>
<line x1="180.90" y1="322.40" x2="180.90" y2="328.40" stroke="#34508c" stroke-width="0.9"/>
<path d="M179.65,325.40H182.15M180.90,324.15V326.65" stroke="#34508c" stroke-width="1.0"/>
<polygon points="180.90,324.27 181.78,325.40 180.90,326.52 180.03,325.40" fill="#34508c"/>
<line x1="185.20" y1="335.40" x2="185.20" y2="341.40" stroke="#34508c" stroke-width="0.9"/>
<path d="M183.95,338.40H186.45M185.20,337.15V339.65" stroke="#34508c" stroke-width="1.0"/>
<polygon points="185.20,337.27 186.07,338.40 185.20,339.52 184.32,338.40" fill="#34508c"/>
<line x1="189.60" y1="332.90" x2="189.60" y2="338.90" stroke="#34508c" stroke-width="0.9"/>
<path d="M188.35,335.90H190.85M189.60,334.65V337.15" stroke="#34508c" stroke-width="1.0"/>
<polygon points="189.60,334.77 190.47,335.90 189.60,337.02 188.72,335.90" fill="#34508c"/>
<line x1="193.90" y1="322.40" x2="193.90" y2="328.40" stroke="#34508c" stroke-width="0.9"/>
<path d="M192.65,325.40H195.15M193.90,324.15V326.65" stroke="#34508c" stroke-width="1.0"/>
<polygon points="193.90,324.27 194.78,325.40 193.90,326.52 193.03,325.40" fill="#34508c"/>
<line x1="197.60" y1="322.80" x2="197.60" y2="328.80" stroke="#34508c" stroke-width="0.9"/>
<path d="M196.35,325.80H198.85M197.60,324.55V327.05" stroke="#34508c" stroke-width="1.0"/>
<polygon points="197.60,324.68 198.47,325.80 197.60,326.93 196.72,325.80" fill="#34508c"/>
<line x1="202.00" y1="318.00" x2="202.00" y2="324.00" stroke="#34508c" stroke-width="0.9"/>
<path d="M200.75,321.00H203.25M202.00,319.75V322.25" stroke="#34508c" stroke-width="1.0"/>
<polygon points="202.00,319.88 202.88,321.00 202.00,322.12 201.12,321.00" fill="#34508c"/>
<line x1="206.30" y1="309.40" x2="206.30" y2="315.40" stroke="#34508c" stroke-width="0.9"/>
<path d="M205.05,312.40H207.55M206.30,311.15V313.65" stroke="#34508c" stroke-width="1.0"/>
<polygon points="206.30,311.27 207.18,312.40 206.30,313.52 205.43,312.40" fill="#34508c"/>
<line x1="210.60" y1="315.00" x2="210.60" y2="321.00" stroke="#34508c" stroke-width="0.9"/>
<path d="M209.35,318.00H211.85M210.60,316.75V319.25" stroke="#34508c" stroke-width="1.0"/>
<polygon points="210.60,316.88 211.47,318.00 210.60,319.12 209.72,318.00" fill="#34508c"/>
</g>
<g clip-path="url(#cE)">
<path d="M518.00,190.57 L518.50,187.86 L519.00,184.95 L519.50,181.86 L520.00,178.63 L520.50,175.28 L521.00,171.85 L521.50,168.37 L522.00,164.88 L522.50,161.40 L523.00,157.98 L523.50,154.64 L524.00,151.42 L524.50,148.35 L525.00,145.46 L525.50,142.77 L526.00,140.32 L526.50,138.12 L527.00,136.20 L527.50,134.58 L528.00,133.27 L528.50,132.29 L529.00,131.64 L529.50,131.33 L530.00,131.36 L530.50,131.74 L531.00,132.46 L531.50,133.51 L532.00,134.88 L532.50,136.56 L533.00,138.54 L533.50,140.79 L534.00,143.29 L534.50,146.02 L535.00,148.95 L535.50,152.05 L536.00,155.30 L536.50,158.66 L537.00,162.09 L537.50,165.58 L538.00,169.07 L538.50,172.54 L539.00,175.96 L539.50,179.29 L540.00,182.49 L540.50,185.55 L541.00,188.42 L541.50,191.09 L542.00,193.51 L542.50,195.68 L543.00,197.57 L543.50,199.16 L544.00,200.44 L544.50,201.39 L545.00,202.01 L545.50,202.28 L546.00,202.22 L546.50,201.80 L547.00,201.05 L547.50,199.97 L548.00,198.56 L548.50,196.85 L549.00,194.85 L549.50,192.57 L550.00,190.05 L550.50,187.30 L551.00,184.35 L551.50,181.23 L552.00,177.97 L552.50,174.60 L553.00,171.16 L553.50,167.67 L554.00,164.18 L554.50,160.71 L555.00,157.30 L555.50,153.99 L556.00,150.79 L556.50,147.75 L557.00,144.90 L557.50,142.26 L558.00,139.86 L558.50,137.71 L559.00,135.85 L559.50,134.29 L560.00,133.05 L560.50,132.13 L561.00,131.55 L561.50,131.31 L562.00,131.41 L562.50,131.86 L563.00,132.64 L563.50,133.76 L564.00,135.19 L564.50,136.94 L565.00,138.97 L565.50,141.27 L566.00,143.82 L566.50,146.59 L567.00,149.56 L567.50,152.69 L568.00,155.96 L568.50,159.34 L569.00,162.79 L569.50,166.28 L570.00,169.77 L570.50,173.23 L571.00,176.63 L571.50,179.94 L572.00,183.12 L572.50,186.14 L573.00,188.97 L573.50,191.59 L574.00,193.97 L574.50,196.08 L575.00,197.92 L575.50,199.45 L576.00,200.66 L576.50,201.54 L577.00,202.09 L577.50,202.30 L578.00,202.16 L578.50,201.68 L579.00,200.86 L579.50,199.71 L580.00,198.25 L580.50,196.47 L581.00,194.41 L581.50,192.09 L582.00,189.51 L582.50,186.72 L583.00,183.74 L583.50,180.59 L584.00,177.30 L584.50,173.92 L585.00,170.46 L585.50,166.97 L586.00,163.48 L586.50,160.02 L587.00,156.63 L587.50,153.34 L588.00,150.17 L588.50,147.17 L589.00,144.36 L589.50,141.76 L590.00,139.41 L590.50,137.32 L591.00,135.52 L591.50,134.02 L592.00,132.84 L592.50,131.99 L593.00,131.47 L593.50,131.30 L594.00,131.47 L594.50,131.99 L595.00,132.84 L595.50,134.02 L596.00,135.52 L596.50,137.32 L597.00,139.41 L597.50,141.76 L598.00,144.36 L598.50,147.17 L599.00,150.17 L599.50,153.34 L600.00,156.63 L600.50,160.02 L601.00,163.48 L601.50,166.97 L602.00,170.46 L602.50,173.92 L603.00,177.30 L603.50,180.59 L604.00,183.74 L604.50,186.72 L605.00,189.51 L605.50,192.09 L606.00,194.41 L606.50,196.47 L607.00,198.25 L607.50,199.71 L608.00,200.86 L608.50,201.68 L609.00,202.16 L609.50,202.30 L610.00,202.09 L610.50,201.54 L611.00,200.66 L611.50,199.45 L612.00,197.92 L612.50,196.08 L613.00,193.97 L613.50,191.59 L614.00,188.97 L614.50,186.14 L615.00,183.12 L615.50,179.94 L616.00,176.63 L616.50,173.23 L617.00,169.77 L617.50,166.28 L618.00,162.79 L618.50,159.34 L619.00,155.96 L619.50,152.69 L620.00,149.56 L620.50,146.59 L621.00,143.82 L621.50,141.27 L622.00,138.97 L622.50,136.94 L623.00,135.19 L623.50,133.76 L624.00,132.64 L624.50,131.86 L625.00,131.41 L625.50,131.31 L626.00,131.55 L626.50,132.13 L627.00,133.05 L627.50,134.29 L628.00,135.85 L628.50,137.71 L629.00,139.86 L629.50,142.26 L630.00,144.90 L630.50,147.75 L631.00,150.79 L631.50,153.99 L632.00,157.30 L632.50,160.71 L633.00,164.18 L633.50,167.67 L634.00,171.16 L634.50,174.60 L635.00,177.97 L635.50,181.23 L636.00,184.35 L636.50,187.30 L637.00,190.05 L637.50,192.57 L638.00,194.85 L638.50,196.85 L639.00,198.56 L639.50,199.97 L640.00,201.05 L640.50,201.80 L641.00,202.22 L641.50,202.28 L642.00,202.01 L642.50,201.39 L643.00,200.44 L643.50,199.16 L644.00,197.57" fill="none" stroke="#3f97b1" stroke-width="1.15" stroke-linejoin="round" stroke-dasharray="4.4,2.3"/>
<path d="M518.00,212.15 L518.50,211.89 L519.00,211.42 L519.50,210.74 L520.00,209.85 L520.50,208.76 L521.00,207.47 L521.50,205.99 L522.00,204.33 L522.50,202.50 L523.00,200.50 L523.50,198.34 L524.00,196.04 L524.50,193.60 L525.00,191.05 L525.50,188.39 L526.00,185.63 L526.50,182.80 L527.00,179.90 L527.50,176.95 L528.00,173.96 L528.50,170.95 L529.00,167.94 L529.50,164.94 L530.00,161.96 L530.50,159.02 L531.00,156.14 L531.50,153.33 L532.00,150.60 L532.50,147.97 L533.00,145.45 L533.50,143.06 L534.00,140.80 L534.50,138.69 L535.00,136.73 L535.50,134.95 L536.00,133.34 L536.50,131.92 L537.00,130.69 L537.50,129.66 L538.00,128.83 L538.50,128.22 L539.00,127.81 L539.50,127.62 L540.00,127.64 L540.50,127.87 L541.00,128.32 L541.50,128.98 L542.00,129.85 L542.50,130.92 L543.00,132.19 L543.50,133.65 L544.00,135.29 L544.50,137.11 L545.00,139.10 L545.50,141.24 L546.00,143.53 L546.50,145.95 L547.00,148.49 L547.50,151.14 L548.00,153.89 L548.50,156.71 L549.00,159.61 L549.50,162.55 L550.00,165.54 L550.50,168.54 L551.00,171.56 L551.50,174.56 L552.00,177.54 L552.50,180.48 L553.00,183.37 L553.50,186.19 L554.00,188.93 L554.50,191.57 L555.00,194.10 L555.50,196.51 L556.00,198.78 L556.50,200.91 L557.00,202.88 L557.50,204.68 L558.00,206.30 L558.50,207.75 L559.00,208.99 L559.50,210.05 L560.00,210.89 L560.50,211.53 L561.00,211.96 L561.50,212.17 L562.00,212.17 L562.50,211.96 L563.00,211.53 L563.50,210.89 L564.00,210.05 L564.50,208.99 L565.00,207.75 L565.50,206.30 L566.00,204.68 L566.50,202.88 L567.00,200.91 L567.50,198.78 L568.00,196.51 L568.50,194.10 L569.00,191.57 L569.50,188.93 L570.00,186.19 L570.50,183.37 L571.00,180.48 L571.50,177.54 L572.00,174.56 L572.50,171.56 L573.00,168.54 L573.50,165.54 L574.00,162.55 L574.50,159.61 L575.00,156.71 L575.50,153.89 L576.00,151.14 L576.50,148.49 L577.00,145.95 L577.50,143.53 L578.00,141.24 L578.50,139.10 L579.00,137.11 L579.50,135.29 L580.00,133.65 L580.50,132.19 L581.00,130.92 L581.50,129.85 L582.00,128.98 L582.50,128.32 L583.00,127.87 L583.50,127.64 L584.00,127.62 L584.50,127.81 L585.00,128.22 L585.50,128.83 L586.00,129.66 L586.50,130.69 L587.00,131.92 L587.50,133.34 L588.00,134.95 L588.50,136.73 L589.00,138.69 L589.50,140.80 L590.00,143.06 L590.50,145.45 L591.00,147.97 L591.50,150.60 L592.00,153.33 L592.50,156.14 L593.00,159.02 L593.50,161.96 L594.00,164.94 L594.50,167.94 L595.00,170.95 L595.50,173.96 L596.00,176.95 L596.50,179.90 L597.00,182.80 L597.50,185.63 L598.00,188.39 L598.50,191.05 L599.00,193.60 L599.50,196.04 L600.00,198.34 L600.50,200.50 L601.00,202.50 L601.50,204.33 L602.00,205.99 L602.50,207.47 L603.00,208.76 L603.50,209.85 L604.00,210.74 L604.50,211.42 L605.00,211.89 L605.50,212.15 L606.00,212.19 L606.50,212.02 L607.00,211.63 L607.50,211.04 L608.00,210.23 L608.50,209.22 L609.00,208.01 L609.50,206.61 L610.00,205.02 L610.50,203.25 L611.00,201.31 L611.50,199.22 L612.00,196.97 L612.50,194.59 L613.00,192.09 L613.50,189.47 L614.00,186.75 L614.50,183.94 L615.00,181.07 L615.50,178.13 L616.00,175.16 L616.50,172.16 L617.00,169.15 L617.50,166.14 L618.00,163.15 L618.50,160.19 L619.00,157.29 L619.50,154.45 L620.00,151.68 L620.50,149.01 L621.00,146.45 L621.50,144.00 L622.00,141.69 L622.50,139.51 L623.00,137.50 L623.50,135.64 L624.00,133.96 L624.50,132.47 L625.00,131.16 L625.50,130.05 L626.00,129.14 L626.50,128.44 L627.00,127.95 L627.50,127.67 L628.00,127.60 L628.50,127.75 L629.00,128.12 L629.50,128.69 L630.00,129.48 L630.50,130.47 L631.00,131.66 L631.50,133.04 L632.00,134.61 L632.50,136.36 L633.00,138.28 L633.50,140.36 L634.00,142.59 L634.50,144.96 L635.00,147.46 L635.50,150.07 L636.00,152.78 L636.50,155.57 L637.00,158.44 L637.50,161.37 L638.00,164.34 L638.50,167.34 L639.00,170.35 L639.50,173.36 L640.00,176.35 L640.50,179.31 L641.00,182.22 L641.50,185.07 L642.00,187.84 L642.50,190.53 L643.00,193.10 L643.50,195.56 L644.00,197.89 L644.50,200.08 L645.00,202.11 L645.50,203.98 L646.00,205.68 L646.50,207.19 L647.00,208.52 L647.50,209.65 L648.00,210.58 L648.50,211.30 L649.00,211.81 L649.50,212.11 L650.00,212.20 L650.50,212.07 L651.00,211.73 L651.50,211.17 L652.00,210.41 L652.50,209.44 L653.00,208.27 L653.50,206.90 L654.00,205.35 L654.50,203.62 L655.00,201.72 L655.50,199.65 L656.00,197.43 L656.50,195.08 L657.00,192.60 L657.50,190.00 L658.00,187.30 L658.50,184.51 L659.00,181.65 L659.50,178.72 L660.00,175.76 L660.50,172.76 L661.00,169.75 L661.50,166.74 L662.00,163.74 L662.50,160.78 L663.00,157.86 L663.50,155.01 L664.00,152.23 L664.50,149.54 L665.00,146.95 L665.50,144.48 L666.00,142.14 L666.50,139.94 L667.00,137.89 L667.50,136.00 L668.00,134.29 L668.50,132.75 L669.00,131.41 L669.50,130.26 L670.00,129.31 L670.50,128.56 L671.00,128.03 L671.50,127.71 L672.00,127.60 L672.50,127.71 L673.00,128.03 L673.50,128.56 L674.00,129.31 L674.50,130.26 L675.00,131.41 L675.50,132.75 L676.00,134.29 L676.50,136.00 L677.00,137.89 L677.50,139.94 L678.00,142.14 L678.50,144.48" fill="none" stroke="#3f97b1" stroke-width="1.15" stroke-linejoin="round" />
<line x1="518.10" y1="195.75" x2="518.10" y2="203.05" stroke="#3f97b1" stroke-width="0.9"/>
<rect x="516.65" y="197.95" width="2.90" height="2.90" fill="#3f97b1"/>
<line x1="523.10" y1="154.99" x2="523.10" y2="161.81" stroke="#3f97b1" stroke-width="0.9"/>
<rect x="521.65" y="156.95" width="2.90" height="2.90" fill="#3f97b1"/>
<line x1="528.40" y1="123.49" x2="528.40" y2="131.71" stroke="#3f97b1" stroke-width="0.9"/>
<rect x="526.95" y="126.15" width="2.90" height="2.90" fill="#3f97b1"/>
<line x1="533.60" y1="140.20" x2="533.60" y2="146.80" stroke="#3f97b1" stroke-width="0.9"/>
<rect x="532.15" y="142.05" width="2.90" height="2.90" fill="#3f97b1"/>
<line x1="539.20" y1="170.45" x2="539.20" y2="178.35" stroke="#3f97b1" stroke-width="0.9"/>
<rect x="537.75" y="172.95" width="2.90" height="2.90" fill="#3f97b1"/>
<line x1="544.20" y1="192.69" x2="544.20" y2="200.11" stroke="#3f97b1" stroke-width="0.9"/>
<rect x="542.75" y="194.95" width="2.90" height="2.90" fill="#3f97b1"/>
<line x1="549.40" y1="199.32" x2="549.40" y2="205.88" stroke="#3f97b1" stroke-width="0.9"/>
<rect x="547.95" y="201.15" width="2.90" height="2.90" fill="#3f97b1"/>
<line x1="552.30" y1="181.59" x2="552.30" y2="189.41" stroke="#3f97b1" stroke-width="0.9"/>
<rect x="550.85" y="184.05" width="2.90" height="2.90" fill="#3f97b1"/>
<line x1="554.70" y1="160.15" x2="554.70" y2="166.65" stroke="#3f97b1" stroke-width="0.9"/>
<rect x="553.25" y="161.95" width="2.90" height="2.90" fill="#3f97b1"/>
<line x1="562.40" y1="140.19" x2="562.40" y2="147.81" stroke="#3f97b1" stroke-width="0.9"/>
<rect x="560.95" y="142.55" width="2.90" height="2.90" fill="#3f97b1"/>
<line x1="567.40" y1="142.00" x2="567.40" y2="148.60" stroke="#3f97b1" stroke-width="0.9"/>
<rect x="565.95" y="143.85" width="2.90" height="2.90" fill="#3f97b1"/>
<line x1="573.10" y1="188.87" x2="573.10" y2="195.53" stroke="#3f97b1" stroke-width="0.9"/>
<rect x="571.65" y="190.75" width="2.90" height="2.90" fill="#3f97b1"/>
<line x1="578.10" y1="197.91" x2="578.10" y2="205.49" stroke="#3f97b1" stroke-width="0.9"/>
<rect x="576.65" y="200.25" width="2.90" height="2.90" fill="#3f97b1"/>
<line x1="583.60" y1="168.54" x2="583.60" y2="177.26" stroke="#3f97b1" stroke-width="0.9"/>
<rect x="582.15" y="171.45" width="2.90" height="2.90" fill="#3f97b1"/>
<line x1="588.60" y1="143.43" x2="588.60" y2="150.17" stroke="#3f97b1" stroke-width="0.9"/>
<rect x="587.15" y="145.35" width="2.90" height="2.90" fill="#3f97b1"/>
<line x1="593.50" y1="129.39" x2="593.50" y2="136.41" stroke="#3f97b1" stroke-width="0.9"/>
<rect x="592.05" y="131.45" width="2.90" height="2.90" fill="#3f97b1"/>
<line x1="598.80" y1="148.02" x2="598.80" y2="156.18" stroke="#3f97b1" stroke-width="0.9"/>
<rect x="597.35" y="150.65" width="2.90" height="2.90" fill="#3f97b1"/>
<line x1="603.90" y1="173.87" x2="603.90" y2="182.93" stroke="#3f97b1" stroke-width="0.9"/>
<rect x="602.45" y="176.95" width="2.90" height="2.90" fill="#3f97b1"/>
<line x1="609.50" y1="198.69" x2="609.50" y2="206.71" stroke="#3f97b1" stroke-width="0.9"/>
<rect x="608.05" y="201.25" width="2.90" height="2.90" fill="#3f97b1"/>
<line x1="614.40" y1="186.24" x2="614.40" y2="193.76" stroke="#3f97b1" stroke-width="0.9"/>
<rect x="612.95" y="188.55" width="2.90" height="2.90" fill="#3f97b1"/>
<line x1="618.70" y1="153.43" x2="618.70" y2="162.57" stroke="#3f97b1" stroke-width="0.9"/>
<rect x="617.25" y="156.55" width="2.90" height="2.90" fill="#3f97b1"/>
<line x1="625.00" y1="125.53" x2="625.00" y2="132.07" stroke="#3f97b1" stroke-width="0.9"/>
<rect x="623.55" y="127.35" width="2.90" height="2.90" fill="#3f97b1"/>
<line x1="630.20" y1="132.60" x2="630.20" y2="141.40" stroke="#3f97b1" stroke-width="0.9"/>
<rect x="628.75" y="135.55" width="2.90" height="2.90" fill="#3f97b1"/>
<line x1="635.20" y1="170.59" x2="635.20" y2="177.81" stroke="#3f97b1" stroke-width="0.9"/>
<rect x="633.75" y="172.75" width="2.90" height="2.90" fill="#3f97b1"/>
<line x1="640.50" y1="202.70" x2="640.50" y2="209.50" stroke="#3f97b1" stroke-width="0.9"/>
<rect x="639.05" y="204.65" width="2.90" height="2.90" fill="#3f97b1"/>
<line x1="645.50" y1="189.94" x2="645.50" y2="196.66" stroke="#3f97b1" stroke-width="0.9"/>
<rect x="644.05" y="191.85" width="2.90" height="2.90" fill="#3f97b1"/>
<line x1="518.50" y1="215.11" x2="518.50" y2="222.49" stroke="#3f97b1" stroke-width="0.9"/>
<path d="M516.80,218.80H520.20M518.50,217.10V220.50" stroke="#3f97b1" stroke-width="1.0"/>
<polygon points="518.50,217.27 519.69,218.80 518.50,220.33 517.31,218.80" fill="#3f97b1"/>
<line x1="526.00" y1="182.09" x2="526.00" y2="191.11" stroke="#3f97b1" stroke-width="0.9"/>
<path d="M524.30,186.60H527.70M526.00,184.90V188.30" stroke="#3f97b1" stroke-width="1.0"/>
<polygon points="526.00,185.07 527.19,186.60 526.00,188.13 524.81,186.60" fill="#3f97b1"/>
<line x1="531.00" y1="153.61" x2="531.00" y2="160.59" stroke="#3f97b1" stroke-width="0.9"/>
<path d="M529.30,157.10H532.70M531.00,155.40V158.80" stroke="#3f97b1" stroke-width="1.0"/>
<polygon points="531.00,155.57 532.19,157.10 531.00,158.63 529.81,157.10" fill="#3f97b1"/>
<line x1="534.80" y1="136.87" x2="534.80" y2="145.13" stroke="#3f97b1" stroke-width="0.9"/>
<path d="M533.10,141.00H536.50M534.80,139.30V142.70" stroke="#3f97b1" stroke-width="1.0"/>
<polygon points="534.80,139.47 535.99,141.00 534.80,142.53 533.61,141.00" fill="#3f97b1"/>
<line x1="539.30" y1="123.58" x2="539.30" y2="132.02" stroke="#3f97b1" stroke-width="0.9"/>
<path d="M537.60,127.80H541.00M539.30,126.10V129.50" stroke="#3f97b1" stroke-width="1.0"/>
<polygon points="539.30,126.27 540.49,127.80 539.30,129.33 538.11,127.80" fill="#3f97b1"/>
<line x1="544.80" y1="138.20" x2="544.80" y2="145.80" stroke="#3f97b1" stroke-width="0.9"/>
<path d="M543.10,142.00H546.50M544.80,140.30V143.70" stroke="#3f97b1" stroke-width="1.0"/>
<polygon points="544.80,140.47 545.99,142.00 544.80,143.53 543.61,142.00" fill="#3f97b1"/>
<line x1="548.50" y1="155.92" x2="548.50" y2="164.08" stroke="#3f97b1" stroke-width="0.9"/>
<path d="M546.80,160.00H550.20M548.50,158.30V161.70" stroke="#3f97b1" stroke-width="1.0"/>
<polygon points="548.50,158.47 549.69,160.00 548.50,161.53 547.31,160.00" fill="#3f97b1"/>
<line x1="552.00" y1="182.00" x2="552.00" y2="188.60" stroke="#3f97b1" stroke-width="0.9"/>
<path d="M550.30,185.30H553.70M552.00,183.60V187.00" stroke="#3f97b1" stroke-width="1.0"/>
<polygon points="552.00,183.77 553.19,185.30 552.00,186.83 550.81,185.30" fill="#3f97b1"/>
<line x1="555.80" y1="194.70" x2="555.80" y2="201.30" stroke="#3f97b1" stroke-width="0.9"/>
<path d="M554.10,198.00H557.50M555.80,196.30V199.70" stroke="#3f97b1" stroke-width="1.0"/>
<polygon points="555.80,196.47 556.99,198.00 555.80,199.53 554.61,198.00" fill="#3f97b1"/>
<line x1="559.90" y1="199.07" x2="559.90" y2="206.13" stroke="#3f97b1" stroke-width="0.9"/>
<path d="M558.20,202.60H561.60M559.90,200.90V204.30" stroke="#3f97b1" stroke-width="1.0"/>
<polygon points="559.90,201.07 561.09,202.60 559.90,204.13 558.71,202.60" fill="#3f97b1"/>
<line x1="565.80" y1="196.71" x2="565.80" y2="205.29" stroke="#3f97b1" stroke-width="0.9"/>
<path d="M564.10,201.00H567.50M565.80,199.30V202.70" stroke="#3f97b1" stroke-width="1.0"/>
<polygon points="565.80,199.47 566.99,201.00 565.80,202.53 564.61,201.00" fill="#3f97b1"/>
<line x1="569.50" y1="178.12" x2="569.50" y2="185.88" stroke="#3f97b1" stroke-width="0.9"/>
<path d="M567.80,182.00H571.20M569.50,180.30V183.70" stroke="#3f97b1" stroke-width="1.0"/>
<polygon points="569.50,180.47 570.69,182.00 569.50,183.53 568.31,182.00" fill="#3f97b1"/>
<line x1="573.10" y1="158.00" x2="573.10" y2="165.40" stroke="#3f97b1" stroke-width="0.9"/>
<path d="M571.40,161.70H574.80M573.10,160.00V163.40" stroke="#3f97b1" stroke-width="1.0"/>
<polygon points="573.10,160.17 574.29,161.70 573.10,163.23 571.91,161.70" fill="#3f97b1"/>
<line x1="578.10" y1="141.76" x2="578.10" y2="150.04" stroke="#3f97b1" stroke-width="0.9"/>
<path d="M576.40,145.90H579.80M578.10,144.20V147.60" stroke="#3f97b1" stroke-width="1.0"/>
<polygon points="578.10,144.37 579.29,145.90 578.10,147.43 576.91,145.90" fill="#3f97b1"/>
<line x1="585.50" y1="127.07" x2="585.50" y2="134.93" stroke="#3f97b1" stroke-width="0.9"/>
<path d="M583.80,131.00H587.20M585.50,129.30V132.70" stroke="#3f97b1" stroke-width="1.0"/>
<polygon points="585.50,129.47 586.69,131.00 585.50,132.53 584.31,131.00" fill="#3f97b1"/>
<line x1="591.50" y1="147.52" x2="591.50" y2="154.88" stroke="#3f97b1" stroke-width="0.9"/>
<path d="M589.80,151.20H593.20M591.50,149.50V152.90" stroke="#3f97b1" stroke-width="1.0"/>
<polygon points="591.50,149.67 592.69,151.20 591.50,152.73 590.31,151.20" fill="#3f97b1"/>
<line x1="595.00" y1="167.53" x2="595.00" y2="176.47" stroke="#3f97b1" stroke-width="0.9"/>
<path d="M593.30,172.00H596.70M595.00,170.30V173.70" stroke="#3f97b1" stroke-width="1.0"/>
<polygon points="595.00,170.47 596.19,172.00 595.00,173.53 593.81,172.00" fill="#3f97b1"/>
<line x1="598.70" y1="186.58" x2="598.70" y2="195.22" stroke="#3f97b1" stroke-width="0.9"/>
<path d="M597.00,190.90H600.40M598.70,189.20V192.60" stroke="#3f97b1" stroke-width="1.0"/>
<polygon points="598.70,189.37 599.89,190.90 598.70,192.43 597.51,190.90" fill="#3f97b1"/>
<line x1="605.00" y1="220.41" x2="605.00" y2="227.59" stroke="#3f97b1" stroke-width="0.9"/>
<path d="M603.30,224.00H606.70M605.00,222.30V225.70" stroke="#3f97b1" stroke-width="1.0"/>
<polygon points="605.00,222.47 606.19,224.00 605.00,225.53 603.81,224.00" fill="#3f97b1"/>
<line x1="612.00" y1="195.88" x2="612.00" y2="204.12" stroke="#3f97b1" stroke-width="0.9"/>
<path d="M610.30,200.00H613.70M612.00,198.30V201.70" stroke="#3f97b1" stroke-width="1.0"/>
<polygon points="612.00,198.47 613.19,200.00 612.00,201.53 610.81,200.00" fill="#3f97b1"/>
<line x1="617.30" y1="151.36" x2="617.30" y2="159.44" stroke="#3f97b1" stroke-width="0.9"/>
<path d="M615.60,155.40H619.00M617.30,153.70V157.10" stroke="#3f97b1" stroke-width="1.0"/>
<polygon points="617.30,153.87 618.49,155.40 617.30,156.93 616.11,155.40" fill="#3f97b1"/>
<line x1="621.00" y1="135.40" x2="621.00" y2="144.60" stroke="#3f97b1" stroke-width="0.9"/>
<path d="M619.30,140.00H622.70M621.00,138.30V141.70" stroke="#3f97b1" stroke-width="1.0"/>
<polygon points="621.00,138.47 622.19,140.00 621.00,141.53 619.81,140.00" fill="#3f97b1"/>
<line x1="625.00" y1="119.43" x2="625.00" y2="128.17" stroke="#3f97b1" stroke-width="0.9"/>
<path d="M623.30,123.80H626.70M625.00,122.10V125.50" stroke="#3f97b1" stroke-width="1.0"/>
<polygon points="625.00,122.27 626.19,123.80 625.00,125.33 623.81,123.80" fill="#3f97b1"/>
<line x1="631.50" y1="142.34" x2="631.50" y2="149.66" stroke="#3f97b1" stroke-width="0.9"/>
<path d="M629.80,146.00H633.20M631.50,144.30V147.70" stroke="#3f97b1" stroke-width="1.0"/>
<polygon points="631.50,144.47 632.69,146.00 631.50,147.53 630.31,146.00" fill="#3f97b1"/>
<line x1="637.70" y1="163.73" x2="637.70" y2="173.27" stroke="#3f97b1" stroke-width="0.9"/>
<path d="M636.00,168.50H639.40M637.70,166.80V170.20" stroke="#3f97b1" stroke-width="1.0"/>
<polygon points="637.70,166.97 638.89,168.50 637.70,170.03 636.51,168.50" fill="#3f97b1"/>
<line x1="644.20" y1="212.61" x2="644.20" y2="219.39" stroke="#3f97b1" stroke-width="0.9"/>
<path d="M642.50,216.00H645.90M644.20,214.30V217.70" stroke="#3f97b1" stroke-width="1.0"/>
<polygon points="644.20,214.47 645.39,216.00 644.20,217.53 643.01,216.00" fill="#3f97b1"/>
<line x1="650.80" y1="202.73" x2="650.80" y2="210.47" stroke="#3f97b1" stroke-width="0.9"/>
<path d="M649.10,206.60H652.50M650.80,204.90V208.30" stroke="#3f97b1" stroke-width="1.0"/>
<polygon points="650.80,205.07 651.99,206.60 650.80,208.13 649.61,206.60" fill="#3f97b1"/>
<line x1="658.50" y1="177.29" x2="658.50" y2="186.11" stroke="#3f97b1" stroke-width="0.9"/>
<path d="M656.80,181.70H660.20M658.50,180.00V183.40" stroke="#3f97b1" stroke-width="1.0"/>
<polygon points="658.50,180.17 659.69,181.70 658.50,183.23 657.31,181.70" fill="#3f97b1"/>
<line x1="663.60" y1="140.06" x2="663.60" y2="146.94" stroke="#3f97b1" stroke-width="0.9"/>
<path d="M661.90,143.50H665.30M663.60,141.80V145.20" stroke="#3f97b1" stroke-width="1.0"/>
<polygon points="663.60,141.97 664.79,143.50 663.60,145.03 662.41,143.50" fill="#3f97b1"/>
<line x1="667.50" y1="131.02" x2="667.50" y2="138.98" stroke="#3f97b1" stroke-width="0.9"/>
<path d="M665.80,135.00H669.20M667.50,133.30V136.70" stroke="#3f97b1" stroke-width="1.0"/>
<polygon points="667.50,133.47 668.69,135.00 667.50,136.53 666.31,135.00" fill="#3f97b1"/>
<line x1="671.50" y1="125.54" x2="671.50" y2="132.06" stroke="#3f97b1" stroke-width="0.9"/>
<path d="M669.80,128.80H673.20M671.50,127.10V130.50" stroke="#3f97b1" stroke-width="1.0"/>
<polygon points="671.50,127.27 672.69,128.80 671.50,130.33 670.31,128.80" fill="#3f97b1"/>
<line x1="677.10" y1="146.53" x2="677.10" y2="155.07" stroke="#3f97b1" stroke-width="0.9"/>
<path d="M675.40,150.80H678.80M677.10,149.10V152.50" stroke="#3f97b1" stroke-width="1.0"/>
<polygon points="677.10,149.27 678.29,150.80 677.10,152.33 675.91,150.80" fill="#3f97b1"/>
</g>
<g clip-path="url(#cF)">
<path d="M518.32,278.30 L518.99,278.36 L519.65,278.42 L520.31,278.50 L520.98,278.59 L521.64,278.70 L522.31,278.82 L522.97,278.95 L523.63,279.10 L524.30,279.27 L524.96,279.45 L525.62,279.65 L526.29,279.87 L526.95,280.11 L527.61,280.37 L528.28,280.64 L528.94,280.94 L529.61,281.25 L530.27,281.59 L530.93,281.94 L531.60,282.32 L532.26,282.72 L532.92,283.13 L533.59,283.57 L534.25,284.03 L534.91,284.51 L535.58,285.01 L536.24,285.54 L536.90,286.08 L537.57,286.65 L538.23,287.24 L538.90,287.84 L539.56,288.47 L540.22,289.12 L540.89,289.80 L541.55,290.49 L542.21,291.20 L542.88,291.93 L543.54,292.68 L544.20,293.45 L544.87,294.25 L545.53,295.05 L546.20,295.88 L546.86,296.73 L547.52,297.59 L548.19,298.47 L548.85,299.37 L549.51,300.28 L550.18,301.21 L550.84,302.15 L551.50,303.11 L552.17,304.08 L552.83,305.07 L553.49,306.07 L554.16,307.08 L554.82,308.10 L555.49,309.13 L556.15,310.17 L556.81,311.22 L557.48,312.28 L558.14,313.35 L558.80,314.42 L559.47,315.50 L560.13,316.59 L560.79,317.68 L561.46,318.77 L562.12,319.87 L562.79,320.97 L563.45,322.07 L564.11,323.18 L564.78,324.28 L565.44,325.38 L566.10,326.49 L566.77,327.59 L567.43,328.68 L568.09,329.78 L568.76,330.87 L569.42,331.95 L570.08,333.03 L570.75,334.11 L571.41,335.18 L572.08,336.23 L572.74,337.29 L573.40,338.33 L574.07,339.36 L574.73,340.39 L575.39,341.40 L576.06,342.41 L576.72,343.40 L577.38,344.38 L578.05,345.34 L578.71,346.30 L579.38,347.24 L580.04,348.17 L580.70,349.08 L581.37,349.98 L582.03,350.87 L582.69,351.73 L583.36,352.59 L584.02,353.43 L584.68,354.25 L585.35,355.06 L586.01,355.85 L586.67,356.62 L587.34,357.38 L588.00,358.12 L588.67,358.85 L589.33,359.56 L589.99,360.25 L590.66,360.92 L591.32,361.58 L591.98,362.22 L592.65,362.85 L593.31,363.45 L593.97,364.04 L594.64,364.62 L595.30,365.18 L595.97,365.72 L596.63,366.24 L597.29,366.75 L597.96,367.25 L598.62,367.72 L599.28,368.19 L599.95,368.63 L600.61,369.07 L601.27,369.48 L601.94,369.89 L602.60,370.27 L603.26,370.65 L603.93,371.01 L604.59,371.36 L605.26,371.69 L605.92,372.01 L606.58,372.32 L607.25,372.62 L607.91,372.90 L608.57,373.18 L609.24,373.44 L609.90,373.69 L610.56,373.93 L611.23,374.16 L611.89,374.38 L612.56,374.59 L613.22,374.79 L613.88,374.98 L614.55,375.16 L615.21,375.33 L615.87,375.50 L616.54,375.66 L617.20,375.81 L617.86,375.95 L618.53,376.08 L619.19,376.21 L619.85,376.33 L620.52,376.45 L621.18,376.56 L621.85,376.66 L622.51,376.76 L623.17,376.85 L623.84,376.94 L624.50,377.02 L625.16,377.10 L625.83,377.17 L626.49,377.24 L627.15,377.30 L627.82,377.36 L628.48,377.42 L629.15,377.47 L629.81,377.52 L630.47,377.57 L631.14,377.62 L631.80,377.66 L632.46,377.70 L633.13,377.73 L633.79,377.77 L634.45,377.80 L635.12,377.83 L635.78,377.86 L636.44,377.88 L637.11,377.91 L637.77,377.93 L638.44,377.95 L639.10,377.97 L639.76,377.99 L640.43,378.00 L641.09,378.02 L641.75,378.03 L642.42,378.05 L643.08,378.06 L643.74,378.07 L644.41,378.08 L645.07,378.09 L645.74,378.10 L646.40,378.11 L647.06,378.11 L647.73,378.12 L648.39,378.13 L649.05,378.13 L649.72,378.14 L650.38,378.14 L651.04,378.15 L651.71,378.15 L652.37,378.16 L653.03,378.16 L653.70,378.16 L654.36,378.17 L655.03,378.17 L655.69,378.17 L656.35,378.17 L657.02,378.18 L657.68,378.18 L658.34,378.18 L659.01,378.18 L659.67,378.18 L660.33,378.18 L661.00,378.19 L661.66,378.19 L662.33,378.19 L662.99,378.19 L663.65,378.19 L664.32,378.19 L664.98,378.19 L665.64,378.19 L666.31,378.19 L666.97,378.19 L667.63,378.19 L668.30,378.19 L668.96,378.19 L669.62,378.19 L670.29,378.19 L670.95,378.19 L671.62,378.19 L672.28,378.19 L672.94,378.19 L673.61,378.19 L674.27,378.19 L674.93,378.20 L675.60,378.20 L676.26,378.20 L676.92,378.20 L677.59,378.20" fill="none" stroke="#6488e6" stroke-width="1.15" stroke-linejoin="round" />
<line x1="518.30" y1="277.50" x2="518.30" y2="286.90" stroke="#6488e6" stroke-width="1.1"/>
<circle cx="518.30" cy="282.20" r="1.25" fill="#6488e6"/>
<line x1="538.20" y1="276.70" x2="538.20" y2="285.50" stroke="#6488e6" stroke-width="1.1"/>
<circle cx="538.20" cy="281.10" r="1.25" fill="#6488e6"/>
<line x1="558.20" y1="317.40" x2="558.20" y2="326.80" stroke="#6488e6" stroke-width="1.1"/>
<circle cx="558.20" cy="322.10" r="1.25" fill="#6488e6"/>
<line x1="577.30" y1="340.20" x2="577.30" y2="348.20" stroke="#6488e6" stroke-width="1.1"/>
<circle cx="577.30" cy="344.20" r="1.25" fill="#6488e6"/>
<line x1="597.60" y1="363.30" x2="597.60" y2="372.30" stroke="#6488e6" stroke-width="1.1"/>
<circle cx="597.60" cy="367.80" r="1.25" fill="#6488e6"/>
<line x1="617.50" y1="366.90" x2="617.50" y2="375.90" stroke="#6488e6" stroke-width="1.1"/>
<circle cx="617.50" cy="371.40" r="1.25" fill="#6488e6"/>
<line x1="637.40" y1="371.30" x2="637.40" y2="380.30" stroke="#6488e6" stroke-width="1.1"/>
<circle cx="637.40" cy="375.80" r="1.25" fill="#6488e6"/>
<line x1="657.30" y1="373.80" x2="657.30" y2="382.80" stroke="#6488e6" stroke-width="1.1"/>
<circle cx="657.30" cy="378.30" r="1.25" fill="#6488e6"/>
<line x1="676.70" y1="378.70" x2="676.70" y2="387.70" stroke="#6488e6" stroke-width="1.1"/>
<circle cx="676.70" cy="383.20" r="1.25" fill="#6488e6"/>
</g>
<rect x="43.40" y="231.40" width="42.10" height="13.70" rx="1.8" fill="#fff" fill-opacity="0.85" stroke="#d9d9d9" stroke-width="0.9"/>
<path d="M47.10,238.20H54.90M51.00,234.30V242.10" stroke="#2a84a2" stroke-width="1.2" stroke-opacity="0.75"/>
<polygon points="51.00,236.80 52.10,238.20 51.00,239.60 49.90,238.20" fill="#2a84a2"/>
<rect x="43.60" y="375.10" width="41.90" height="14.20" rx="1.8" fill="#fff" fill-opacity="0.85" stroke="#d9d9d9" stroke-width="0.9"/>
<path d="M47.20,381.60H55.00M51.10,377.70V385.50" stroke="#34508c" stroke-width="1.2" stroke-opacity="0.75"/>
<polygon points="51.10,380.20 52.20,381.60 51.10,383.00 50.00,381.60" fill="#34508c"/>
<rect x="148.60" y="116.80" width="61.90" height="14.70" rx="1.8" fill="#fff" fill-opacity="0.85" stroke="#d9d9d9" stroke-width="0.9"/>
<path d="M152.00,123.60H159.80M155.90,119.70V127.50" stroke="#2a84a2" stroke-width="1.2" stroke-opacity="0.75"/>
<polygon points="155.90,122.20 157.00,123.60 155.90,125.00 154.80,123.60" fill="#2a84a2"/>
<rect x="148.60" y="260.60" width="61.80" height="13.60" rx="1.8" fill="#fff" fill-opacity="0.85" stroke="#d9d9d9" stroke-width="0.9"/>
<path d="M152.20,267.30H160.00M156.10,263.40V271.20" stroke="#34508c" stroke-width="1.2" stroke-opacity="0.75"/>
<polygon points="156.10,265.90 157.20,267.30 156.10,268.70 155.00,267.30" fill="#34508c"/>
<line x1="192.18" y1="149.12" x2="207.76" y2="133.54" stroke="#62abbb" stroke-width="2.07"/>
<polygon points="209.26,132.04 207.99,136.82 204.48,133.31" fill="#62abbb"/>
<polygon points="207.21,134.09 206.23,137.99 203.31,135.07" fill="#62abbb"/>
<circle cx="199.50" cy="141.80" r="6.90" fill="url(#gn1)"/>
<text x="198.40" y="144.56" font-size="11.454" text-anchor="middle" font-weight="normal" font-style="normal" fill="#111" stroke="#111" stroke-width="0.15" >n</text>
<text x="203.64" y="145.80" font-size="7.590000000000001" text-anchor="middle" font-weight="normal" font-style="normal" fill="#111" stroke="#111" stroke-width="0.12" >1</text>
<line x1="191.98" y1="292.82" x2="207.56" y2="277.24" stroke="#6677a6" stroke-width="2.07"/>
<polygon points="209.06,275.74 207.79,280.52 204.28,277.01" fill="#6677a6"/>
<polygon points="207.01,277.79 206.03,281.69 203.11,278.77" fill="#6677a6"/>
<circle cx="199.30" cy="285.50" r="6.90" fill="url(#gn2)"/>
<text x="198.20" y="288.26" font-size="11.454" text-anchor="middle" font-weight="normal" font-style="normal" fill="#111" stroke="#111" stroke-width="0.15" >n</text>
<text x="203.44" y="289.50" font-size="7.590000000000001" text-anchor="middle" font-weight="normal" font-style="normal" fill="#111" stroke="#111" stroke-width="0.12" >2</text>
<rect x="653.40" y="206.30" width="29.60" height="25.90" rx="1.8" fill="#fff" fill-opacity="0.85" stroke="#d9d9d9" stroke-width="0.9"/>
<path d="M656.40,213.20H663.60M660.00,209.60V216.80" stroke="#3f97b1" stroke-width="1.2" stroke-opacity="0.75"/>
<polygon points="660.00,211.80 661.10,213.20 660.00,214.60 658.90,213.20" fill="#3f97b1"/>
<line x1="660" y1="221" x2="660" y2="228.6" stroke="#3f97b1" stroke-width="1.1"/><line x1="656.4" y1="224.8" x2="663.6" y2="224.8" stroke="#3f97b1" stroke-width="1.1"/><rect x="658.4" y="223.2" width="3.2" height="3.2" fill="#3f97b1"/>
<path d="M672,209.3 V217 M669.9,213.9 Q671.4,215 672,217.4 Q672.6,215 674.1,213.9 M672,229.2 V222.3 M669.9,225.6 Q671.4,224.5 672,222.0 Q672.6,224.5 674.1,225.6" fill="none" stroke="#666" stroke-width="0.9"/>
<text x="675.40" y="217.80" font-size="5.8" text-anchor="start" font-weight="normal" font-style="italic" fill="#444" >e</text>
<text x="675.40" y="229.60" font-size="5.8" text-anchor="start" font-weight="normal" font-style="italic" fill="#444" >e</text>
<line x1="663.41" y1="203.49" x2="677.99" y2="188.91" stroke="#62abbb" stroke-width="1.95"/>
<polygon points="679.49,187.41 678.30,191.91 674.99,188.60" fill="#62abbb"/>
<polygon points="677.56,189.34 676.64,193.01 673.89,190.26" fill="#62abbb"/>
<circle cx="670.30" cy="196.60" r="6.50" fill="url(#gn1)"/>
<text x="669.26" y="199.20" font-size="10.79" text-anchor="middle" font-weight="normal" font-style="normal" fill="#111" stroke="#111" stroke-width="0.15" >n</text>
<text x="674.20" y="200.37" font-size="7.15" text-anchor="middle" font-weight="normal" font-style="normal" fill="#111" stroke="#111" stroke-width="0.12" >1</text>
<rect x="623.50" y="275.40" width="56.90" height="13.70" rx="1.8" fill="#fff" fill-opacity="0.85" stroke="#d9d9d9" stroke-width="0.9"/>
<path d="M626.90,282.30H634.70M630.80,278.40V286.20" stroke="#6488e6" stroke-width="1.2" stroke-opacity="0.75"/>
<polygon points="630.80,280.90 631.90,282.30 630.80,283.70 629.70,282.30" fill="#6488e6"/>
<text x="59.00" y="240.80" font-size="8.6" text-anchor="start" font-weight="normal" font-style="italic" fill="#111" textLength="6.8" lengthAdjust="spacingAndGlyphs" stroke="#111" stroke-width="0.15" >N</text>
<line x1="67.30" y1="239.10" x2="72.50" y2="239.10" stroke="#222" stroke-width="0.75" />
<line x1="67.30" y1="237.10" x2="72.50" y2="237.10" stroke="#222" stroke-width="0.75" />
<text x="74.70" y="240.80" font-size="8.6" text-anchor="start" font-weight="normal" font-style="normal" fill="#111" textLength="8.3" lengthAdjust="spacingAndGlyphs" stroke="#111" stroke-width="0.15" >48</text>
<text x="59.00" y="384.50" font-size="8.6" text-anchor="start" font-weight="normal" font-style="italic" fill="#111" textLength="6.8" lengthAdjust="spacingAndGlyphs" stroke="#111" stroke-width="0.15" >N</text>
<line x1="67.30" y1="382.80" x2="72.50" y2="382.80" stroke="#222" stroke-width="0.75" />
<line x1="67.30" y1="380.80" x2="72.50" y2="380.80" stroke="#222" stroke-width="0.75" />
<text x="74.70" y="384.50" font-size="8.6" text-anchor="start" font-weight="normal" font-style="normal" fill="#111" textLength="8.3" lengthAdjust="spacingAndGlyphs" stroke="#111" stroke-width="0.15" >92</text>
<text x="164.20" y="126.40" font-size="8.6" text-anchor="start" font-weight="normal" font-style="italic" fill="#111" textLength="3.0" lengthAdjust="spacingAndGlyphs" stroke="#111" stroke-width="0.15" >τ</text>
<line x1="168.20" y1="124.70" x2="174.70" y2="124.70" stroke="#222" stroke-width="0.75" />
<line x1="168.20" y1="122.70" x2="174.70" y2="122.70" stroke="#222" stroke-width="0.75" />
<text x="176.70" y="126.40" font-size="8.6" text-anchor="start" font-weight="normal" font-style="normal" fill="#111" textLength="18.1" lengthAdjust="spacingAndGlyphs" stroke="#111" stroke-width="0.15" >8.395</text>
<text x="197.50" y="126.40" font-size="8.6" text-anchor="start" font-weight="normal" font-style="normal" fill="#111" textLength="9.3" lengthAdjust="spacingAndGlyphs" stroke="#111" stroke-width="0.15" >µs</text>
<text x="164.20" y="270.20" font-size="8.6" text-anchor="start" font-weight="normal" font-style="italic" fill="#111" textLength="3.0" lengthAdjust="spacingAndGlyphs" stroke="#111" stroke-width="0.15" >τ</text>
<line x1="168.20" y1="268.50" x2="174.70" y2="268.50" stroke="#222" stroke-width="0.75" />
<line x1="168.20" y1="266.50" x2="174.70" y2="266.50" stroke="#222" stroke-width="0.75" />
<text x="176.70" y="270.20" font-size="8.6" text-anchor="start" font-weight="normal" font-style="normal" fill="#111" textLength="18.1" lengthAdjust="spacingAndGlyphs" stroke="#111" stroke-width="0.15" >8.397</text>
<text x="197.50" y="270.20" font-size="8.6" text-anchor="start" font-weight="normal" font-style="normal" fill="#111" textLength="9.3" lengthAdjust="spacingAndGlyphs" stroke="#111" stroke-width="0.15" >µs</text>
<text x="638.80" y="284.60" font-size="8.2" text-anchor="start" font-weight="normal" font-style="italic" fill="#111" textLength="3.8" lengthAdjust="spacingAndGlyphs" stroke="#111" stroke-width="0.15" >τ</text>
<line x1="643.40" y1="282.90" x2="649.10" y2="282.90" stroke="#222" stroke-width="0.75" />
<line x1="643.40" y1="280.90" x2="649.10" y2="280.90" stroke="#222" stroke-width="0.75" />
<text x="651.10" y="284.60" font-size="8.2" text-anchor="start" font-weight="normal" font-style="normal" fill="#111" textLength="14.4" lengthAdjust="spacingAndGlyphs" stroke="#111" stroke-width="0.15" >8.43</text>
<text x="668.00" y="284.60" font-size="8.2" text-anchor="start" font-weight="normal" font-style="normal" fill="#111" textLength="9.3" lengthAdjust="spacingAndGlyphs" stroke="#111" stroke-width="0.15" >µs</text>
</svg></body></html>
